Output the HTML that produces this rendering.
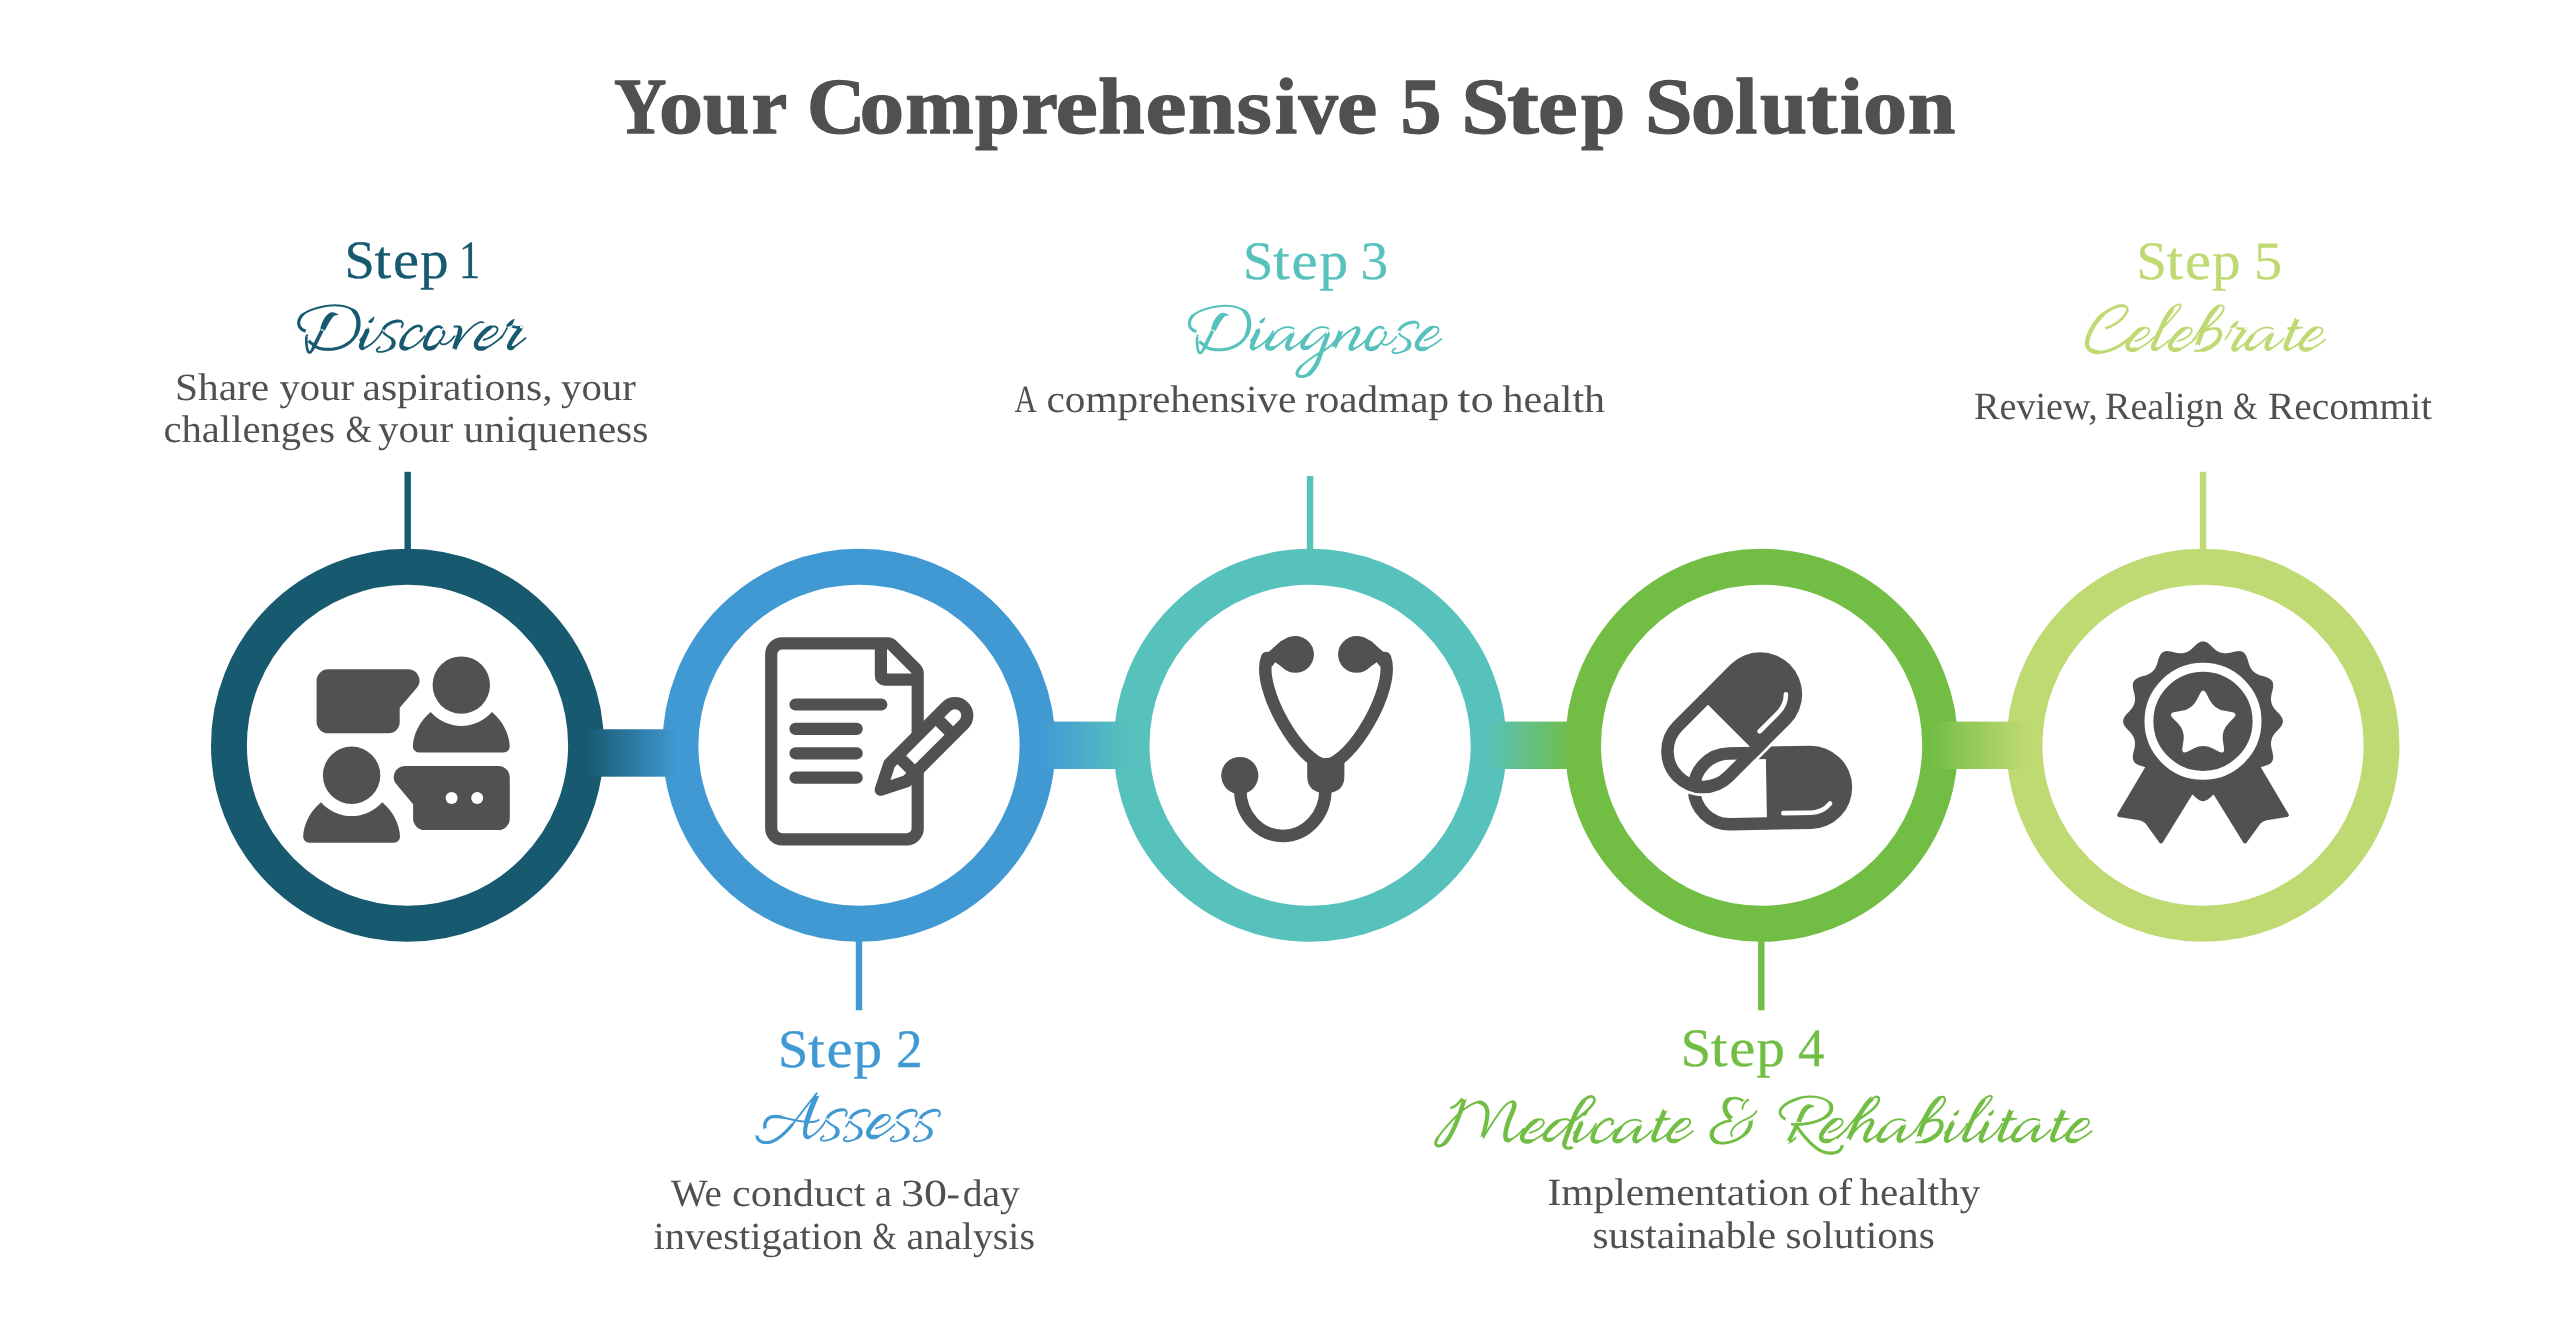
<!DOCTYPE html>
<html><head><meta charset="utf-8"><title>Your Comprehensive 5 Step Solution</title>
<style>
html,body{margin:0;padding:0;background:#fff;}
body{width:2560px;height:1340px;overflow:hidden;font-family:"Liberation Serif",serif;}
svg{display:block;will-change:transform;}
svg text{font-family:"Liberation Serif",serif;text-rendering:geometricPrecision;}
</style></head><body>
<svg width="2560" height="1340" viewBox="0 0 2560 1340">
<rect width="2560" height="1340" fill="#fff"/>
<defs><linearGradient id="g12" gradientUnits="userSpaceOnUse" x1="585.4" y1="0" x2="678.0" y2="0"><stop offset="0" stop-color="#17596F"/><stop offset="1" stop-color="#4199D4"/></linearGradient><linearGradient id="g23" gradientUnits="userSpaceOnUse" x1="1039" y1="0" x2="1131" y2="0"><stop offset="0" stop-color="#4199D4"/><stop offset="1" stop-color="#57C2BC"/></linearGradient><linearGradient id="g34" gradientUnits="userSpaceOnUse" x1="1485.4" y1="0" x2="1575" y2="0"><stop offset="0" stop-color="#57C2BC"/><stop offset="1" stop-color="#72BE44"/></linearGradient><linearGradient id="g45" gradientUnits="userSpaceOnUse" x1="1930.6" y1="0" x2="2027" y2="0"><stop offset="0" stop-color="#72BE44"/><stop offset="1" stop-color="#BFDA73"/></linearGradient></defs>
<circle cx="407.5" cy="745.25" r="178.55" fill="none" stroke="#17596F" stroke-width="35.90"/>
<circle cx="859.0" cy="745.25" r="178.55" fill="none" stroke="#4199D4" stroke-width="35.90"/>
<circle cx="1310.1" cy="745.25" r="178.55" fill="none" stroke="#57C2BC" stroke-width="35.90"/>
<circle cx="1761.6" cy="745.25" r="178.55" fill="none" stroke="#72BE44" stroke-width="35.90"/>
<circle cx="2203.0" cy="745.25" r="178.55" fill="none" stroke="#BFDA73" stroke-width="35.90"/>
<rect x="585.4" y="729.25" width="92.60" height="47.45" fill="url(#g12)"/>
<rect x="1039" y="721.6" width="92.00" height="47.40" fill="url(#g23)"/>
<rect x="1485.4" y="721.6" width="89.60" height="47.40" fill="url(#g34)"/>
<rect x="1930.6" y="721.6" width="96.40" height="47.40" fill="url(#g45)"/>
<rect x="404.50" y="471.8" width="6.4" height="80.20" fill="#17596F"/>
<rect x="855.80" y="938" width="6.4" height="72.30" fill="#4199D4"/>
<rect x="1306.85" y="475.9" width="6.4" height="76.10" fill="#57C2BC"/>
<rect x="1758.10" y="938" width="6.4" height="72.30" fill="#72BE44"/>
<rect x="2199.80" y="471.8" width="6.4" height="80.20" fill="#BFDA73"/>
<g fill="#505252">
<circle cx="461.3" cy="685.1" r="28.7"/><path d="M430.7,712.1 A40.8,40.8 0 0 0 491.9,712.1 C503.3,721.1 509.7,736.1 509.7,746.6 A6,6 0 0 1 503.7,752.6 H418.9 A6,6 0 0 1 412.9,746.6 C412.9,736.1 419.3,721.1 430.7,712.1Z"/>
<circle cx="351.6" cy="775.3" r="28.7"/><path d="M321.0,802.3 A40.8,40.8 0 0 0 382.2,802.3 C393.6,811.3 400.0,826.3 400.0,836.8 A6,6 0 0 1 394.0,842.8 H309.2 A6,6 0 0 1 303.2,836.8 C303.2,826.3 309.6,811.3 321.0,802.3Z"/>
<path d="M328.1,669.3 H408.3 A11.2,11.2 0 0 1 416.7,687.9 L399.7,707.7 V722.3 A11,11 0 0 1 388.7,733.3 H328.1 A11.5,11.5 0 0 1 316.6,721.8 V680.8 A11.5,11.5 0 0 1 328.1,669.3Z"/>
<path d="M498.3,765.9 H405 A11.2,11.2 0 0 0 396.6,784.5 L413.1,804.3 V818.5 A11.5,11.5 0 0 0 424.6,830 H498.3 A11.5,11.5 0 0 0 509.8,818.5 V777.4 A11.5,11.5 0 0 0 498.3,765.9Z"/>
</g>
<circle cx="451.6" cy="797.9" r="6" fill="#fff"/><circle cx="477.2" cy="797.9" r="6" fill="#fff"/>
<g fill="none" stroke="#505252" stroke-width="12.2" stroke-linecap="round" stroke-linejoin="round">
<path d="M782.2,643.4 H887.5 A7,7 0 0 1 892.5,645.5 L915.6,668.6 A7,7 0 0 1 917.7,673.6 V828.3 A11,11 0 0 1 906.7,839.3 H782.2 A11,11 0 0 1 771.2,828.3 V654.4 A11,11 0 0 1 782.2,643.4Z"/>
<path d="M880.9,643.4 V675.7 A4,4 0 0 0 884.9,679.7 H917.7" stroke-linecap="butt"/>
<path d="M795.5,704.5 H881.3 M795.5,728.9 H856.7 M795.5,753.3 H856.7 M795.5,777.7 H856.7"/>
</g>
<g transform="translate(955,715.5) rotate(135)" fill="#fff" stroke="#505252" stroke-width="12.2" stroke-linejoin="round" stroke-linecap="butt">
<path d="M80.5,-12.3 H0 A12.3,12.3 0 0 0 0,12.3 H80.5 L105,0Z"/>
<path d="M15,-12.3 V12.3 M69,-12.3 V12.3" fill="none"/>
</g>
<g fill="#505252" stroke="none">
<circle cx="1295.5" cy="654.4" r="18.4"/><circle cx="1356.5" cy="654.4" r="18.4"/>
<circle cx="1239.8" cy="775.5" r="18.6"/>
<path d="M1307.2,758 H1344.4 V776 Q1344.4,793 1325.8,793 Q1307.2,793 1307.2,776Z"/>
<path d="M1260.8,661 L1266,654 L1271.7,649.2 L1280.6,641.2 L1289.6,636.5 L1292,672.5 L1284.2,668.6 L1275.2,662.3 L1272.5,666Z"/>
<path d="M1391.2,661 L1386.0,654 L1380.3,649.2 L1371.4,641.2 L1362.4,636.5 L1360.0,672.5 L1367.8,668.6 L1376.8,662.3 L1379.5,666Z"/>
</g>
<g fill="none" stroke="#505252" stroke-width="12.5" stroke-linecap="round">
<path d="M1267,658 C1256,688 1301,764.5 1325.8,764.5 C1350.6,764.5 1396,688 1385,658"/>
<path d="M1240.3,790 A42.55,46 0 0 0 1325.4,790"/>
</g>
<g transform="translate(1729.4,788.8) rotate(-1)">
<path d="M38,-35.35 H0 A35.35,35.35 0 0 0 0,35.35 H38" fill="none" stroke="#505252" stroke-width="12.5"/>
<path d="M37,-41.6 H81.2 A41.6,41.6 0 0 1 81.2,41.6 H37Z" fill="#505252"/>
<path d="M100.4,16.4 A25.3,25.3 0 0 1 81.2,25.3 H53.5" fill="none" stroke="#fff" stroke-width="4.6" stroke-linecap="round"/>
</g>
<g transform="translate(1703.2,751.25) rotate(-45)">
<path d="M0,-43.4 H80.6 A43.4,43.4 0 0 1 80.6,43.4 H0 A43.4,43.4 0 0 1 0,-43.4Z" fill="none" stroke="#fff" stroke-width="2.8"/>
<path d="M37.3,-35.75 H0 A35.75,35.75 0 0 0 0,35.75 H37.3" fill="none" stroke="#505252" stroke-width="12.5"/>
<path d="M36.3,-42 H80.6 A42,42 0 0 1 80.6,42 H36.3Z" fill="#505252"/>
<path d="M98.8,18.2 A25.8,25.8 0 0 1 80.6,25.8 H54" fill="none" stroke="#fff" stroke-width="4.6" stroke-linecap="round"/>
</g>
<g fill="#505252" stroke="#505252" stroke-width="4" stroke-linejoin="round">
<path d="M2151.5,760.5 L2119.2,815.1 L2139.8,818.4 Q2145.0,818.9 2148.4,824.0 L2161.1,841.5 L2196.2,784.5Z"/>
<path d="M2254.5,760.5 L2286.8,815.1 L2266.2,818.4 Q2261.0,818.9 2257.6,824.0 L2244.9,841.5 L2209.8,784.5Z"/>
</g>
<path d="M2282.9,721.3 L2282.8,722.7 L2282.3,724.1 L2281.7,725.4 L2280.8,726.7 L2279.8,728.0 L2278.6,729.3 L2277.5,730.4 L2276.4,731.6 L2275.4,732.8 L2274.4,733.9 L2273.6,735.0 L2272.9,736.2 L2272.3,737.3 L2271.9,738.5 L2271.5,739.7 L2271.2,740.9 L2271.1,742.1 L2271.0,743.4 L2271.0,744.7 L2271.2,746.1 L2271.4,747.6 L2271.7,749.1 L2272.1,750.6 L2272.5,752.2 L2272.8,753.9 L2273.1,755.5 L2273.2,757.1 L2273.1,758.6 L2272.8,760.0 L2272.2,761.3 L2271.4,762.4 L2270.3,763.4 L2269.1,764.2 L2267.6,764.9 L2266.1,765.5 L2264.5,766.0 L2263.0,766.5 L2261.4,766.9 L2260.0,767.4 L2258.6,767.9 L2257.3,768.5 L2256.1,769.1 L2255.0,769.8 L2254.1,770.6 L2253.1,771.4 L2252.3,772.4 L2251.5,773.3 L2250.8,774.4 L2250.2,775.6 L2249.6,776.9 L2249.1,778.3 L2248.6,779.7 L2248.2,781.3 L2247.7,782.8 L2247.2,784.4 L2246.6,785.9 L2245.9,787.4 L2245.1,788.6 L2244.1,789.7 L2243.0,790.5 L2241.7,791.1 L2240.3,791.4 L2238.8,791.5 L2237.2,791.4 L2235.6,791.1 L2233.9,790.8 L2232.3,790.4 L2230.8,790.0 L2229.3,789.7 L2227.8,789.5 L2226.4,789.3 L2225.1,789.3 L2223.8,789.4 L2222.6,789.5 L2221.4,789.8 L2220.2,790.2 L2219.0,790.6 L2217.9,791.2 L2216.7,791.9 L2215.6,792.7 L2214.5,793.7 L2213.3,794.7 L2212.1,795.8 L2211.0,796.9 L2209.7,798.1 L2208.4,799.1 L2207.1,800.0 L2205.8,800.6 L2204.4,801.1 L2203.0,801.2 L2201.6,801.1 L2200.2,800.6 L2198.9,800.0 L2197.6,799.1 L2196.3,798.1 L2195.0,796.9 L2193.9,795.8 L2192.7,794.7 L2191.5,793.7 L2190.4,792.7 L2189.3,791.9 L2188.1,791.2 L2187.0,790.6 L2185.8,790.2 L2184.6,789.8 L2183.4,789.5 L2182.2,789.4 L2180.9,789.3 L2179.6,789.3 L2178.2,789.5 L2176.7,789.7 L2175.2,790.0 L2173.7,790.4 L2172.1,790.8 L2170.4,791.1 L2168.8,791.4 L2167.2,791.5 L2165.7,791.4 L2164.3,791.1 L2163.0,790.5 L2161.9,789.7 L2160.9,788.6 L2160.1,787.4 L2159.4,785.9 L2158.8,784.4 L2158.3,782.8 L2157.8,781.3 L2157.4,779.7 L2156.9,778.3 L2156.4,776.9 L2155.8,775.6 L2155.2,774.4 L2154.5,773.3 L2153.7,772.4 L2152.9,771.4 L2151.9,770.6 L2151.0,769.8 L2149.9,769.1 L2148.7,768.5 L2147.4,767.9 L2146.0,767.4 L2144.6,766.9 L2143.0,766.5 L2141.5,766.0 L2139.9,765.5 L2138.4,764.9 L2136.9,764.2 L2135.7,763.4 L2134.6,762.4 L2133.8,761.3 L2133.2,760.0 L2132.9,758.6 L2132.8,757.1 L2132.9,755.5 L2133.2,753.9 L2133.5,752.2 L2133.9,750.6 L2134.3,749.1 L2134.6,747.6 L2134.8,746.1 L2135.0,744.7 L2135.0,743.4 L2134.9,742.1 L2134.8,740.9 L2134.5,739.7 L2134.1,738.5 L2133.7,737.3 L2133.1,736.2 L2132.4,735.0 L2131.6,733.9 L2130.6,732.8 L2129.6,731.6 L2128.5,730.4 L2127.4,729.3 L2126.2,728.0 L2125.2,726.7 L2124.3,725.4 L2123.7,724.1 L2123.2,722.7 L2123.1,721.3 L2123.2,719.9 L2123.7,718.5 L2124.3,717.2 L2125.2,715.9 L2126.2,714.6 L2127.4,713.3 L2128.5,712.2 L2129.6,711.0 L2130.6,709.8 L2131.6,708.7 L2132.4,707.6 L2133.1,706.4 L2133.7,705.3 L2134.1,704.1 L2134.5,702.9 L2134.8,701.7 L2134.9,700.5 L2135.0,699.2 L2135.0,697.9 L2134.8,696.5 L2134.6,695.0 L2134.3,693.5 L2133.9,692.0 L2133.5,690.4 L2133.2,688.7 L2132.9,687.1 L2132.8,685.5 L2132.9,684.0 L2133.2,682.6 L2133.8,681.3 L2134.6,680.2 L2135.7,679.2 L2136.9,678.4 L2138.4,677.7 L2139.9,677.1 L2141.5,676.6 L2143.0,676.1 L2144.6,675.7 L2146.0,675.2 L2147.4,674.7 L2148.7,674.1 L2149.9,673.5 L2151.0,672.8 L2151.9,672.0 L2152.9,671.2 L2153.7,670.2 L2154.5,669.3 L2155.2,668.2 L2155.8,667.0 L2156.4,665.7 L2156.9,664.3 L2157.4,662.9 L2157.8,661.3 L2158.3,659.8 L2158.8,658.2 L2159.4,656.7 L2160.1,655.2 L2160.9,654.0 L2161.9,652.9 L2163.0,652.1 L2164.3,651.5 L2165.7,651.2 L2167.2,651.1 L2168.8,651.2 L2170.4,651.5 L2172.1,651.8 L2173.7,652.2 L2175.2,652.6 L2176.7,652.9 L2178.2,653.1 L2179.6,653.3 L2180.9,653.3 L2182.2,653.2 L2183.4,653.1 L2184.6,652.8 L2185.8,652.4 L2187.0,652.0 L2188.1,651.4 L2189.3,650.7 L2190.4,649.9 L2191.5,648.9 L2192.7,647.9 L2193.9,646.8 L2195.0,645.7 L2196.3,644.5 L2197.6,643.5 L2198.9,642.6 L2200.2,642.0 L2201.6,641.5 L2203.0,641.4 L2204.4,641.5 L2205.8,642.0 L2207.1,642.6 L2208.4,643.5 L2209.7,644.5 L2211.0,645.7 L2212.1,646.8 L2213.3,647.9 L2214.5,648.9 L2215.6,649.9 L2216.7,650.7 L2217.9,651.4 L2219.0,652.0 L2220.2,652.4 L2221.4,652.8 L2222.6,653.1 L2223.8,653.2 L2225.1,653.3 L2226.4,653.3 L2227.8,653.1 L2229.3,652.9 L2230.8,652.6 L2232.3,652.2 L2233.9,651.8 L2235.6,651.5 L2237.2,651.2 L2238.8,651.1 L2240.3,651.2 L2241.7,651.5 L2243.0,652.1 L2244.1,652.9 L2245.1,654.0 L2245.9,655.2 L2246.6,656.7 L2247.2,658.2 L2247.7,659.8 L2248.2,661.3 L2248.6,662.9 L2249.1,664.3 L2249.6,665.7 L2250.2,667.0 L2250.8,668.2 L2251.5,669.3 L2252.3,670.2 L2253.1,671.2 L2254.1,672.0 L2255.0,672.8 L2256.1,673.5 L2257.3,674.1 L2258.6,674.7 L2260.0,675.2 L2261.4,675.7 L2263.0,676.1 L2264.5,676.6 L2266.1,677.1 L2267.6,677.7 L2269.1,678.4 L2270.3,679.2 L2271.4,680.2 L2272.2,681.3 L2272.8,682.6 L2273.1,684.0 L2273.2,685.5 L2273.1,687.1 L2272.8,688.7 L2272.5,690.4 L2272.1,692.0 L2271.7,693.5 L2271.4,695.0 L2271.2,696.5 L2271.0,697.9 L2271.0,699.2 L2271.1,700.5 L2271.2,701.7 L2271.5,702.9 L2271.9,704.1 L2272.3,705.3 L2272.9,706.4 L2273.6,707.6 L2274.4,708.7 L2275.4,709.8 L2276.4,711.0 L2277.5,712.2 L2278.6,713.3 L2279.8,714.6 L2280.8,715.9 L2281.7,717.2 L2282.3,718.5 L2282.8,719.9Z" fill="#505252"/>
<circle cx="2203.0" cy="721.3" r="54.05" fill="none" stroke="#fff" stroke-width="8.9"/>
<path d="M2199.85,693.88 Q2203.20,687.30 2206.55,693.88 L2209.68,700.02 Q2214.37,709.23 2224.58,710.84 L2231.38,711.92 Q2238.67,713.07 2233.45,718.29 L2228.58,723.16 Q2221.27,730.47 2222.89,740.68 L2223.97,747.48 Q2225.12,754.78 2218.55,751.42 L2212.41,748.29 Q2203.20,743.60 2193.99,748.29 L2187.85,751.42 Q2181.28,754.78 2182.43,747.48 L2183.51,740.68 Q2185.13,730.47 2177.82,723.16 L2172.95,718.29 Q2167.73,713.07 2175.02,711.92 L2181.82,710.84 Q2192.03,709.23 2196.72,700.02 Z" fill="#fff"/>
<g opacity="0.999"><text x="614.00" y="133.45" font-size="79.5" font-weight="bold" fill="#4F5151" stroke="#4F5151" stroke-width="1.3" stroke-linejoin="round" textLength="52.43" lengthAdjust="spacingAndGlyphs">Y</text>
<text x="659.00" y="133.45" font-size="79.5" font-weight="bold" fill="#4F5151" stroke="#4F5151" stroke-width="1.3" stroke-linejoin="round" textLength="44.07" lengthAdjust="spacingAndGlyphs">o</text>
<text x="703.00" y="133.45" font-size="79.5" font-weight="bold" fill="#4F5151" stroke="#4F5151" stroke-width="1.3" stroke-linejoin="round" textLength="46.26" lengthAdjust="spacingAndGlyphs">u</text>
<text x="751.50" y="133.45" font-size="79.5" font-weight="bold" fill="#4F5151" stroke="#4F5151" stroke-width="1.3" stroke-linejoin="round" textLength="35.70" lengthAdjust="spacingAndGlyphs">r</text>
<text x="807.00" y="133.45" font-size="79.5" font-weight="bold" fill="#4F5151" stroke="#4F5151" stroke-width="1.3" stroke-linejoin="round" textLength="58.36" lengthAdjust="spacingAndGlyphs">C</text>
<text x="859.50" y="133.45" font-size="79.5" font-weight="bold" fill="#4F5151" stroke="#4F5151" stroke-width="1.3" stroke-linejoin="round" textLength="44.68" lengthAdjust="spacingAndGlyphs">o</text>
<text x="905.25" y="133.45" font-size="79.5" font-weight="bold" fill="#4F5151" stroke="#4F5151" stroke-width="1.3" stroke-linejoin="round" textLength="68.45" lengthAdjust="spacingAndGlyphs">m</text>
<text x="975.00" y="133.45" font-size="79.5" font-weight="bold" fill="#4F5151" stroke="#4F5151" stroke-width="1.3" stroke-linejoin="round" textLength="44.83" lengthAdjust="spacingAndGlyphs">p</text>
<text x="1021.50" y="133.45" font-size="79.5" font-weight="bold" fill="#4F5151" stroke="#4F5151" stroke-width="1.3" stroke-linejoin="round" textLength="36.35" lengthAdjust="spacingAndGlyphs">r</text>
<text x="1055.50" y="133.45" font-size="79.5" font-weight="bold" fill="#4F5151" stroke="#4F5151" stroke-width="1.3" stroke-linejoin="round" textLength="42.35" lengthAdjust="spacingAndGlyphs">e</text>
<text x="1098.00" y="133.45" font-size="79.5" font-weight="bold" fill="#4F5151" stroke="#4F5151" stroke-width="1.3" stroke-linejoin="round" textLength="46.64" lengthAdjust="spacingAndGlyphs">h</text>
<text x="1145.50" y="133.45" font-size="79.5" font-weight="bold" fill="#4F5151" stroke="#4F5151" stroke-width="1.3" stroke-linejoin="round" textLength="40.94" lengthAdjust="spacingAndGlyphs">e</text>
<text x="1188.00" y="133.45" font-size="79.5" font-weight="bold" fill="#4F5151" stroke="#4F5151" stroke-width="1.3" stroke-linejoin="round" textLength="47.09" lengthAdjust="spacingAndGlyphs">n</text>
<text x="1236.50" y="133.45" font-size="79.5" font-weight="bold" fill="#4F5151" stroke="#4F5151" stroke-width="1.3" stroke-linejoin="round" textLength="35.33" lengthAdjust="spacingAndGlyphs">s</text>
<text x="1275.00" y="133.45" font-size="79.5" font-weight="bold" fill="#4F5151" stroke="#4F5151" stroke-width="1.3" stroke-linejoin="round" textLength="22.16" lengthAdjust="spacingAndGlyphs">i</text>
<text x="1298.50" y="133.45" font-size="79.5" font-weight="bold" fill="#4F5151" stroke="#4F5151" stroke-width="1.3" stroke-linejoin="round" textLength="39.45" lengthAdjust="spacingAndGlyphs">v</text>
<text x="1337.00" y="133.45" font-size="79.5" font-weight="bold" fill="#4F5151" stroke="#4F5151" stroke-width="1.3" stroke-linejoin="round" textLength="40.28" lengthAdjust="spacingAndGlyphs">e</text>
<text x="1400.50" y="133.45" font-size="79.5" font-weight="bold" fill="#4F5151" stroke="#4F5151" stroke-width="1.3" stroke-linejoin="round" textLength="40.92" lengthAdjust="spacingAndGlyphs">5</text>
<text x="1461.50" y="133.45" font-size="79.5" font-weight="bold" fill="#4F5151" stroke="#4F5151" stroke-width="1.3" stroke-linejoin="round" textLength="47.32" lengthAdjust="spacingAndGlyphs">S</text>
<text x="1507.00" y="133.45" font-size="79.5" font-weight="bold" fill="#4F5151" stroke="#4F5151" stroke-width="1.3" stroke-linejoin="round" textLength="31.81" lengthAdjust="spacingAndGlyphs">t</text>
<text x="1538.00" y="133.45" font-size="79.5" font-weight="bold" fill="#4F5151" stroke="#4F5151" stroke-width="1.3" stroke-linejoin="round" textLength="39.62" lengthAdjust="spacingAndGlyphs">e</text>
<text x="1581.00" y="133.45" font-size="79.5" font-weight="bold" fill="#4F5151" stroke="#4F5151" stroke-width="1.3" stroke-linejoin="round" textLength="44.18" lengthAdjust="spacingAndGlyphs">p</text>
<text x="1645.00" y="133.45" font-size="79.5" font-weight="bold" fill="#4F5151" stroke="#4F5151" stroke-width="1.3" stroke-linejoin="round" textLength="47.57" lengthAdjust="spacingAndGlyphs">S</text>
<text x="1690.75" y="133.45" font-size="79.5" font-weight="bold" fill="#4F5151" stroke="#4F5151" stroke-width="1.3" stroke-linejoin="round" textLength="45.04" lengthAdjust="spacingAndGlyphs">o</text>
<text x="1735.25" y="133.45" font-size="79.5" font-weight="bold" fill="#4F5151" stroke="#4F5151" stroke-width="1.3" stroke-linejoin="round" textLength="22.07" lengthAdjust="spacingAndGlyphs">l</text>
<text x="1760.00" y="133.45" font-size="79.5" font-weight="bold" fill="#4F5151" stroke="#4F5151" stroke-width="1.3" stroke-linejoin="round" textLength="47.05" lengthAdjust="spacingAndGlyphs">u</text>
<text x="1806.50" y="133.45" font-size="79.5" font-weight="bold" fill="#4F5151" stroke="#4F5151" stroke-width="1.3" stroke-linejoin="round" textLength="31.01" lengthAdjust="spacingAndGlyphs">t</text>
<text x="1840.00" y="133.45" font-size="79.5" font-weight="bold" fill="#4F5151" stroke="#4F5151" stroke-width="1.3" stroke-linejoin="round" textLength="22.73" lengthAdjust="spacingAndGlyphs">i</text>
<text x="1863.00" y="133.45" font-size="79.5" font-weight="bold" fill="#4F5151" stroke="#4F5151" stroke-width="1.3" stroke-linejoin="round" textLength="44.14" lengthAdjust="spacingAndGlyphs">o</text>
<text x="1907.75" y="133.45" font-size="79.5" font-weight="bold" fill="#4F5151" stroke="#4F5151" stroke-width="1.3" stroke-linejoin="round" textLength="47.68" lengthAdjust="spacingAndGlyphs">n</text>
<text x="344.50" y="278.20" font-size="54.0" font-weight="normal" fill="#17596F" stroke="#17596F" stroke-width="0.3" stroke-linejoin="round" textLength="30.32" lengthAdjust="spacingAndGlyphs">S</text>
<text x="374.50" y="278.20" font-size="54.0" font-weight="normal" fill="#17596F" stroke="#17596F" stroke-width="0.3" stroke-linejoin="round" textLength="16.82" lengthAdjust="spacingAndGlyphs">t</text>
<text x="393.00" y="278.20" font-size="54.0" font-weight="normal" fill="#17596F" stroke="#17596F" stroke-width="0.3" stroke-linejoin="round" textLength="26.06" lengthAdjust="spacingAndGlyphs">e</text>
<text x="420.00" y="278.20" font-size="54.0" font-weight="normal" fill="#17596F" stroke="#17596F" stroke-width="0.3" stroke-linejoin="round" textLength="28.60" lengthAdjust="spacingAndGlyphs">p</text>
<text x="459.00" y="278.20" font-size="54.0" font-weight="normal" fill="#17596F" stroke="#17596F" stroke-width="0.3" stroke-linejoin="round" textLength="21.18" lengthAdjust="spacingAndGlyphs">1</text>
<text x="778.00" y="1066.50" font-size="54.0" font-weight="normal" fill="#4199D4" stroke="#4199D4" stroke-width="0.3" stroke-linejoin="round" textLength="30.32" lengthAdjust="spacingAndGlyphs">S</text>
<text x="808.00" y="1066.50" font-size="54.0" font-weight="normal" fill="#4199D4" stroke="#4199D4" stroke-width="0.3" stroke-linejoin="round" textLength="16.82" lengthAdjust="spacingAndGlyphs">t</text>
<text x="826.50" y="1066.50" font-size="54.0" font-weight="normal" fill="#4199D4" stroke="#4199D4" stroke-width="0.3" stroke-linejoin="round" textLength="26.19" lengthAdjust="spacingAndGlyphs">e</text>
<text x="853.50" y="1066.50" font-size="54.0" font-weight="normal" fill="#4199D4" stroke="#4199D4" stroke-width="0.3" stroke-linejoin="round" textLength="28.60" lengthAdjust="spacingAndGlyphs">p</text>
<text x="896.00" y="1066.50" font-size="54.0" font-weight="normal" fill="#4199D4" stroke="#4199D4" stroke-width="0.3" stroke-linejoin="round" textLength="26.66" lengthAdjust="spacingAndGlyphs">2</text>
<text x="1243.00" y="278.60" font-size="54.0" font-weight="normal" fill="#57C2BC" stroke="#57C2BC" stroke-width="0.3" stroke-linejoin="round" textLength="30.32" lengthAdjust="spacingAndGlyphs">S</text>
<text x="1273.00" y="278.60" font-size="54.0" font-weight="normal" fill="#57C2BC" stroke="#57C2BC" stroke-width="0.3" stroke-linejoin="round" textLength="16.82" lengthAdjust="spacingAndGlyphs">t</text>
<text x="1291.50" y="278.60" font-size="54.0" font-weight="normal" fill="#57C2BC" stroke="#57C2BC" stroke-width="0.3" stroke-linejoin="round" textLength="26.01" lengthAdjust="spacingAndGlyphs">e</text>
<text x="1319.50" y="278.60" font-size="54.0" font-weight="normal" fill="#57C2BC" stroke="#57C2BC" stroke-width="0.3" stroke-linejoin="round" textLength="28.60" lengthAdjust="spacingAndGlyphs">p</text>
<text x="1360.50" y="278.60" font-size="54.0" font-weight="normal" fill="#57C2BC" stroke="#57C2BC" stroke-width="0.3" stroke-linejoin="round" textLength="27.68" lengthAdjust="spacingAndGlyphs">3</text>
<text x="1680.75" y="1066.40" font-size="54.0" font-weight="normal" fill="#72BE44" stroke="#72BE44" stroke-width="0.3" stroke-linejoin="round" textLength="30.32" lengthAdjust="spacingAndGlyphs">S</text>
<text x="1710.75" y="1066.40" font-size="54.0" font-weight="normal" fill="#72BE44" stroke="#72BE44" stroke-width="0.3" stroke-linejoin="round" textLength="16.82" lengthAdjust="spacingAndGlyphs">t</text>
<text x="1729.25" y="1066.40" font-size="54.0" font-weight="normal" fill="#72BE44" stroke="#72BE44" stroke-width="0.3" stroke-linejoin="round" textLength="26.01" lengthAdjust="spacingAndGlyphs">e</text>
<text x="1756.25" y="1066.40" font-size="54.0" font-weight="normal" fill="#72BE44" stroke="#72BE44" stroke-width="0.3" stroke-linejoin="round" textLength="28.60" lengthAdjust="spacingAndGlyphs">p</text>
<text x="1798.00" y="1066.40" font-size="54.0" font-weight="normal" fill="#72BE44" stroke="#72BE44" stroke-width="0.3" stroke-linejoin="round" textLength="26.47" lengthAdjust="spacingAndGlyphs">4</text>
<text x="2136.50" y="279.00" font-size="54.0" font-weight="normal" fill="#BFDA73" stroke="#BFDA73" stroke-width="0.3" stroke-linejoin="round" textLength="30.32" lengthAdjust="spacingAndGlyphs">S</text>
<text x="2166.50" y="279.00" font-size="54.0" font-weight="normal" fill="#BFDA73" stroke="#BFDA73" stroke-width="0.3" stroke-linejoin="round" textLength="16.82" lengthAdjust="spacingAndGlyphs">t</text>
<text x="2185.00" y="279.00" font-size="54.0" font-weight="normal" fill="#BFDA73" stroke="#BFDA73" stroke-width="0.3" stroke-linejoin="round" textLength="26.01" lengthAdjust="spacingAndGlyphs">e</text>
<text x="2212.00" y="279.00" font-size="54.0" font-weight="normal" fill="#BFDA73" stroke="#BFDA73" stroke-width="0.3" stroke-linejoin="round" textLength="28.60" lengthAdjust="spacingAndGlyphs">p</text>
<text x="2254.00" y="279.00" font-size="54.0" font-weight="normal" fill="#BFDA73" stroke="#BFDA73" stroke-width="0.3" stroke-linejoin="round" textLength="28.11" lengthAdjust="spacingAndGlyphs">5</text>
<text x="175.00" y="400.30" font-size="38.5" font-weight="normal" fill="#4F5151" textLength="94.15" lengthAdjust="spacingAndGlyphs">Share</text>
<text x="279.50" y="400.30" font-size="38.5" font-weight="normal" fill="#4F5151" textLength="74.62" lengthAdjust="spacingAndGlyphs">your</text>
<text x="362.50" y="400.30" font-size="38.5" font-weight="normal" fill="#4F5151" textLength="190.07" lengthAdjust="spacingAndGlyphs">aspirations,</text>
<text x="561.00" y="400.30" font-size="38.5" font-weight="normal" fill="#4F5151" textLength="74.82" lengthAdjust="spacingAndGlyphs">your</text>
<text x="163.50" y="442.40" font-size="38.5" font-weight="normal" fill="#4F5151" textLength="171.45" lengthAdjust="spacingAndGlyphs">challenges</text>
<text x="345.50" y="442.40" font-size="38.5" font-weight="normal" fill="#4F5151" textLength="26.23" lengthAdjust="spacingAndGlyphs">&amp;</text>
<text x="378.00" y="442.40" font-size="38.5" font-weight="normal" fill="#4F5151" textLength="75.03" lengthAdjust="spacingAndGlyphs">your</text>
<text x="463.50" y="442.40" font-size="38.5" font-weight="normal" fill="#4F5151" textLength="185.02" lengthAdjust="spacingAndGlyphs">uniqueness</text>
<text x="1014.50" y="412.20" font-size="38.5" font-weight="normal" fill="#4F5151" textLength="22.22" lengthAdjust="spacingAndGlyphs">A</text>
<text x="1046.50" y="412.20" font-size="38.5" font-weight="normal" fill="#4F5151" textLength="249.82" lengthAdjust="spacingAndGlyphs">comprehensive</text>
<text x="1305.00" y="412.20" font-size="38.5" font-weight="normal" fill="#4F5151" textLength="144.03" lengthAdjust="spacingAndGlyphs">roadmap</text>
<text x="1457.50" y="412.20" font-size="38.5" font-weight="normal" fill="#4F5151" textLength="36.21" lengthAdjust="spacingAndGlyphs">to</text>
<text x="1502.50" y="412.20" font-size="38.5" font-weight="normal" fill="#4F5151" textLength="102.61" lengthAdjust="spacingAndGlyphs">health</text>
<text x="1974.00" y="418.70" font-size="38.5" font-weight="normal" fill="#4F5151" textLength="123.68" lengthAdjust="spacingAndGlyphs">Review,</text>
<text x="2105.00" y="418.70" font-size="38.5" font-weight="normal" fill="#4F5151" textLength="118.62" lengthAdjust="spacingAndGlyphs">Realign</text>
<text x="2233.00" y="418.70" font-size="38.5" font-weight="normal" fill="#4F5151" textLength="24.47" lengthAdjust="spacingAndGlyphs">&amp;</text>
<text x="2268.00" y="418.70" font-size="38.5" font-weight="normal" fill="#4F5151" textLength="164.02" lengthAdjust="spacingAndGlyphs">Recommit</text>
<text x="671.00" y="1206.25" font-size="38.5" font-weight="normal" fill="#4F5151" textLength="50.85" lengthAdjust="spacingAndGlyphs">We</text>
<text x="732.00" y="1206.25" font-size="38.5" font-weight="normal" fill="#4F5151" textLength="133.41" lengthAdjust="spacingAndGlyphs">conduct</text>
<text x="875.00" y="1206.25" font-size="38.5" font-weight="normal" fill="#4F5151" textLength="16.95" lengthAdjust="spacingAndGlyphs">a</text>
<text x="901.00" y="1206.25" font-size="38.5" font-weight="normal" fill="#4F5151" textLength="46.10" lengthAdjust="spacingAndGlyphs">30</text>
<text x="946.50" y="1206.25" font-size="38.5" font-weight="normal" fill="#4F5151" textLength="13.44" lengthAdjust="spacingAndGlyphs">-</text>
<text x="962.75" y="1206.25" font-size="38.5" font-weight="normal" fill="#4F5151" textLength="57.06" lengthAdjust="spacingAndGlyphs">day</text>
<text x="653.50" y="1248.70" font-size="38.5" font-weight="normal" fill="#4F5151" textLength="209.22" lengthAdjust="spacingAndGlyphs">investigation</text>
<text x="872.50" y="1248.70" font-size="38.5" font-weight="normal" fill="#4F5151" textLength="24.05" lengthAdjust="spacingAndGlyphs">&amp;</text>
<text x="906.50" y="1248.70" font-size="38.5" font-weight="normal" fill="#4F5151" textLength="128.46" lengthAdjust="spacingAndGlyphs">analysis</text>
<text x="1547.50" y="1205.30" font-size="38.5" font-weight="normal" fill="#4F5151" textLength="262.02" lengthAdjust="spacingAndGlyphs">Implementation</text>
<text x="1817.50" y="1205.30" font-size="38.5" font-weight="normal" fill="#4F5151" textLength="34.67" lengthAdjust="spacingAndGlyphs">of</text>
<text x="1859.50" y="1205.30" font-size="38.5" font-weight="normal" fill="#4F5151" textLength="120.81" lengthAdjust="spacingAndGlyphs">healthy</text>
<text x="1592.50" y="1247.60" font-size="38.5" font-weight="normal" fill="#4F5151" textLength="183.65" lengthAdjust="spacingAndGlyphs">sustainable</text>
<text x="1785.50" y="1247.60" font-size="38.5" font-weight="normal" fill="#4F5151" textLength="149.25" lengthAdjust="spacingAndGlyphs">solutions</text></g>
<defs>
<g id="k0"><path d="M341,665l-10,-2l-9,-2l-9,-3l-9,-2l-8,-3l-8,-3l-8,-4l-7,-3l-7,-4l-7,-4l-6,-4l-6,-5l-5,-4l-5,-5l-5,-5l-5,-6l-4,-5l-3,-6l-4,-6l-3,-6l-2,-7l-3,-6l-1,-8l-2,-7l-1,-8l-1,-8l0,-9l0,-8l1,-8l1,-8l2,-8l1,-8l3,-8l2,-7l3,-8l4,-8l3,-7l5,-8l4,-7l5,-7l5,-8l6,-7l5,-7l6,-7l6,-8l7,-8l6,-7l6,-6l6,-6l7,-5l7,-6l7,-5l8,-5l7,-5l8,-5l8,-4l8,-4l8,-5l9,-4l8,-4l9,-4l9,-3l8,-4l9,-4l9,-3l9,-4l9,-3l9,-4l10,-3l9,-3l9,-4l10,-3l10,-3l9,-3l10,-3l10,-3l10,-3l10,-2l10,-3l10,-3l10,-2l10,-3l10,-3l10,-2l11,-3l10,-2l10,-3l10,-2l11,-2l10,-2l10,-2l10,-2l11,-1l10,-2l10,-1l10,-2l11,-1l10,-2l10,-1l11,-1l10,-1l10,-1l10,-1l11,-1l10,0l10,-1l10,0l11,-1l10,0l10,0l10,0l10,0l10,0l10,0l10,1l10,0l10,1l9,0l10,1l10,1l9,1l10,1l9,1l10,1l9,2l9,1l9,2l9,2l9,1l9,2l9,2l9,3l8,2l9,2l8,3l9,3l8,2l8,3l8,3l8,3l8,4l7,3l8,4l7,4l7,4l7,4l6,5l6,6l6,5l6,6l4,6l3,6l4,6l4,7l4,6l4,6l4,6l4,6l3,6l4,5l4,6l4,6l4,6l4,6l3,7l4,6l3,7l3,6l3,7l2,7l3,7l2,7l2,7l2,8l2,7l2,8l1,8l2,8l1,8l1,8l1,8l1,8l0,9l0,8l1,9l-1,9l0,8l0,9l-1,9l-1,9l-1,9l-1,10l-1,9l-2,9l-2,10l-2,9l-2,10l-2,9l-3,10l-3,10l-3,9l-3,10l-2,10l-3,11l-3,10l-3,11l-2,10l-2,7l-3,8l-3,8l-4,7l-4,8l-4,7l-5,7l-5,8l-5,6l-5,7l-6,7l-5,6l-6,7l-6,6l-6,6l-6,7l-6,6l-7,6l-6,6l-7,5l-7,6l-7,6l-7,5l-7,5l-7,6l-7,5l-8,5l-7,5l-8,5l-8,4l-8,5l-8,4l-8,5l-8,4l-8,4l-8,4l-9,4l-8,4l-9,4l-8,3l-9,3l-9,4l-9,3l-8,3l-9,3l-9,3l-9,2l-9,3l-9,2l-10,3l-9,2l-9,2l-9,2l-9,2l-10,1l-9,2l-9,1l-10,1l-9,2l-10,0l-9,1l-9,1l-10,1l-9,0l-12,0l-13,1l-11,0l-12,0l-12,0l-11,-1l-11,0l-11,-1l-11,-1l-11,-1l-10,-1l-10,-1l-10,-1l-9,-2l-10,-2l-9,-1l-9,-2l-8,-3l-9,-2l-8,-2l-8,-3l-7,-3l-8,-3l-7,-3l-6,-3l-7,-3l-6,-4l-6,-4l-6,-3l-5,-4l-5,-5l-5,-4l-7,-6l-9,-7l-7,-6l-8,-6l-8,-6l-8,-7l-8,-6l-8,-6l-8,-6l-8,-6l-8,-6l-8,-7l-8,-6l-8,-6l-8,-6l-8,-6l-8,-7l-8,-6l10,13l2,15l-6,14l-13,10l-15,2l-14,-6l8,6l7,6l8,6l8,6l8,7l8,6l8,6l8,6l8,6l8,6l8,7l8,6l8,6l8,6l8,6l8,7l7,5l4,4l7,6l7,6l8,6l7,5l8,5l8,4l9,5l8,4l9,4l9,3l9,4l10,3l9,3l10,2l10,3l11,2l10,2l11,2l10,2l11,2l11,1l12,1l11,1l12,1l12,1l12,0l12,0l12,1l13,0l12,0l13,-1l13,0l10,0l11,-1l10,-1l10,-1l10,-1l11,-1l10,-1l10,-2l10,-2l10,-1l11,-2l10,-2l10,-3l10,-2l10,-3l10,-2l9,-3l10,-3l10,-3l10,-3l9,-3l10,-4l10,-4l9,-3l9,-4l10,-4l9,-4l9,-5l9,-4l9,-5l9,-4l9,-5l9,-5l9,-5l8,-5l9,-6l8,-5l9,-6l8,-5l8,-6l8,-6l8,-6l7,-7l8,-6l7,-6l8,-7l7,-7l7,-7l7,-7l7,-7l7,-7l6,-7l6,-8l7,-7l6,-8l6,-8l6,-8l5,-7l6,-8l6,-8l6,-8l6,-8l6,-8l6,-10l7,-11l6,-11l5,-11l5,-11l5,-11l3,-11l4,-11l3,-11l3,-12l3,-11l2,-11l3,-11l2,-11l2,-11l1,-11l2,-11l1,-10l1,-11l1,-11l0,-10l0,-11l1,-11l-1,-10l0,-10l-1,-11l0,-10l-2,-10l-1,-10l-1,-10l-2,-10l-2,-9l-2,-10l-2,-10l-3,-9l-3,-9l-3,-10l-3,-9l-4,-9l-3,-9l-4,-8l-4,-9l-5,-8l-4,-9l-5,-8l-5,-8l-5,-8l-6,-7l-6,-8l-6,-7l-7,-7l-7,-6l-7,-6l-8,-5l-8,-5l-8,-4l-10,-5l-9,-4l-9,-3l-8,-3l-9,-4l-8,-3l-9,-4l-8,-3l-8,-4l-8,-4l-9,-4l-8,-3l-9,-4l-8,-3l-9,-3l-9,-3l-9,-3l-9,-3l-9,-2l-9,-3l-10,-2l-9,-2l-9,-2l-10,-2l-10,-2l-9,-2l-10,-1l-10,-2l-10,-1l-10,-1l-10,-2l-10,-1l-10,0l-10,-1l-10,-1l-10,0l-11,-1l-10,0l-10,-1l-11,0l-10,0l-11,0l-10,1l-11,0l-10,0l-11,1l-10,0l-11,1l-11,1l-10,1l-11,1l-10,1l-11,1l-11,1l-10,1l-11,2l-11,1l-10,2l-11,2l-10,2l-11,1l-11,2l-10,2l-11,2l-10,3l-11,2l-11,3l-10,2l-11,3l-10,3l-10,2l-11,3l-10,3l-10,3l-10,2l-10,3l-10,3l-10,3l-10,3l-10,4l-10,3l-10,3l-9,4l-10,3l-10,3l-9,4l-10,4l-9,4l-9,3l-9,4l-9,4l-9,4l-9,5l-9,4l-9,4l-9,5l-8,5l-9,4l-8,5l-9,4l-8,5l-9,5l-8,4l-9,5l-9,5l-10,7l-10,7l-9,7l-9,8l-8,9l-7,9l-7,9l-6,9l-6,10l-5,10l-5,10l-5,10l-4,10l-3,11l-4,11l-2,10l-2,11l-2,11l-1,11l0,12l0,12l1,12l2,11l2,11l3,11l4,11l4,10l4,10l6,9l5,9l7,9l7,8l7,8l7,7l9,7l8,6l9,6l9,6l10,5l9,5l10,4l11,4l10,4l11,3l11,3l11,2l11,2l-14,-7l-9,-13l-1,-16l7,-14l13,-9z"/><path d="M960,370 C910,335 850,305 790,328 C720,360 660,450 622,550 L596,640 L688,680 C730,590 790,480 850,410 C880,380 920,372 960,370Z"/><path d="M609,635l-3,8l-4,8l-4,8l-4,8l-4,9l-4,8l-4,9l-5,9l-4,9l-4,8l-5,9l-4,9l-4,9l-5,9l-4,9l-5,10l-4,9l-5,9l-4,9l-5,10l-5,9l-4,9l-5,10l-4,9l-5,9l-5,10l-4,9l-5,9l-5,10l-4,9l-5,9l-5,10l-4,9l-5,9l-4,9l-5,9l-4,9l-4,10l-4,9l-4,9l-3,9l-5,14l-5,13l-5,11l-5,11l-5,8l-5,8l-5,6l-5,4l-4,3l-3,2l-2,1l-3,-6l-2,-4l-3,-6l-3,-7l-2,-8l-2,-9l-3,-10l-2,-11l-2,-11l-2,-12l-2,-13l-2,-13l-1,-14l-2,-14l-1,-12l-1,-12l0,-11l-1,-12l0,-11l-1,-11l0,-10l0,-10l0,-10l1,-10l1,-9l0,-9l1,-8l2,-8l1,-8l2,-7l2,-8l-7,12l-12,6l-13,0l-12,-7l-6,-12l0,-13l-2,9l-3,9l-2,10l-1,10l-1,10l-1,10l-1,10l0,11l-1,11l0,11l0,11l1,12l0,11l1,12l0,12l1,12l1,13l2,16l2,14l2,14l2,14l2,13l2,12l2,12l3,12l3,10l3,11l4,9l4,9l4,9l6,8l6,7l7,6l9,6l12,4l13,0l11,-2l10,-5l10,-6l8,-6l8,-8l7,-9l8,-10l7,-10l8,-11l8,-11l8,-12l9,-13l5,-9l6,-8l5,-9l5,-9l4,-9l5,-9l5,-9l4,-9l5,-9l4,-10l5,-9l5,-9l4,-10l5,-9l5,-9l4,-10l5,-9l5,-9l4,-10l5,-9l5,-9l4,-10l5,-9l4,-9l5,-10l4,-9l5,-9l4,-9l5,-9l4,-9l5,-9l4,-9l4,-9l4,-9l5,-8l4,-9l4,-8l4,-9l4,-8l4,-8l4,-9l-13,15l-17,6l-18,-3l-15,-13l-6,-17z"/><path d="M313,805l10,-5l10,-5l10,-5l10,-5l10,-5l10,-5l-9,2l-8,-3l-6,-6l-2,-9l3,-8l6,-6l-10,5l-10,5l-10,5l-10,5l-10,5l-10,5l9,-2l8,3l6,6l2,9l-3,8z"/></g>
<g id="k1"><path d="M1372,902l7,-7l7,-7l6,-7l7,-7l7,-7l6,-8l7,-8l6,-8l7,-8l6,-8l7,-8l6,-8l6,-9l7,-8l6,-9l6,-8l6,-9l6,-9l6,-9l6,-9l5,-9l6,-9l5,-9l6,-9l5,-9l5,-9l5,-9l5,-9l5,-9l5,-9l-6,6l-9,3l-9,-2l-6,-6l-3,-8l2,-9l-5,9l-4,9l-5,9l-5,8l-5,9l-5,9l-5,9l-5,8l-6,9l-5,9l-6,8l-6,9l-5,9l-6,8l-6,8l-6,9l-6,8l-6,8l-6,8l-7,8l-6,8l-6,7l-6,8l-7,7l-6,8l-7,7l-6,7l-6,7l-7,6l-6,7l7,-5l9,0l8,5l5,7l0,9z"/><path d="M1555,652l7,-8l-67,-1l-5,7l-5,8l-5,8l-5,8l-4,9l-4,10l-4,9l-4,10l-5,10l-4,10l-5,10l-4,11l-5,10l-4,10l-5,11l-5,10l-4,11l-5,10l-4,11l-5,10l-4,10l-4,11l-4,10l-4,9l-4,10l-4,10l-3,9l-4,9l-3,9l-3,9l-2,9l-3,8l-2,8l-3,12l-1,18l1,17l5,17l8,16l12,14l16,10l17,5l15,0l15,-4l10,-5l6,-4l7,-5l7,-4l6,-4l7,-5l7,-4l7,-4l8,-5l7,-4l8,-4l7,-4l8,-4l8,-5l8,-5l7,-5l8,-5l8,-5l8,-6l8,-6l8,-5l8,-6l8,-7l7,-6l8,-7l8,-6l8,-7l8,-7l8,-7l7,-8l8,-7l8,-8l7,-8l8,-8l7,-8l8,-8l7,-8l7,-9l8,-8l7,-9l7,-9l7,-9l6,-9l7,-9l7,-9l6,-10l7,-9l6,-10l6,-10l6,-10l6,-10l5,-10l6,-10l5,-10l6,-10l4,-11l-5,7l-9,3l-8,-2l-7,-5l-3,-9l2,-8l-5,10l-5,9l-5,10l-6,10l-5,9l-6,10l-5,9l-6,10l-6,9l-6,9l-6,9l-7,9l-6,9l-7,8l-6,9l-7,8l-7,9l-7,8l-7,8l-7,8l-7,8l-7,8l-7,7l-8,8l-7,7l-7,7l-8,7l-7,7l-8,7l-7,7l-8,6l-7,6l-8,6l-7,6l-8,6l-7,6l-8,5l-7,5l-8,5l-7,5l-8,5l-7,5l-7,4l-7,4l-8,4l-7,4l-7,3l-7,3l-7,2l-7,1l-8,2l-7,1l-6,0l-5,-2l1,-9l1,-8l2,-7l2,-7l2,-7l2,-7l3,-8l3,-8l3,-9l4,-8l3,-9l4,-10l4,-9l4,-10l4,-10l4,-10l5,-10l4,-10l5,-11l4,-10l5,-10l4,-11l5,-10l5,-10l4,-11l5,-10l4,-10l4,-10l5,-9l4,-10l4,-10l3,-9l3,-10l2,-9l1,-9l-50,-50l-2,10l7,-8l11,-3l11,2l8,7l4,11z"/><path d="M1540,495 L1660,400 C1665,450 1640,505 1600,530 C1570,535 1545,520 1540,495Z"/></g>
<g id="k2"><path d="M1863,695l1,-7l1,-7l2,-6l2,-6l3,-7l3,-6l4,-6l3,-6l5,-6l4,-6l5,-6l5,-5l6,-6l6,-6l6,-5l6,-5l7,-6l7,-5l7,-4l7,-5l8,-5l8,-4l8,-4l8,-4l8,-4l9,-4l8,-3l9,-4l8,-3l9,-3l9,-2l9,-3l8,-2l9,-2l9,-2l8,-1l9,-2l8,-1l8,-1l9,-1l8,0l7,-1l8,-1l7,-1l8,0l5,-1l7,0l6,1l5,2l4,2l4,3l3,3l2,4l2,4l2,4l1,6l0,5l-1,6l-1,6l-1,5l-2,6l-3,6l-3,6l-4,6l-5,5l-5,5l-5,4l-7,5l10,-3l9,2l8,6l3,10l-2,9l-6,8l8,-6l8,-6l8,-8l6,-8l6,-8l5,-9l4,-9l4,-9l2,-9l2,-10l0,-9l0,-10l-1,-10l-3,-9l-3,-9l-5,-9l-6,-8l-7,-8l-8,-7l-9,-6l-11,-5l-11,-4l-11,-3l-9,-1l-9,-1l-9,-1l-10,-1l-9,0l-10,1l-10,1l-10,1l-10,2l-10,1l-10,3l-10,2l-10,2l-11,3l-10,3l-10,4l-10,3l-10,4l-9,4l-10,4l-10,5l-9,5l-10,4l-9,6l-9,5l-9,6l-9,6l-8,6l-8,6l-9,7l-7,7l-8,7l-7,7l-7,8l-6,7l-7,9l-5,8l-6,9l-5,8l-4,10l-4,9l-4,10l-3,9l-2,10l-2,10l7,-15l13,-9l16,-2l15,7l9,13z"/><path d="M1812,694l1,9l3,10l4,9l5,9l6,9l7,8l6,7l8,7l8,7l8,7l8,6l9,7l9,6l9,6l9,5l9,6l9,6l8,5l9,5l8,6l7,6l7,6l7,6l5,7l5,6l3,6l3,6l2,6l2,6l2,6l1,5l1,6l1,5l0,5l1,5l0,5l0,5l-1,5l-1,5l-2,6l-2,5l-2,6l-4,6l-3,6l-4,6l-5,7l-5,8l-5,8l-6,9l-6,8l-7,7l-7,7l-8,7l-9,6l-9,5l-9,5l-10,4l-10,4l-11,4l-10,3l-10,3l-10,3l-10,2l-10,3l-10,1l-10,2l-9,1l-9,1l-9,0l-8,0l-8,0l-7,-1l-7,-1l-6,-1l-5,-2l-5,-1l-4,-2l-2,-5l0,-5l1,-3l3,-5l4,-4l5,-5l6,-5l7,-6l8,-4l8,-5l9,-4l9,-4l9,-4l-9,1l-8,-4l-6,-8l-1,-9l4,-8l8,-6l-11,4l-10,5l-11,5l-10,5l-9,7l-9,6l-9,7l-7,7l-7,9l-5,8l-4,10l-2,11l1,11l4,11l7,11l9,7l7,4l8,3l8,2l9,2l9,1l9,1l9,0l10,0l10,0l11,-1l10,-1l11,-2l11,-2l11,-2l11,-3l11,-3l11,-3l11,-4l11,-4l11,-4l11,-5l11,-4l11,-5l11,-4l11,-4l11,-4l11,-4l11,-5l13,-6l12,-7l10,-9l10,-9l8,-9l7,-11l7,-10l5,-11l4,-12l3,-11l3,-12l1,-11l1,-12l0,-11l-2,-12l-3,-11l-3,-11l-5,-10l-6,-10l-7,-9l-7,-8l-9,-8l-9,-7l-9,-5l-8,-5l-9,-5l-9,-5l-9,-5l-9,-5l-9,-5l-9,-6l-9,-5l-8,-6l-9,-6l-9,-5l-8,-6l-8,-5l-8,-6l-8,-5l-7,-6l-6,-6l-6,-6l-5,-5l-5,-6l-3,-6l-4,-5l-2,-5l-2,-6l-1,-7l-1,11l-6,9l-9,4l-11,-1l-9,-6z"/></g>
<g id="k3"><path d="M1748,846l8,-10l8,-10l7,-9l7,-10l7,-9l6,-9l7,-9l6,-9l5,-9l6,-9l5,-8l5,-8l5,-8l4,-8l5,-8l4,-7l4,-8l-6,7l-9,2l-8,-2l-7,-6l-2,-9l2,-8l-4,7l-4,7l-4,7l-5,8l-4,8l-5,8l-5,8l-6,8l-5,9l-6,8l-6,9l-6,9l-7,9l-6,9l-7,9l-8,10l-7,9l7,-5l9,-1l8,4l5,7l1,9z"/></g>
<g id="k4"><path d="M426,715l7,-9l5,-10l5,-10l4,-10l3,-11l1,-10l1,-10l-1,-10l-2,-10l-3,-10l-4,-9l-5,-8l-7,-8l-8,-7l-8,-6l-10,-5l-9,-4l-11,-2l-11,-2l-12,-1l-12,0l-13,1l-11,3l-9,3l-9,3l-10,3l-9,4l-9,4l-9,4l-9,5l-9,5l-9,5l-9,6l-8,6l-9,6l-9,6l-8,7l-9,6l-8,7l-8,7l-8,8l-8,7l-8,8l-8,7l-8,8l-7,8l-7,8l-8,8l-7,9l-7,8l-7,8l-7,8l-8,7l-7,8l-9,11l-7,9l-6,7l-8,10l-6,9l-7,10l-5,11l-5,10l-5,11l-4,10l-4,10l-4,11l-3,10l-3,10l-2,11l-2,10l-2,10l-1,10l-1,10l-1,10l1,10l0,9l2,10l2,10l3,10l5,9l5,9l6,9l8,8l8,7l10,6l10,5l10,4l11,3l10,2l12,1l14,0l13,-2l13,-3l13,-4l13,-5l9,-4l9,-5l9,-4l9,-4l9,-4l8,-4l9,-4l9,-4l9,-4l9,-4l9,-4l9,-5l8,-4l9,-5l9,-6l9,-5l8,-6l9,-5l8,-6l9,-6l8,-7l8,-6l9,-7l8,-6l8,-7l8,-7l8,-7l7,-7l8,-8l8,-7l7,-7l8,-8l7,-7l7,-8l7,-7l7,-8l7,-7l6,-8l7,-7l6,-8l6,-8l6,-7l6,-8l6,-7l5,-8l6,-7l-7,6l-9,1l-8,-3l-6,-7l-1,-9l3,-8l-5,7l-5,7l-6,7l-6,7l-5,8l-6,7l-7,7l-6,8l-6,7l-7,7l-6,8l-7,7l-7,7l-7,7l-7,7l-7,8l-8,7l-7,6l-7,7l-8,7l-8,7l-7,6l-8,7l-8,6l-8,6l-8,6l-8,6l-8,5l-8,6l-8,5l-8,5l-8,5l-8,5l-8,4l-9,4l-8,4l-8,4l-8,3l-8,3l-9,2l-8,2l-9,1l-8,0l-8,0l-8,-1l-8,-2l-11,-2l-10,-3l-10,-2l-10,-3l-9,-1l-8,-2l-5,0l-4,-2l-3,-1l-2,-4l-2,-5l0,-4l-1,-4l0,-5l0,-5l1,-6l1,-6l1,-7l2,-7l1,-7l3,-8l2,-8l3,-8l3,-9l4,-8l3,-9l4,-9l4,-10l3,-9l4,-10l3,-10l5,-13l1,-10l2,-5l4,-9l5,-9l5,-8l6,-8l5,-8l7,-8l6,-7l7,-8l7,-7l7,-7l7,-7l7,-7l8,-7l7,-7l8,-6l7,-6l8,-6l7,-6l8,-6l8,-5l8,-5l7,-5l8,-5l8,-4l8,-4l7,-4l8,-3l7,-4l8,-2l7,-3l7,-2l6,-1l8,-1l8,0l7,0l6,1l5,2l5,2l4,2l3,2l3,2l2,3l2,2l1,3l1,4l1,3l0,4l0,5l-1,4l-1,6l-3,5l-3,6l-3,7l-5,7l10,-9l13,-2l13,5l9,10l2,13z"/><circle cx="408" cy="688" r="24"/></g>
<g id="k5"><path d="M863,649l-4,-9l-5,-9l-6,-9l-6,-8l-6,-7l-8,-6l-7,-6l-8,-5l-8,-4l-9,-4l-9,-3l-9,-2l-9,-1l-9,0l-9,0l-9,1l-9,1l-10,2l-9,3l-9,3l-9,4l-9,4l-9,5l-9,5l-9,6l-9,6l-9,7l-9,6l-9,7l-9,7l-10,7l-11,9l-9,9l-9,8l-8,9l-8,9l-7,9l-7,10l-7,9l-6,11l-6,10l-5,10l-6,10l-5,11l-6,10l-5,10l-5,11l-4,10l-5,10l-4,11l-4,10l-4,10l-3,10l-3,10l-3,10l-3,10l-2,10l-2,10l-2,10l-1,10l-1,9l-1,10l0,9l1,10l0,9l2,11l3,12l5,11l6,11l8,9l8,9l9,7l9,6l10,5l11,4l10,3l11,3l11,1l11,1l12,0l11,-1l11,-1l12,-2l11,-2l12,-4l12,-3l11,-5l12,-5l11,-7l10,-7l10,-9l9,-9l9,-10l7,-11l7,-11l7,-10l7,-9l7,-10l8,-9l7,-9l8,-8l8,-9l7,-9l8,-9l7,-9l6,-9l7,-9l6,-9l6,-9l6,-9l6,-10l5,-9l5,-9l5,-8l5,-9l4,-9l4,-9l4,-8l3,-8l3,-9l3,-8l3,-8l2,-7l2,-10l0,-14l-1,-13l-5,-12l-7,-10l-10,-7l-11,-4l-12,-1l-12,3l-10,5l-8,6l9,-4l10,1l8,6l4,9l-1,10l-6,8l5,-4l4,-2l4,2l1,3l1,6l-1,8l-1,4l-2,7l-2,6l-2,7l-3,8l-3,7l-3,8l-4,8l-4,8l-4,8l-5,8l-4,8l-5,9l-6,8l-5,9l-6,8l-6,9l-6,8l-7,9l-6,9l-7,8l-7,8l-7,9l-7,8l-8,8l-9,7l-8,7l-10,6l-9,6l-11,5l-10,3l-9,4l-9,3l-9,3l-9,4l-8,3l-7,3l-8,3l-8,2l-7,2l-7,2l-7,1l-7,1l-6,0l-6,0l-6,0l-5,-1l-4,-1l-4,-1l-3,-1l-5,-3l-3,-2l-2,-4l0,-4l-1,-4l0,-5l0,-6l1,-6l0,-6l1,-7l1,-7l2,-7l2,-8l2,-8l2,-8l3,-8l3,-8l3,-9l3,-9l4,-9l4,-8l4,-9l4,-10l4,-9l5,-9l5,-9l5,-9l5,-9l5,-10l6,-9l5,-9l5,-9l5,-10l5,-9l5,-10l4,-10l4,-9l4,-8l6,-8l6,-8l6,-7l7,-6l7,-6l7,-5l7,-5l7,-4l7,-3l7,-4l6,-2l7,-3l6,-1l6,-2l6,-1l6,0l5,0l5,0l5,1l5,1l5,1l4,2l4,2l4,3l4,3l4,3l4,4l3,5l4,5l3,6l4,7l-3,-13l4,-13l11,-8l13,-3l13,4z"/><path d="M763,883l2,11l3,11l3,10l5,10l5,8l6,8l6,7l8,6l8,6l8,4l9,3l10,2l9,2l10,0l10,0l10,-2l11,-2l10,-3l11,-4l10,-4l11,-6l9,-5l9,-5l9,-6l9,-6l9,-6l8,-6l8,-7l8,-7l8,-7l8,-7l8,-7l7,-8l8,-7l7,-8l7,-8l7,-8l6,-7l7,-8l6,-8l6,-8l6,-8l6,-8l5,-8l5,-7l-6,5l-9,2l-9,-3l-5,-6l-2,-9l3,-9l-5,8l-5,7l-6,8l-5,7l-6,8l-6,7l-6,8l-6,7l-7,7l-6,8l-7,7l-7,7l-7,7l-7,7l-7,7l-8,6l-7,6l-8,6l-8,6l-8,6l-8,5l-8,5l-8,5l-8,5l-9,4l-9,4l-9,3l-8,3l-8,1l-7,1l-7,1l-7,-1l-6,0l-6,-2l-5,-2l-5,-2l-5,-3l-4,-4l-4,-4l-4,-5l-3,-5l-3,-7l-2,-7l-2,-8l-2,-10l-1,9l-5,7l-8,4l-9,-1l-7,-5z"/><circle cx="852" cy="722" r="26"/><circle cx="786" cy="884" r="22"/></g>
<g id="k6"><path d="M1044,629l10,-2l9,-2l9,-2l10,-1l9,-1l10,-1l9,0l10,0l9,2l9,3l8,4l7,5l-15,7l3,9l-2,5l0,3l-1,5l0,5l-1,6l-1,6l-1,8l-1,8l-2,8l-1,9l-3,9l-2,10l-3,10l-3,11l-4,10l-3,11l-4,11l-4,12l-4,11l-5,12l-4,11l-5,13l-4,12l-4,11l-4,10l-4,11l-3,10l-4,11l-3,10l-3,10l-4,10l-3,10l-3,10l-2,9l-3,10l-2,10l-2,9l-2,9l-1,10l-2,9l-1,9l1,23l8,-18l16,-11l20,-2l18,9l11,16l1,19l9,-20l2,-7l2,-8l3,-8l2,-8l3,-8l3,-8l2,-9l3,-9l2,-9l3,-9l3,-10l3,-9l4,-10l3,-10l3,-10l4,-10l4,-11l3,-11l4,-10l5,-11l4,-13l5,-12l4,-12l5,-12l4,-12l4,-12l4,-12l3,-12l4,-12l3,-11l2,-12l3,-11l2,-11l1,-11l2,-10l0,-11l0,-10l-1,-11l-1,-10l-3,-10l-4,-10l-5,-9l-18,-26l-28,-13l-12,0l-12,0l-11,1l-12,0l-11,0l-11,0l-11,1l-11,1l-11,2l-11,2l-10,2l-9,2l10,0l8,6l5,9l0,10l-6,8z"/><path d="M1087,1071l3,-6l3,-7l4,-7l3,-7l4,-7l4,-7l4,-7l4,-8l5,-7l4,-8l5,-8l4,-7l5,-8l5,-8l5,-8l5,-8l5,-8l6,-9l5,-8l6,-8l5,-9l6,-8l6,-8l6,-9l6,-8l6,-9l6,-8l6,-9l6,-8l7,-9l6,-8l7,-8l6,-9l7,-8l7,-9l7,-8l6,-8l7,-9l7,-8l7,-8l7,-8l8,-8l7,-8l7,-8l7,-8l7,-8l8,-7l7,-8l8,-7l7,-8l7,-7l8,-7l7,-7l8,-7l7,-7l8,-6l8,-7l7,-6l8,-6l7,-6l8,-6l8,-6l7,-5l8,-6l7,-5l8,-5l7,-5l8,-4l7,-5l8,-4l7,-4l8,-4l7,-3l7,-3l8,-4l7,-3l7,-2l6,-2l10,-2l9,-1l8,0l7,2l6,2l5,2l3,3l3,3l2,4l2,5l-1,-9l4,-8l8,-4l9,-1l8,4l4,8l-2,-9l-6,-10l-7,-8l-9,-7l-10,-5l-11,-4l-11,-2l-13,0l-13,1l-13,2l-9,3l-8,3l-8,4l-9,3l-8,4l-8,4l-8,4l-8,4l-8,5l-8,4l-8,5l-8,5l-8,6l-8,5l-8,6l-8,6l-8,6l-8,6l-8,6l-8,7l-8,6l-7,7l-8,7l-8,7l-8,7l-8,7l-7,7l-8,8l-8,7l-7,8l-8,8l-7,8l-8,8l-7,8l-8,8l-7,8l-7,8l-8,8l-7,9l-7,8l-7,9l-7,8l-7,9l-7,8l-7,9l-6,8l-7,9l-7,9l-6,8l-7,9l-6,9l-6,8l-6,9l-6,8l-6,9l-6,9l-6,8l-6,9l-5,8l-6,9l-5,8l-6,8l-5,8l-5,9l-5,8l-5,8l-5,8l-4,8l-5,7l-4,8l-5,8l-4,7l-4,8l-4,7l-4,7l-3,7l-4,7l-3,7l6,-7l8,-3l9,2l7,6l2,8z"/></g>
<g id="k7"><path d="M1624,888l10,-3l11,-3l10,-2l11,-3l10,-4l11,-3l10,-4l11,-3l10,-4l10,-5l10,-4l11,-4l10,-5l10,-5l10,-4l9,-5l10,-6l9,-5l9,-5l9,-6l9,-6l9,-6l8,-6l8,-6l8,-6l7,-6l7,-7l7,-6l7,-7l6,-7l6,-7l5,-7l5,-7l5,-8l4,-7l4,-8l3,-8l3,-8l2,-9l1,-12l-1,-11l-1,-11l-4,-10l-4,-9l-6,-8l-7,-7l-7,-7l-8,-5l-9,-4l-9,-3l-10,-3l-9,-1l-10,-1l-11,-1l-10,0l-10,-1l-11,0l-11,1l-11,1l-14,2l-10,4l-5,0l-9,2l-8,3l-9,3l-9,4l-8,4l-9,5l-8,6l-8,6l-8,6l-8,6l-8,7l-8,7l-8,7l-8,7l-8,8l-9,7l-7,8l-8,8l-8,8l-8,8l-8,8l-8,9l-7,8l-8,9l-7,9l-7,8l-8,9l-7,9l-7,9l-6,9l-7,9l-6,9l-7,9l-6,9l-6,9l-5,9l-6,10l-5,9l-5,9l-7,12l-5,16l-3,13l-2,13l-2,13l0,13l1,13l2,12l3,12l4,12l5,11l7,10l7,10l9,8l9,8l10,7l10,6l11,4l11,4l12,3l12,2l12,2l13,0l12,0l13,-1l11,-1l11,-3l11,-3l10,-3l10,-4l10,-5l12,-6l9,-7l8,-6l8,-6l7,-6l8,-6l8,-5l9,-5l8,-5l9,-5l9,-5l8,-5l9,-5l9,-5l9,-5l8,-6l9,-5l9,-6l8,-6l9,-5l9,-6l8,-7l9,-6l9,-6l8,-6l8,-7l9,-6l8,-7l9,-7l8,-6l8,-7l8,-7l8,-7l8,-7l8,-7l7,-8l8,-7l8,-7l7,-8l7,-7l7,-7l8,-8l7,-8l6,-7l7,-8l-7,5l-9,1l-8,-4l-5,-7l-1,-9l4,-8l-6,7l-7,7l-7,8l-6,7l-7,7l-7,7l-8,7l-7,7l-7,7l-8,7l-7,7l-8,7l-8,7l-7,7l-8,6l-8,7l-8,6l-8,7l-8,6l-9,6l-8,6l-8,6l-9,6l-8,6l-8,6l-9,6l-8,5l-9,6l-8,5l-8,5l-9,6l-8,5l-9,4l-8,5l-9,5l-8,4l-9,4l-8,4l-9,2l-9,3l-9,2l-9,1l-9,1l-7,0l-7,-2l-9,-1l-9,0l-9,0l-10,-1l-9,1l-10,0l-9,1l-8,0l-6,0l-7,-1l-5,-1l-5,-1l-5,-2l-4,-1l-3,-2l-3,-2l-2,-2l-4,-4l-3,-6l-1,-3l-1,-3l-1,-5l0,-5l0,-5l1,-6l1,-7l2,-8l2,-6l2,-4l4,-8l5,-7l5,-8l4,-8l6,-8l5,-8l6,-8l5,-8l6,-8l6,-9l7,-8l6,-8l7,-8l6,-8l7,-8l7,-7l7,-8l7,-8l7,-7l7,-8l7,-7l7,-7l7,-7l8,-7l7,-7l7,-6l7,-6l7,-6l7,-6l7,-6l7,-5l7,-5l7,-5l6,-6l6,-5l5,-5l6,-5l5,-5l5,-4l8,-7l3,-6l4,-4l6,-5l7,-4l8,-3l7,-2l8,-2l8,0l7,1l7,1l6,1l6,2l5,3l5,3l4,3l3,4l3,3l2,5l2,5l1,5l0,7l-1,7l-1,5l-2,5l-2,6l-3,6l-3,6l-4,6l-4,6l-5,6l-4,5l-6,6l-5,6l-6,6l-7,6l-6,5l-7,6l-8,5l-7,6l-8,5l-8,6l-8,5l-9,5l-9,5l-9,5l-9,4l-9,5l-10,4l-9,5l-10,4l-9,4l-10,4l-10,4l-10,3l-10,4l-10,3l-10,3l-10,3l-10,3l-9,2l-10,2l9,1l8,5l5,8l-1,9l-5,8z"/></g>
<g id="k8"><path d="M1624,888l10,-3l11,-3l10,-2l11,-3l10,-4l11,-3l10,-4l11,-3l10,-4l10,-5l10,-4l11,-4l10,-5l10,-5l10,-4l9,-5l10,-6l9,-5l9,-5l9,-6l9,-6l9,-6l8,-6l8,-6l8,-6l7,-6l7,-7l7,-6l7,-7l6,-7l6,-7l5,-7l5,-7l5,-8l4,-7l4,-8l3,-8l3,-8l2,-9l1,-12l-1,-11l-1,-11l-4,-10l-4,-9l-6,-8l-7,-7l-7,-7l-8,-5l-9,-4l-9,-3l-10,-3l-9,-1l-10,-1l-11,-1l-10,0l-10,-1l-11,0l-11,1l-11,1l-14,2l-10,4l-5,0l-9,2l-8,3l-9,3l-9,4l-8,4l-9,5l-8,6l-8,6l-8,6l-8,6l-8,7l-8,7l-8,7l-8,7l-8,8l-9,7l-7,8l-8,8l-8,8l-8,8l-8,8l-8,9l-7,8l-8,9l-7,9l-7,8l-8,9l-7,9l-7,9l-6,9l-7,9l-6,9l-7,9l-6,9l-6,9l-5,9l-6,10l-5,9l-5,9l-7,12l-5,16l-3,13l-2,13l-2,13l0,13l1,13l2,12l3,12l4,12l5,11l7,10l7,10l9,8l9,8l10,7l10,6l11,4l11,4l12,3l12,2l12,2l13,0l12,0l13,-1l11,-1l11,-3l11,-2l10,-4l10,-4l10,-4l12,-6l10,-8l8,-7l8,-6l9,-6l8,-6l9,-6l9,-5l9,-5l9,-5l10,-5l9,-5l9,-5l9,-5l10,-6l9,-5l9,-6l9,-5l9,-6l9,-6l9,-6l8,-6l9,-6l9,-6l9,-6l8,-7l8,-6l9,-6l8,-7l8,-6l8,-7l8,-6l8,-7l8,-6l7,-7l7,-6l8,-7l7,-6l-8,4l-9,-1l-8,-4l-4,-8l1,-9l4,-8l-7,7l-7,6l-7,7l-7,6l-7,6l-8,7l-8,6l-7,6l-8,6l-8,7l-8,6l-8,6l-9,6l-8,6l-8,6l-9,6l-9,6l-8,5l-9,6l-9,6l-8,5l-9,5l-9,6l-9,5l-9,5l-9,5l-9,5l-9,5l-9,4l-9,5l-9,4l-9,3l-10,2l-10,2l-9,2l-10,1l-8,-1l-7,-1l-9,-1l-9,0l-9,-1l-10,0l-9,1l-10,0l-9,1l-8,0l-6,0l-7,-1l-5,-1l-5,-1l-5,-2l-4,-1l-3,-2l-3,-2l-2,-2l-4,-4l-3,-6l-1,-3l-1,-3l-1,-5l0,-5l0,-5l1,-6l1,-7l2,-8l2,-6l2,-4l4,-8l5,-7l5,-8l4,-8l6,-8l5,-8l6,-8l5,-8l6,-8l6,-9l7,-8l6,-8l7,-8l6,-8l7,-8l7,-7l7,-8l7,-8l7,-7l7,-8l7,-7l7,-7l7,-7l8,-7l7,-7l7,-6l7,-6l7,-6l7,-6l7,-6l7,-5l7,-5l7,-5l6,-6l6,-5l5,-5l6,-5l5,-5l5,-4l8,-7l3,-6l4,-4l6,-5l7,-4l8,-3l7,-2l8,-2l8,0l7,1l7,1l6,1l6,2l5,3l5,3l4,3l3,4l3,3l2,5l2,5l1,5l0,7l-1,7l-1,5l-2,5l-2,6l-3,6l-3,6l-4,6l-4,6l-5,6l-4,5l-6,6l-5,6l-6,6l-7,6l-6,5l-7,6l-8,5l-7,6l-8,5l-8,6l-8,5l-9,5l-9,5l-9,5l-9,4l-9,5l-10,4l-9,5l-10,4l-9,4l-10,4l-10,4l-10,3l-10,4l-10,3l-10,3l-10,3l-10,3l-9,2l-10,2l9,1l8,5l5,8l-1,9l-5,8z"/></g>
<g id="k9"><path d="M1988,859l6,-8l6,-9l6,-9l6,-9l6,-9l6,-9l6,-9l5,-9l6,-9l6,-9l6,-9l5,-9l6,-9l5,-9l5,-9l6,-9l5,-9l5,-9l5,-9l5,-9l5,-9l4,-8l5,-9l4,-9l5,-8l4,-9l4,-8l4,-8l-6,6l-8,3l-8,-1l-6,-6l-3,-8l1,-8l-4,8l-3,8l-5,8l-4,9l-4,8l-4,8l-5,9l-5,9l-5,8l-4,9l-5,9l-6,9l-5,8l-5,9l-5,9l-6,9l-5,9l-6,9l-5,9l-6,9l-6,9l-6,9l-5,8l-6,9l-6,9l-6,9l-6,8l-5,9l6,-6l8,-1l8,3l6,6l1,8z"/><path d="M2085,592 C2125,520 2190,470 2252,448 C2262,470 2232,530 2200,578 L2120,612Z"/><path d="M2180,614l10,4l11,4l11,4l11,3l10,3l11,3l11,2l10,2l11,2l11,1l10,1l11,1l10,0l11,0l10,0l11,-1l10,-1l10,-1l11,-2l9,-1l-13,-1l-11,-8l-6,-12l1,-14l8,-11l12,-6l-9,2l-9,1l-8,2l-9,0l-9,1l-9,0l-9,0l-9,0l-9,-1l-9,0l-9,-2l-9,-1l-9,-2l-9,-2l-9,-2l-10,-2l-9,-3l-9,-4l-9,-3l-10,-4l11,8l5,13l-2,13l-8,11l-13,5z"/><path d="M2393,646l-48,-37l-6,5l-5,6l-6,6l-6,6l-6,7l-5,7l-6,8l-7,8l-6,8l-6,8l-7,8l-6,9l-7,9l-7,9l-7,9l-6,9l-7,10l-7,9l-7,10l-7,10l-6,10l-7,9l-7,10l-6,10l-7,10l-6,10l-6,10l-6,10l-6,10l-6,10l-6,10l-5,9l-5,10l-5,10l-5,9l-4,10l-4,9l-4,10l-4,11l-4,16l-2,16l0,16l3,17l7,16l11,13l13,10l15,6l13,3l13,0l12,-1l11,-3l11,-5l9,-5l11,-7l10,-11l8,-10l8,-9l8,-8l8,-8l9,-8l9,-7l10,-6l9,-7l9,-6l9,-7l9,-6l8,-7l9,-7l9,-6l8,-7l8,-6l9,-7l8,-6l7,-6l8,-7l8,-6l7,-6l7,-6l8,-6l7,-6l6,-6l7,-5l6,-6l6,-5l7,-5l5,-5l6,-5l5,-5l-8,4l-8,-1l-8,-5l-4,-8l1,-8l5,-8l-6,5l-5,5l-6,5l-6,5l-6,5l-7,6l-6,5l-7,6l-7,6l-7,6l-7,6l-7,6l-8,6l-7,6l-8,6l-8,7l-8,6l-8,6l-8,7l-9,6l-8,7l-9,6l-9,6l-8,7l-9,6l-9,7l-9,6l-10,6l-10,6l-10,4l-11,4l-11,3l-12,3l-9,1l-5,-1l-6,0l1,12l1,-7l2,-8l2,-5l3,-7l3,-8l4,-8l4,-8l4,-8l5,-9l4,-9l5,-9l6,-9l5,-9l6,-9l5,-9l6,-9l6,-10l6,-9l7,-9l6,-10l7,-9l6,-9l7,-10l6,-9l7,-9l6,-9l7,-8l6,-9l7,-9l6,-8l6,-8l7,-8l6,-8l6,-7l5,-8l6,-7l5,-7l5,-7l5,-6l4,-6l4,-6l6,-8l16,-34l-52,-42l18,1l15,10l9,16l-1,18l-10,15z"/></g>
<g id="k10"><path d="M303,255l-7,-6l-7,-6l-7,-6l-8,-6l-9,-4l-8,-5l-9,-4l-9,-3l-9,-3l-10,-3l-9,-3l-10,-1l-10,-2l-10,-1l-10,-1l-11,0l-10,0l-11,0l-10,1l-11,1l-10,2l-11,2l-11,2l-11,2l-10,3l-11,4l-11,3l-10,4l-10,4l-11,5l-10,5l-9,5l-9,5l-9,5l-9,6l-8,6l-9,6l-8,7l-8,7l-8,6l-7,7l-8,8l-8,7l-8,7l-8,6l-8,7l-9,6l-10,6l-11,6l-11,7l-10,8l-10,8l-9,9l-9,9l-8,10l-7,10l-7,10l-7,10l-7,10l-6,10l-6,10l-6,10l-6,9l-5,10l-5,10l-4,10l-5,9l-3,10l-4,10l-2,9l-3,10l-1,10l-2,10l0,9l0,10l1,11l3,10l4,12l7,13l9,11l11,9l11,7l12,5l12,3l12,3l12,1l12,0l13,-1l12,-2l12,-3l13,-4l11,-5l12,-7l10,-8l11,-9l7,-7l7,-7l7,-7l7,-6l7,-7l7,-6l8,-6l8,-6l8,-5l8,-6l8,-6l9,-6l8,-6l8,-6l8,-7l8,-6l8,-7l9,-6l8,-7l8,-6l8,-7l8,-7l8,-7l8,-7l8,-7l8,-7l8,-7l8,-7l8,-7l8,-7l8,-7l7,-7l8,-7l7,-7l8,-7l7,-7l8,-7l7,-7l7,-7l7,-7l7,-6l7,-7l7,-7l7,-7l7,-6l-8,4l-10,0l-8,-4l-4,-9l0,-9l4,-8l-6,7l-7,6l-7,7l-7,7l-7,6l-7,7l-7,7l-7,7l-7,7l-8,7l-7,7l-8,7l-7,7l-8,7l-7,7l-8,6l-8,7l-8,7l-8,7l-7,7l-8,7l-8,7l-8,6l-8,7l-8,7l-8,6l-8,7l-8,6l-8,6l-8,7l-8,6l-8,6l-8,6l-8,6l-8,5l-8,6l-8,5l-8,5l-8,5l-8,4l-9,4l-8,3l-9,3l-9,2l-8,2l-10,1l-9,1l-9,1l-9,1l-8,1l-8,1l-7,0l-6,1l-6,0l-5,-1l-3,0l-3,0l-1,-4l0,-6l1,-4l0,-5l2,-5l1,-6l3,-7l2,-6l3,-7l4,-8l3,-8l5,-7l4,-9l5,-8l5,-8l6,-9l6,-9l6,-8l6,-9l7,-9l7,-9l6,-9l6,-10l6,-10l5,-11l5,-11l6,-11l5,-10l5,-9l5,-9l6,-8l7,-8l6,-7l7,-7l8,-7l7,-6l7,-6l7,-6l8,-6l7,-5l8,-5l8,-5l8,-5l8,-4l9,-4l10,-4l9,-4l10,-4l9,-3l10,-3l9,-3l10,-2l10,-2l9,-1l10,-2l9,-1l9,-1l10,0l9,0l9,0l9,1l8,1l9,1l8,2l8,2l8,2l8,3l7,2l7,4l7,3l6,4l6,4l6,5l6,4l5,6l-4,-8l0,-10l4,-8l8,-4l10,0z"/><path d="M254,350l8,-5l-48,-6l-4,-1l-8,9l-7,10l-7,10l-5,11l-6,10l-6,11l-5,10l-5,11l-6,10l-5,11l-5,10l-5,10l-4,11l-5,10l-4,10l-4,10l-4,10l-4,10l-3,9l-3,10l-3,10l-2,9l-2,10l-1,10l-1,9l0,10l0,10l2,12l4,16l10,18l14,14l16,10l17,4l15,1l15,-3l13,-4l12,-6l9,-7l6,-5l7,-6l7,-5l7,-6l7,-5l7,-5l7,-6l8,-5l8,-5l8,-5l8,-5l9,-6l8,-5l8,-6l9,-6l8,-6l8,-6l9,-7l8,-6l9,-7l8,-7l8,-7l8,-7l9,-7l8,-7l8,-8l8,-7l8,-8l7,-8l8,-7l8,-8l7,-8l8,-8l7,-9l7,-8l7,-8l6,-8l-7,5l-9,1l-8,-4l-5,-7l-1,-9l4,-8l-7,8l-6,8l-7,8l-7,8l-7,7l-7,8l-8,8l-7,7l-7,8l-8,7l-8,7l-7,7l-8,7l-8,7l-8,7l-8,7l-8,6l-8,7l-8,6l-8,6l-8,6l-8,6l-8,6l-8,5l-8,6l-8,5l-8,5l-8,4l-8,5l-7,3l-8,3l-8,3l-8,2l-8,2l-8,1l-7,1l-8,0l-8,0l-5,-1l-2,-3l0,-3l0,-4l1,-5l0,-6l1,-6l2,-6l2,-7l2,-7l2,-8l3,-8l3,-8l4,-8l4,-9l4,-9l4,-10l4,-9l5,-10l5,-9l5,-10l5,-10l5,-11l6,-10l5,-10l6,-11l5,-11l4,-11l3,-12l7,-22l-8,-40l-52,-4l-5,8l11,-6l12,0l11,6l6,11l0,12z"/></g>
<g id="k11"><path d="M988,256l-6,-7l-7,-6l-7,-6l-7,-5l-8,-5l-8,-5l-9,-4l-9,-3l-9,-3l-9,-3l-9,-2l-10,-2l-10,-2l-10,-1l-10,-1l-10,0l-10,0l-11,0l-10,1l-11,1l-11,2l-10,2l-11,2l-11,2l-10,3l-11,4l-11,3l-10,4l-10,4l-11,5l-10,5l-9,5l-9,5l-9,5l-9,6l-8,6l-9,6l-8,7l-8,7l-8,6l-7,7l-8,8l-8,7l-8,7l-8,6l-8,7l-9,6l-10,6l-11,6l-11,7l-10,8l-10,8l-9,9l-9,9l-8,10l-7,10l-7,10l-7,10l-7,10l-6,10l-6,10l-6,9l-5,10l-5,10l-5,10l-4,10l-4,9l-4,10l-3,10l-2,9l-2,10l-2,10l-1,10l1,10l1,10l2,11l3,10l6,13l10,12l11,10l12,7l12,5l13,3l13,2l13,1l12,-1l13,-1l13,-3l13,-4l13,-5l12,-7l12,-8l11,-9l8,-8l7,-7l7,-7l7,-7l8,-6l8,-6l8,-6l8,-6l8,-6l9,-6l8,-6l8,-6l8,-6l9,-6l8,-6l8,-7l8,-6l9,-7l8,-7l8,-6l8,-7l8,-7l8,-7l8,-7l8,-7l8,-7l8,-7l8,-7l8,-7l8,-7l7,-7l8,-7l8,-8l7,-7l8,-7l7,-7l8,-7l7,-7l7,-7l7,-7l7,-7l7,-7l7,-7l7,-6l-8,4l-9,0l-9,-5l-4,-8l0,-9l5,-8l-7,7l-7,6l-7,7l-7,7l-7,7l-7,7l-7,7l-8,7l-7,7l-8,7l-7,7l-8,7l-7,7l-8,7l-7,7l-8,7l-8,7l-8,7l-8,7l-7,7l-8,7l-8,6l-8,7l-8,7l-8,6l-8,7l-8,6l-8,7l-8,6l-8,6l-8,6l-8,6l-8,6l-8,6l-8,5l-8,6l-9,5l-8,5l-8,4l-9,4l-9,3l-9,3l-9,2l-8,1l-11,2l-11,1l-10,1l-9,1l-9,1l-8,1l-7,1l-6,0l-5,0l-4,-1l-2,-4l1,-4l0,-4l1,-5l2,-5l2,-6l2,-7l3,-7l3,-7l3,-7l5,-8l4,-8l5,-8l5,-9l5,-8l6,-9l6,-8l6,-9l7,-9l7,-9l6,-9l6,-10l6,-10l5,-11l5,-11l6,-11l5,-10l5,-9l5,-9l6,-8l7,-8l6,-7l7,-7l8,-7l7,-6l7,-6l7,-6l8,-6l7,-5l8,-5l8,-5l8,-5l8,-4l9,-4l10,-4l9,-4l10,-4l9,-3l10,-3l9,-3l10,-2l9,-2l10,-2l9,-1l10,-1l9,-1l9,0l9,0l9,0l9,1l8,1l9,1l8,2l8,2l7,2l8,2l7,3l6,4l7,3l6,4l5,4l6,4l5,5l5,5l-5,-8l1,-9l5,-8l8,-5l9,1z"/><path d="M943,346l-32,16l-15,3l-3,7l-3,9l-3,8l-3,8l-3,8l-4,9l-3,8l-3,9l-3,8l-3,9l-4,9l-3,9l-3,9l-3,9l-4,9l-3,9l-4,9l-3,9l-4,9l-3,10l-4,9l-3,10l-4,9l-3,10l-4,10l-3,9l-4,10l-4,10l-3,10l-4,10l-4,10l-3,10l-4,10l-4,10l-4,10l-3,11l-4,10l-4,10l-4,11l-3,10l-4,11l-4,11l-4,10l-4,11l-3,11l-4,10l-4,11l-4,11l-4,11l-3,10l-3,7l-4,8l-3,9l-4,8l-4,8l-4,9l-4,8l-4,9l-5,8l-4,9l-5,8l-5,9l-5,8l-5,8l-5,9l-5,8l-5,8l-6,9l-5,8l-6,8l-6,8l-6,8l-6,7l-6,8l-6,8l-6,7l-7,7l-6,8l-7,7l-6,7l-6,7l-7,7l-6,7l-6,7l-4,5l-6,5l-8,7l-9,5l-8,5l-9,5l-10,3l-9,3l-9,3l-9,2l-9,1l-8,2l-8,0l-9,1l-7,0l-8,-1l-7,-1l-6,-1l-6,-1l-6,-2l-5,-2l-5,-2l-4,-3l-3,-2l-2,-4l-1,-3l0,-3l0,-4l0,-4l0,-5l2,-5l2,-6l2,-6l3,-7l3,-7l5,-7l4,-7l6,-8l5,-8l7,-9l6,-8l7,-9l7,-9l7,-9l8,-10l7,-10l6,-7l7,-8l7,-8l7,-8l8,-7l7,-7l8,-7l9,-7l8,-7l9,-7l8,-7l9,-7l8,-6l9,-7l8,-7l9,-6l9,-7l9,-6l8,-7l9,-6l9,-7l9,-6l8,-6l9,-6l9,-6l9,-6l9,-6l8,-6l9,-6l8,-5l9,-6l8,-5l9,-6l8,-5l9,-5l8,-5l8,-5l8,-5l8,-4l8,-5l8,-4l7,-4l8,-5l7,-4l7,-3l8,-4l7,-4l6,-3l7,-3l7,-3l7,-4l10,-6l11,-6l10,-6l9,-6l10,-6l10,-6l9,-7l10,-7l9,-6l9,-7l9,-7l8,-7l9,-7l8,-7l8,-7l9,-7l7,-8l8,-7l8,-7l7,-7l7,-8l7,-7l7,-7l7,-7l6,-7l7,-8l6,-7l6,-7l5,-7l6,-7l5,-6l5,-7l5,-7l-8,7l-10,1l-9,-3l-7,-8l-1,-10l3,-9l-4,6l-5,6l-5,7l-5,6l-5,7l-6,6l-6,7l-6,7l-6,7l-6,7l-7,6l-6,7l-7,7l-7,7l-7,7l-8,7l-7,7l-8,7l-8,7l-8,6l-8,7l-8,7l-9,6l-8,7l-9,6l-9,6l-9,7l-9,6l-9,6l-10,5l-9,6l-10,6l-9,5l-6,2l-7,4l-7,3l-7,4l-7,3l-8,4l-7,4l-8,4l-7,5l-8,4l-8,5l-8,4l-9,5l-8,5l-8,5l-9,5l-8,5l-9,6l-8,5l-9,6l-9,5l-8,6l-9,6l-9,6l-9,6l-9,6l-9,6l-9,6l-9,7l-9,6l-9,6l-9,7l-8,6l-9,7l-9,7l-9,7l-9,6l-9,7l-8,7l-9,7l-9,7l-8,7l-9,7l-8,7l-9,7l-9,7l-8,6l-9,7l-9,6l-8,6l-10,7l-11,8l-10,9l-9,8l-9,9l-8,10l-8,9l-7,10l-7,9l-7,10l-6,9l-5,10l-5,10l-4,9l-4,10l-3,10l-2,10l-2,10l0,10l0,11l2,10l3,10l4,10l7,12l10,9l8,6l9,5l9,5l9,3l10,3l10,3l10,2l11,1l11,1l10,0l11,-1l12,-1l11,-1l11,-2l12,-3l11,-3l12,-3l12,-4l12,-4l12,-4l12,-5l12,-4l14,-7l12,-8l9,-6l8,-7l9,-7l8,-7l8,-8l7,-8l8,-8l7,-9l7,-8l7,-9l7,-9l7,-8l6,-9l7,-9l6,-9l6,-9l7,-9l6,-10l5,-9l6,-9l6,-9l5,-10l5,-9l5,-9l5,-10l5,-9l5,-9l5,-10l4,-9l4,-9l4,-10l4,-9l4,-9l4,-10l4,-12l4,-10l4,-11l4,-11l4,-11l3,-10l4,-11l4,-10l4,-11l4,-10l3,-11l4,-10l4,-11l4,-10l3,-10l4,-10l4,-10l3,-10l4,-10l4,-10l3,-10l4,-10l4,-10l3,-10l4,-10l3,-9l4,-10l4,-9l3,-10l4,-9l3,-10l4,-9l3,-9l3,-9l4,-9l3,-9l3,-9l4,-9l3,-9l3,-9l4,-9l3,-8l3,-9l3,-8l3,-9l3,-8l3,-9l3,-8l3,-8l3,-8l2,-9l2,-8l2,-8l1,-36l-33,-36l-46,10l12,-7l14,0l13,7l7,13l0,14z"/></g>
<g id="k12"><path d="M1160,252l-1,6l-2,6l-2,6l-2,7l-2,8l-2,8l-3,8l-3,9l-3,8l-3,9l-4,10l-3,9l-4,10l-4,10l-4,10l-4,10l-4,10l-4,10l-4,10l-4,10l-5,11l-4,10l-4,10l-5,10l-4,10l-4,10l-4,9l-4,10l-4,9l-4,9l-4,9l-4,9l-7,16l-6,13l-5,12l-5,10l-4,8l-4,7l-3,6l-3,6l-2,4l16,-18l23,-7l23,5l18,16l7,23l-5,23l2,-3l2,-5l4,-7l4,-8l5,-10l6,-12l6,-13l6,-14l6,-16l4,-8l4,-9l4,-9l4,-9l4,-10l4,-10l5,-10l4,-10l4,-10l5,-10l4,-11l4,-10l5,-11l4,-10l4,-11l5,-10l4,-11l4,-10l4,-10l4,-10l3,-10l4,-10l3,-10l4,-9l3,-10l3,-9l3,-9l2,-8l3,-9l2,-8l2,-7l2,-8l-11,21l-21,13l-23,1l-21,-11l-13,-21z"/><path d="M1106,582l6,-9l6,-8l6,-8l6,-8l7,-8l6,-8l7,-8l7,-8l7,-8l7,-8l7,-8l7,-8l7,-8l8,-8l7,-8l7,-8l8,-7l8,-8l7,-8l8,-7l8,-7l8,-8l7,-7l8,-7l8,-7l8,-7l8,-7l8,-7l8,-6l8,-7l7,-6l8,-7l8,-6l8,-6l8,-5l8,-6l8,-5l7,-6l8,-5l7,-5l8,-5l8,-4l7,-4l7,-5l8,-4l7,-3l7,-4l7,-3l7,-2l7,-2l7,-1l7,-1l7,-1l7,0l1,12l0,3l-4,1l-1,5l0,4l-1,6l-1,6l-2,7l-3,8l-3,8l-4,10l-5,10l-5,10l-5,11l-7,11l-5,10l-6,11l-6,10l-6,11l-6,10l-5,11l-6,10l-6,11l-5,10l-6,10l-5,10l-5,10l-5,10l-5,10l-5,10l-4,9l-4,10l-4,9l-4,9l-4,9l-3,9l-2,8l-3,9l-2,9l-2,8l-1,14l3,19l9,20l16,15l18,9l17,2l15,-1l14,-4l12,-6l10,-7l8,-6l9,-7l8,-6l9,-6l8,-6l9,-6l9,-5l9,-6l10,-5l9,-5l9,-6l9,-5l9,-6l9,-6l9,-7l9,-6l9,-6l8,-7l9,-7l8,-7l8,-6l8,-7l8,-7l8,-8l8,-7l7,-7l8,-7l7,-7l7,-8l7,-7l6,-7l7,-8l6,-7l6,-7l5,-8l6,-7l5,-7l-7,6l-9,1l-8,-3l-6,-7l-1,-9l3,-8l-5,7l-5,6l-5,7l-6,7l-6,7l-6,7l-6,7l-6,7l-7,7l-7,7l-7,6l-7,7l-7,7l-8,7l-7,7l-8,6l-8,7l-8,6l-8,7l-8,6l-9,6l-8,6l-8,6l-9,6l-9,6l-8,5l-9,5l-9,5l-8,5l-9,5l-9,4l-9,3l-10,2l-9,2l-10,1l-9,1l-10,0l-9,0l3,13l1,-4l1,-5l2,-6l2,-6l2,-6l3,-7l3,-8l3,-8l4,-8l4,-8l4,-9l5,-9l4,-10l5,-9l5,-10l5,-10l6,-9l5,-11l6,-10l6,-10l5,-10l6,-11l6,-10l6,-11l6,-10l7,-13l6,-12l6,-13l5,-12l5,-11l5,-12l4,-11l3,-11l2,-12l2,-11l1,-11l0,-11l-2,-11l-3,-12l-5,-11l-7,-10l-8,-9l-10,-7l-11,-6l-11,-3l-4,2l-16,-6l-22,5l-7,4l-7,4l-7,4l-7,5l-7,4l-7,4l-7,4l-8,4l-8,4l-8,5l-7,4l-8,5l-8,5l-8,5l-8,5l-8,5l-9,6l-8,6l-8,5l-8,6l-8,7l-8,6l-9,6l-8,7l-8,7l-8,7l-8,7l-9,7l-8,7l-8,7l-8,7l-8,8l-8,7l-8,8l-8,8l-8,8l-8,8l-7,7l-8,8l-8,9l-7,8l-8,8l-7,8l-7,8l-8,9l-7,8l-7,8l-7,8l-6,9l-7,8l-7,9l-6,8l-6,8l-7,8l8,-6l10,-1l10,3l6,8l1,10z"/></g>
<g id="k13"><path d="M340,866l-3,-7l-3,-6l-2,-7l-2,-6l-2,-7l-2,-7l-1,-6l0,-7l-1,-7l0,-7l0,-7l1,-7l1,-7l1,-7l1,-6l2,-7l3,-7l2,-6l3,-7l3,-6l4,-7l4,-6l5,-6l5,-6l5,-6l6,-6l6,-5l7,-6l7,-5l8,-5l8,-5l7,-4l5,-1l8,-2l7,-2l8,-2l8,-1l9,-2l8,0l9,-1l9,-1l9,0l9,0l9,0l10,1l9,0l10,1l10,1l10,1l10,2l10,1l11,2l10,1l11,0l11,1l10,1l11,0l8,1l8,0l8,1l8,1l8,2l9,1l8,1l8,2l9,2l8,2l9,2l8,2l9,2l9,2l8,2l9,2l9,2l9,2l10,2l9,2l9,2l10,2l9,2l10,2l9,2l10,2l10,2l10,2l10,2l10,2l10,2l10,1l10,2l10,2l11,1l10,2l10,2l11,1l11,2l10,1l11,1l11,2l11,1l11,1l11,1l11,1l11,1l11,1l11,1l12,1l11,0l12,1l11,0l12,1l11,0l12,0l12,0l11,0l13,0l15,-1l13,-2l12,-3l12,-2l12,-3l11,-4l10,-4l10,-4l10,-4l9,-5l9,-6l8,-5l7,-7l7,-7l6,-7l4,-8l-7,7l-10,2l-9,-3l-7,-7l-2,-10l3,-9l-4,5l-3,5l-5,4l-5,4l-5,5l-6,4l-7,3l-8,4l-8,3l-9,3l-10,3l-10,3l-11,2l-11,2l-12,2l-11,2l-11,0l-11,0l-12,0l-11,-1l-11,0l-11,0l-12,-1l-11,0l-11,-1l-11,-1l-11,-1l-11,0l-11,-1l-11,-1l-10,-2l-11,-1l-11,-1l-10,-1l-11,-1l-10,-2l-11,-1l-10,-2l-10,-1l-10,-2l-11,-1l-10,-2l-10,-2l-10,-1l-10,-2l-9,-2l-10,-2l-10,-2l-10,-2l-9,-2l-10,-1l-9,-2l-9,-2l-10,-2l-9,-2l-9,-2l-9,-2l-9,-2l-9,-3l-9,-2l-9,-2l-8,-2l-9,-2l-9,-2l-8,-2l-8,-2l-9,-2l-8,-2l-8,-3l-8,-2l-8,-3l-8,-2l-7,-3l-8,-3l-7,-3l-11,-5l-11,-3l-11,-4l-10,-3l-11,-3l-11,-2l-12,-2l-11,-1l-11,-1l-11,-1l-11,-1l-11,-1l-10,-1l-11,0l-11,0l-11,0l-10,1l-11,1l-10,1l-11,1l-10,2l-10,2l-10,3l-10,3l-12,4l-13,7l-11,6l-10,7l-10,7l-9,7l-9,8l-8,8l-8,9l-7,8l-7,9l-6,9l-5,10l-5,9l-5,10l-3,9l-4,10l-3,10l-2,10l-2,10l-1,10l-1,11l0,10l0,10l1,10l1,10l2,9l2,10l2,10l3,9l3,10l4,9l4,8l-3,-17l6,-16l13,-11l17,-3l16,6z"/><path d="M1321,133l-5,6l-5,6l-6,7l-5,6l-5,6l-6,7l-6,6l-5,7l-6,7l-6,7l-6,7l-5,7l-6,7l-6,7l-6,7l-6,8l-6,7l-6,8l-7,7l-6,8l-6,7l-6,8l-6,8l-7,8l-6,8l-7,8l-6,8l-6,8l-7,8l-6,8l-7,8l-6,8l-7,8l-6,9l-7,8l-6,8l-7,9l-7,8l-6,8l-7,9l-6,8l-7,9l-7,8l-6,9l-7,8l-6,9l-7,8l-7,9l-6,8l-7,9l-6,9l-7,8l-6,9l-7,8l-7,9l-6,8l-7,9l-6,8l-7,9l-6,8l-6,8l-7,9l-6,8l-6,9l-7,8l-6,8l-6,8l-6,9l-7,8l-6,8l-6,8l-6,8l-6,8l-7,7l-6,8l-7,7l-7,7l-6,7l-9,7l-8,7l-9,8l-8,8l-8,8l-8,8l-7,8l-7,8l-8,9l-7,8l-7,8l-7,8l-8,8l-7,7l-7,8l-8,8l-7,7l-7,8l-8,7l-7,7l-7,8l-7,7l-8,7l-7,6l-7,7l-8,7l-7,6l-7,7l-8,6l-7,6l-7,7l-8,6l-7,6l-7,5l-8,6l-7,5l-8,6l-7,5l-7,5l-8,5l-7,5l-7,5l-8,5l-7,4l-8,5l-7,4l-7,4l-8,4l-7,4l-8,3l-7,4l-8,3l-7,3l-7,4l-8,2l-7,3l-8,3l-7,2l-8,3l-7,2l-6,2l-10,1l-11,2l-11,1l-10,0l-11,1l-10,0l-9,-1l-10,-1l-9,-1l-9,-1l-9,-2l-8,-1l-8,-3l-8,-2l-7,-3l-7,-3l-7,-3l-6,-3l-6,-4l-5,-3l-6,-4l-4,-4l-5,-4l-4,-5l-3,-4l-3,-4l-3,-5l-3,-5l-2,-4l-1,-5l-1,-3l-2,-11l0,-10l0,-8l1,-6l1,-5l2,-6l-9,13l-14,8l-16,0l-13,-9l-8,-14l0,-16l-2,9l-3,11l-1,11l0,13l1,14l1,16l3,12l4,9l4,8l4,9l5,8l6,8l6,7l6,7l7,7l8,6l8,6l8,6l8,5l9,5l10,4l9,4l10,4l10,3l11,3l11,2l11,2l11,2l11,1l12,1l12,1l12,0l12,-1l13,-1l13,-1l12,-1l14,-3l11,-2l8,-3l9,-3l8,-2l9,-3l8,-4l9,-3l8,-4l9,-3l8,-4l8,-4l9,-4l8,-4l8,-5l8,-4l9,-5l8,-5l8,-5l8,-5l8,-5l8,-5l8,-6l8,-5l8,-6l8,-6l8,-6l8,-6l7,-6l8,-6l8,-7l8,-6l8,-7l7,-6l8,-7l8,-7l8,-7l7,-7l8,-7l7,-8l8,-7l8,-8l7,-7l8,-8l7,-7l8,-8l8,-8l7,-8l8,-8l7,-8l8,-9l7,-8l8,-8l7,-9l8,-8l7,-9l7,-9l7,-9l6,-9l7,-10l6,-10l6,-11l5,-9l5,-8l5,-9l6,-8l5,-8l6,-8l6,-8l6,-8l6,-8l6,-9l7,-8l6,-8l6,-8l6,-9l7,-8l6,-8l6,-9l7,-8l6,-8l7,-9l6,-8l7,-9l6,-8l7,-9l6,-8l7,-9l6,-8l7,-9l6,-8l7,-9l7,-8l6,-9l7,-8l6,-9l7,-8l7,-9l6,-8l7,-9l6,-8l7,-9l6,-8l7,-8l7,-9l6,-8l7,-8l6,-8l7,-9l6,-8l7,-8l6,-8l6,-8l7,-8l6,-8l6,-8l7,-7l6,-8l6,-8l6,-7l6,-8l7,-8l6,-7l6,-7l6,-8l6,-7l6,-7l5,-7l6,-7l6,-7l6,-7l5,-7l6,-6l6,-7l5,-6l5,-7l6,-6l5,-6l5,-6l6,-6l-8,5l-9,1l-9,-4l-5,-8l-1,-9z"/><path d="M1287,150l-3,7l-3,6l-4,7l-3,7l-3,7l-4,8l-3,7l-4,8l-3,8l-4,8l-4,8l-3,8l-4,9l-4,8l-4,9l-4,9l-3,9l-4,9l-4,9l-4,10l-4,9l-4,10l-4,9l-4,10l-5,10l-4,10l-4,10l-4,10l-4,10l-4,10l-4,10l-4,11l-4,10l-4,10l-4,11l-4,10l-4,11l-4,10l-4,11l-4,10l-4,11l-4,10l-3,11l-4,10l-4,11l-3,10l-4,10l-4,11l-3,10l-3,11l-4,10l-3,10l-3,10l-4,11l-3,10l-3,10l-3,10l-2,10l-2,10l-2,10l-2,9l-2,11l-2,14l-1,13l-2,14l-1,13l-2,13l-2,12l-2,13l-2,12l-1,12l-2,12l-1,12l-1,11l-1,12l0,11l0,11l0,10l0,10l1,11l1,9l1,10l2,10l2,9l3,9l3,9l4,8l5,9l5,8l7,7l11,10l16,8l17,4l16,0l15,-2l13,-5l12,-6l10,-7l7,-6l7,-6l8,-5l7,-6l8,-6l8,-5l8,-6l8,-5l8,-6l8,-6l8,-6l8,-6l8,-6l8,-7l8,-6l8,-7l8,-7l8,-7l7,-7l8,-8l8,-7l7,-8l8,-8l7,-7l8,-8l7,-8l7,-9l7,-8l7,-8l7,-8l7,-9l6,-8l7,-9l6,-8l6,-9l7,-8l6,-9l5,-8l6,-9l6,-8l5,-9l5,-9l5,-8l5,-9l5,-8l4,-9l5,-8l4,-8l4,-9l4,-8l-6,7l-8,3l-9,-1l-7,-6l-3,-8l1,-9l-3,8l-4,8l-4,7l-4,8l-4,8l-5,8l-4,9l-5,8l-5,8l-5,8l-6,8l-5,9l-6,8l-6,8l-5,8l-6,8l-7,9l-6,8l-6,8l-7,8l-6,8l-7,8l-7,8l-7,8l-7,7l-7,8l-7,8l-7,7l-8,7l-7,7l-7,8l-8,7l-7,6l-8,7l-7,6l-8,7l-7,6l-8,6l-8,6l-7,5l-8,6l-8,5l-7,5l-8,4l-8,4l-8,4l-8,3l-8,2l-8,2l-8,1l-6,0l-8,-1l-7,-1l-5,-2l-3,-2l-2,-2l-2,-4l-2,-4l-1,-4l-1,-4l-2,-5l-1,-6l-1,-6l0,-7l-1,-8l0,-8l0,-8l0,-9l0,-9l1,-10l1,-10l1,-10l1,-11l1,-11l2,-11l2,-11l2,-12l3,-11l3,-12l4,-12l5,-12l4,-12l3,-8l4,-9l3,-9l3,-9l3,-9l3,-10l3,-9l3,-10l3,-9l3,-10l3,-10l3,-10l4,-10l3,-10l4,-10l3,-10l4,-10l3,-11l4,-10l4,-10l3,-10l4,-10l4,-11l4,-10l3,-10l4,-10l4,-10l4,-11l4,-10l4,-10l4,-10l4,-10l4,-10l4,-10l4,-10l4,-9l4,-10l4,-10l4,-9l4,-10l4,-9l4,-9l4,-9l3,-9l4,-9l4,-9l4,-9l4,-8l3,-9l4,-8l4,-8l3,-8l4,-8l3,-7l4,-8l3,-7l3,-7l4,-7l3,-7l3,-7l3,-6l3,-6l-17,19l-24,9l-26,-5l-19,-17l-9,-24z"/></g>
<g id="k14"><path d="M485,664l9,-2l9,-2l9,-2l9,-2l9,-3l9,-3l9,-3l9,-3l9,-4l9,-3l9,-4l10,-4l9,-4l9,-4l9,-4l10,-5l9,-4l9,-5l9,-5l9,-5l10,-5l9,-5l9,-5l9,-6l9,-6l9,-5l9,-6l8,-6l9,-6l9,-7l8,-6l9,-6l8,-7l9,-6l8,-7l8,-7l8,-7l8,-7l7,-7l8,-7l7,-8l8,-7l7,-7l7,-8l6,-8l7,-7l7,-8l6,-8l6,-8l6,-8l6,-8l7,-11l7,-11l6,-11l6,-11l4,-11l5,-10l4,-10l3,-11l2,-10l2,-9l1,-10l0,-10l-1,-10l-2,-9l-3,-9l-3,-9l-5,-8l-6,-8l-7,-7l-7,-7l-8,-6l-9,-5l-9,-5l-11,-4l-10,-4l-9,-2l-8,-2l-8,-1l-9,-2l-8,0l-9,-1l-8,0l-9,1l-8,0l-9,1l-9,1l-9,1l-9,2l-9,2l-9,2l-9,2l-9,3l-10,2l-9,3l-9,3l-10,4l-9,3l-9,4l-10,4l-9,4l-10,4l-10,5l-9,4l-10,5l-10,5l-9,5l-10,5l-10,6l-9,5l-10,6l-10,6l-10,6l-9,7l-10,6l-10,6l-10,7l-9,7l-10,7l-10,7l-10,6l-11,7l-10,6l-12,7l-9,6l-8,6l-8,6l-8,7l-8,7l-7,7l-7,7l-8,8l-7,7l-7,8l-7,8l-7,8l-7,9l-7,8l-6,9l-7,8l-7,9l-7,8l-6,9l-7,9l-6,9l-7,9l-6,9l-6,9l-6,10l-7,9l-6,9l-6,10l-5,9l-6,10l-6,9l-6,10l-5,9l-5,10l-6,9l-5,10l-5,10l-5,9l-5,10l-5,9l-4,10l-5,10l-4,9l-4,10l-4,10l-4,9l-4,10l-4,9l-4,10l-3,9l-3,10l-3,9l-3,9l-3,10l-3,9l-2,9l-3,9l-2,9l-2,9l-2,9l-1,9l-2,9l-1,9l-1,9l-1,9l-1,11l0,11l1,11l0,11l2,10l1,11l3,10l3,10l3,9l4,10l4,9l5,9l5,9l6,8l6,8l7,7l7,7l7,7l8,7l8,6l8,6l9,5l9,5l9,5l10,4l10,5l10,3l10,4l10,3l11,3l11,3l11,3l12,2l12,2l12,1l12,1l12,0l13,0l15,-1l12,-3l11,-2l10,-2l10,-2l11,-2l10,-2l10,-2l11,-2l10,-2l11,-2l10,-2l11,-3l10,-2l10,-3l11,-3l10,-3l10,-3l11,-3l10,-3l10,-3l10,-4l10,-3l11,-4l10,-4l10,-4l10,-4l9,-4l10,-4l10,-5l10,-4l9,-4l10,-5l9,-5l10,-4l9,-5l9,-5l9,-5l9,-5l9,-5l9,-5l9,-5l8,-5l9,-6l8,-5l9,-5l8,-6l8,-5l8,-6l7,-5l8,-6l7,-6l7,-6l7,-6l6,-7l7,-7l8,-10l8,-10l7,-9l8,-8l7,-9l7,-7l8,-8l7,-7l6,-7l7,-7l6,-7l6,-6l6,-7l-7,5l-10,1l-8,-5l-5,-7l-1,-10l5,-8l-6,6l-6,7l-6,6l-7,7l-6,7l-7,7l-7,7l-8,7l-8,7l-9,7l-9,6l-10,7l-10,7l-7,4l-7,4l-7,5l-7,5l-7,4l-7,5l-8,5l-7,5l-8,5l-7,5l-8,5l-8,5l-8,5l-8,5l-8,5l-8,5l-9,5l-8,4l-9,5l-9,5l-8,4l-9,5l-9,4l-9,4l-9,4l-9,5l-10,4l-9,4l-9,4l-10,3l-9,4l-10,4l-9,3l-10,4l-9,3l-10,3l-9,3l-10,3l-10,3l-9,3l-10,2l-10,3l-9,2l-10,2l-10,2l-9,2l-10,2l-9,2l-10,1l-10,1l-9,0l-10,0l-9,0l-10,-1l-7,-1l-9,-2l-11,-3l-10,-2l-11,-3l-10,-2l-9,-1l-10,-2l-9,-2l-9,-3l-8,-2l-8,-3l-8,-2l-7,-3l-7,-3l-7,-3l-6,-3l-6,-4l-5,-3l-6,-4l-4,-3l-5,-4l-4,-4l-4,-4l-4,-4l-3,-4l-3,-5l-3,-4l-2,-5l-2,-5l-3,-5l-1,-5l-2,-6l-1,-5l-1,-6l-1,-7l-1,-6l0,-7l0,-8l1,-8l0,-6l1,-7l1,-7l1,-7l2,-7l1,-8l2,-7l2,-8l2,-8l2,-8l2,-8l3,-8l2,-8l3,-9l3,-8l3,-8l3,-9l4,-9l3,-8l4,-9l3,-9l4,-8l4,-9l5,-9l4,-9l4,-9l5,-9l4,-9l5,-9l5,-9l5,-8l5,-9l5,-9l5,-9l5,-9l6,-9l5,-9l6,-8l5,-9l6,-9l6,-8l6,-9l6,-8l6,-9l6,-8l6,-8l6,-9l6,-8l6,-8l7,-8l6,-8l6,-7l7,-8l6,-7l7,-8l6,-7l7,-7l6,-7l6,-7l6,-7l7,-7l5,-8l6,-7l6,-7l5,-6l7,-8l8,-8l9,-8l8,-8l9,-7l10,-6l9,-7l9,-6l9,-6l9,-6l10,-6l9,-6l9,-6l9,-5l9,-5l9,-5l9,-5l9,-5l9,-5l9,-4l9,-4l9,-4l8,-4l9,-4l9,-4l8,-3l9,-3l8,-3l8,-3l8,-2l8,-3l8,-2l8,-2l8,-2l8,-1l7,-1l8,-2l7,-1l7,0l7,-1l7,0l7,-1l6,0l7,0l6,0l6,0l6,1l5,0l8,1l7,2l6,2l5,3l4,2l4,3l3,3l2,3l2,3l1,4l2,4l0,4l1,5l0,5l-1,6l-1,6l-2,7l-2,8l-3,8l-3,8l-4,9l-5,9l-5,9l-6,10l-7,10l-5,7l-5,7l-5,7l-6,7l-6,7l-6,7l-6,7l-7,7l-6,7l-7,7l-7,7l-7,6l-7,7l-7,7l-8,6l-7,6l-8,7l-8,6l-8,6l-8,6l-8,6l-8,6l-8,6l-8,5l-9,6l-8,5l-8,5l-9,6l-9,5l-8,5l-9,5l-8,4l-9,5l-9,4l-8,5l-9,4l-9,4l-8,4l-9,3l-9,4l-8,3l-9,4l-8,3l-9,3l-8,2l-8,3l-8,2l-8,3l-8,2l-8,2l-8,2l12,0l11,7l6,12l0,12l-7,11z"/></g>
<g id="k15"><path d="M1492,784l7,-7l8,-7l7,-7l8,-6l8,-7l7,-7l8,-7l7,-8l8,-7l8,-7l8,-7l7,-8l8,-7l8,-8l7,-7l8,-8l8,-8l8,-7l7,-8l8,-8l8,-7l7,-8l8,-8l8,-8l7,-8l8,-8l8,-8l7,-8l8,-8l7,-8l8,-8l7,-8l8,-8l7,-8l7,-8l7,-7l8,-8l7,-8l7,-8l7,-8l7,-8l7,-8l7,-8l7,-8l6,-7l7,-8l7,-8l6,-7l7,-8l6,-8l6,-7l7,-8l6,-7l6,-7l6,-8l6,-7l6,-7l5,-7l6,-7l5,-7l6,-7l5,-7l5,-7l5,-6l5,-7l5,-7l5,-6l4,-6l5,-7l9,-13l7,-12l7,-11l5,-11l4,-10l3,-10l1,-10l-1,-9l-3,-10l-5,-8l-7,-7l-8,-4l-9,-3l-9,-2l-10,0l-11,0l-11,2l-10,2l-11,3l-10,5l-10,5l-10,5l-10,7l-9,6l-10,7l-10,7l-10,8l-10,7l-10,8l-10,6l-8,6l-9,7l-8,7l-7,8l-7,8l-7,8l-6,8l-6,8l-6,9l-6,8l-6,9l-5,8l-6,9l-6,8l-6,9l-5,9l-6,8l-5,9l-6,9l-5,9l-5,8l-6,9l-5,9l-5,9l-5,9l-5,9l-5,9l-5,9l-5,9l-5,10l-5,9l-5,10l-5,11l-4,10l-5,10l-5,11l-5,10l-5,11l-5,10l-5,11l-5,10l-5,11l-5,11l-4,10l-5,11l-5,11l-5,10l-5,11l-5,10l-4,11l-5,10l-5,11l-5,10l-4,10l-5,10l-4,11l-5,10l-4,10l-5,9l-4,10l-4,10l-5,9l-4,10l-4,9l-4,9l-4,9l-4,9l-4,9l-3,8l-4,9l-3,8l-4,8l-3,8l-4,8l-3,7l-3,7l-3,8l-3,6l-2,7l-3,6l-2,7l-4,10l-4,16l-1,16l2,17l5,16l9,14l11,12l12,9l14,7l14,3l13,1l14,0l13,-3l13,-4l13,-7l10,-6l7,-6l8,-6l7,-5l8,-6l8,-5l8,-6l8,-5l8,-6l9,-5l8,-5l9,-6l8,-6l8,-6l9,-6l8,-7l9,-7l8,-6l8,-7l8,-7l9,-7l8,-7l8,-8l7,-7l8,-7l8,-8l7,-7l8,-8l7,-8l7,-7l7,-8l7,-8l-8,5l-8,1l-8,-4l-5,-8l-1,-8l4,-8l-6,7l-7,7l-7,8l-7,7l-7,7l-7,8l-8,7l-7,7l-8,7l-7,7l-8,7l-8,7l-8,7l-8,6l-8,7l-8,6l-8,6l-8,6l-8,6l-8,6l-8,5l-8,5l-8,5l-8,5l-8,4l-8,3l-8,3l-9,3l-8,1l-8,1l-8,1l-5,-1l-8,-2l-8,-2l-6,-2l-5,-2l-1,-5l4,-7l2,-6l3,-7l3,-7l2,-6l3,-8l3,-7l4,-7l3,-8l3,-8l4,-8l3,-9l4,-8l4,-9l4,-8l4,-9l4,-9l4,-10l4,-9l4,-9l4,-10l5,-10l4,-9l4,-10l5,-10l4,-10l5,-11l5,-10l4,-10l5,-10l5,-11l4,-10l5,-11l5,-10l5,-11l5,-10l5,-11l4,-10l5,-11l5,-11l5,-10l5,-11l5,-10l5,-11l5,-10l4,-10l5,-11l5,-10l5,-10l4,-8l4,-9l5,-9l4,-8l5,-9l5,-8l4,-9l5,-8l5,-9l5,-8l5,-8l5,-9l5,-8l5,-8l6,-9l5,-8l5,-8l5,-8l6,-8l5,-8l6,-8l5,-9l6,-8l6,-8l6,-8l5,-8l6,-8l5,-9l5,-9l4,-9l4,-10l4,-9l3,-11l4,-10l5,-10l5,-9l6,-8l7,-7l7,-6l8,-5l8,-5l8,-3l8,-4l7,-2l8,-2l8,-1l7,0l6,0l5,1l3,1l2,4l-1,4l-1,5l-3,7l-4,9l-6,10l-6,10l-9,13l-4,6l-5,6l-4,6l-5,6l-5,7l-5,6l-5,7l-5,7l-5,6l-6,7l-5,7l-6,7l-5,7l-6,7l-6,8l-6,7l-6,7l-6,8l-6,7l-7,8l-6,7l-7,8l-6,7l-7,8l-7,8l-6,7l-7,8l-7,8l-7,8l-7,8l-7,7l-7,8l-7,8l-7,8l-8,8l-7,8l-7,8l-8,8l-7,8l-8,8l-7,7l-8,8l-7,8l-8,8l-7,8l-8,8l-7,7l-8,8l-8,8l-7,8l-8,7l-8,8l-7,7l-8,8l-8,7l-7,8l-8,7l-7,7l-8,8l-8,7l-7,7l-8,7l-7,7l-8,7l-7,7l-8,7l-7,6l-8,7l-7,6l8,-4l10,1l8,5l4,8l-1,10z"/></g>
<g id="k16"><path d="M-136,901l7,-9l7,-9l6,-9l7,-9l7,-9l6,-9l7,-9l6,-9l6,-9l7,-9l6,-9l6,-9l6,-10l6,-9l6,-9l6,-9l6,-9l6,-9l6,-9l5,-10l6,-9l6,-9l5,-9l6,-9l6,-9l5,-9l6,-9l5,-9l5,-9l6,-9l5,-9l5,-9l5,-9l5,-8l5,-9l5,-9l5,-9l5,-8l5,-9l5,-8l5,-9l5,-8l4,-9l5,-8l5,-8l4,-8l5,-9l5,-8l4,-8l4,-8l5,-7l4,-8l5,-8l4,-7l4,-8l4,-7l5,-8l3,-6l8,-12l8,-12l8,-11l7,-10l8,-11l8,-10l7,-9l8,-9l8,-9l7,-8l8,-8l7,-8l8,-7l7,-7l7,-6l7,-6l8,-6l7,-6l7,-5l7,-4l7,-5l6,-4l7,-4l7,-3l6,-3l7,-3l6,-3l6,-2l6,-2l6,-1l6,-2l6,-1l5,0l9,0l5,2l5,2l4,2l3,3l3,2l2,3l2,3l2,4l1,4l1,5l0,5l0,6l0,7l-2,7l-1,7l-3,8l-3,9l-3,8l-5,9l-4,10l-6,9l-6,10l-7,10l-4,6l-5,7l-5,6l-6,7l-5,7l-6,6l-6,7l-6,7l-6,7l-6,7l-6,7l-7,7l-7,7l-6,7l-7,8l-7,7l-8,7l-7,7l-7,7l-8,7l-7,8l-8,7l-8,7l-7,7l-8,7l-8,7l-8,7l-8,7l-8,7l-8,7l-8,7l-8,7l-9,7l-8,7l-8,7l-8,6l-8,7l-9,6l-8,7l-8,6l-8,7l-8,6l-8,6l-8,6l-8,6l-8,6l-8,6l-8,5l-8,6l-8,5l10,-4l11,2l8,7l4,10l-2,11l-7,8l8,-6l8,-5l8,-6l8,-6l8,-6l8,-6l8,-6l9,-6l8,-7l8,-6l9,-7l8,-6l8,-7l9,-7l8,-6l9,-7l8,-7l8,-7l9,-7l8,-7l8,-7l8,-8l8,-7l9,-7l8,-7l8,-7l8,-8l7,-7l8,-7l8,-8l8,-7l7,-8l8,-7l7,-7l7,-8l7,-7l7,-7l7,-8l7,-7l7,-7l6,-7l6,-8l7,-7l6,-7l6,-7l5,-7l6,-7l5,-7l6,-7l5,-7l7,-11l7,-11l7,-11l5,-11l5,-11l5,-11l4,-10l3,-10l2,-10l2,-10l0,-10l0,-10l0,-9l-2,-9l-3,-9l-4,-8l-5,-8l-6,-7l-7,-6l-7,-5l-9,-5l-9,-3l-10,-2l-11,-1l-10,1l-7,1l-7,2l-7,2l-8,2l-7,3l-7,2l-8,3l-7,4l-8,4l-7,3l-8,5l-8,4l-7,5l-8,6l-8,5l-8,6l-8,7l-7,6l-8,8l-8,7l-8,8l-8,8l-8,8l-8,9l-8,9l-9,10l-8,10l-8,10l-8,11l-8,11l-8,12l-8,12l-8,12l-5,8l-4,8l-4,7l-5,8l-4,7l-4,8l-5,8l-4,8l-4,8l-5,8l-4,8l-5,8l-5,8l-4,8l-5,9l-5,8l-4,8l-5,9l-5,8l-5,9l-5,8l-5,9l-5,9l-5,8l-5,9l-5,9l-5,9l-6,9l-5,9l-5,8l-5,9l-6,9l-5,9l-6,9l-5,9l-6,9l-5,9l-6,9l-6,9l-6,9l-5,9l-6,9l-6,9l-6,9l-6,9l-6,9l-6,9l-6,9l-6,9l-7,9l-6,9l-6,9l-7,9l-6,9l-7,9l-6,9l-7,8l-6,9l7,-6l9,-1l9,4l6,7l1,9z"/><path d="M390,158l-12,4l-12,5l-12,6l-11,6l-11,7l-10,8l-11,9l-8,7l-5,2l-7,5l-7,5l-6,6l-7,6l-6,6l-7,6l-6,6l-6,7l-6,7l-6,7l-6,7l-7,7l-6,8l-6,7l-6,8l-6,8l-6,8l-6,8l-6,9l-6,8l-6,9l-6,9l-6,8l-6,10l-6,9l-5,9l-6,9l-6,10l-6,10l-6,10l-5,10l-6,10l-5,10l-6,10l-5,11l-6,11l-5,10l-6,11l-5,11l-5,12l-5,11l-5,12l-6,12l-4,12l-5,12l-5,12l-5,12l-5,11l-4,12l-5,12l-5,12l-4,11l-5,12l-4,11l-5,12l-4,11l-4,11l-4,11l-5,11l-4,11l-3,11l-4,10l-4,11l-4,10l-3,10l-4,10l-3,10l-3,10l-3,9l-3,9l-3,9l-3,9l-2,9l-3,8l-2,9l-2,8l-2,8l-2,7l-2,8l-1,7l-1,7l-2,7l-1,7l0,6l-1,6l8,-21l17,-15l23,-4l21,8l15,17l4,23l0,-4l1,-5l0,-4l1,-5l1,-6l1,-6l2,-6l1,-6l2,-7l2,-7l2,-8l2,-8l3,-8l2,-8l3,-8l3,-9l2,-9l4,-9l3,-10l3,-9l3,-10l4,-10l4,-10l3,-10l4,-11l4,-10l4,-11l4,-11l4,-11l4,-11l5,-11l4,-11l5,-12l4,-11l5,-12l4,-11l5,-12l5,-11l4,-12l5,-12l5,-12l5,-11l4,-12l5,-10l5,-11l5,-10l5,-11l5,-10l5,-10l5,-10l5,-10l5,-9l5,-10l5,-9l6,-10l5,-9l5,-9l6,-9l5,-8l6,-9l5,-9l6,-8l5,-8l6,-8l5,-8l6,-8l5,-8l6,-7l5,-8l6,-7l5,-7l6,-7l6,-7l5,-7l6,-6l5,-7l6,-6l5,-6l5,-6l5,-7l5,-6l5,-6l5,-6l5,-6l4,-6l6,-8l7,-10l5,-8l5,-6l5,-6l6,-5l7,-4l8,-3l10,-4l-16,1l-14,-6l-8,-13l-1,-16l6,-14z"/><path d="M55,740l7,-5l7,-5l7,-5l8,-4l8,-5l8,-4l8,-5l9,-4l8,-4l9,-4l9,-3l8,-4l9,-3l10,-3l9,-3l9,-2l9,-3l9,-2l9,-2l10,-1l9,-2l9,-1l9,0l8,-1l9,0l9,0l8,1l8,1l8,2l7,2l8,3l6,4l4,3l2,3l4,5l3,4l3,4l2,4l3,4l1,3l2,4l2,4l1,4l1,4l1,5l1,5l1,6l0,5l0,6l-1,6l-1,7l-1,7l-2,7l-2,7l-2,8l-3,7l-3,8l-4,8l-4,8l-4,8l-5,8l-5,8l-5,9l-6,7l-4,5l-6,6l-5,7l-6,6l-6,6l-7,6l-6,6l-7,5l-7,6l-7,6l-7,5l-7,6l-8,5l-8,5l-7,5l-8,5l-8,5l-8,5l-8,5l-9,4l-8,5l-8,4l-9,4l-8,4l-9,4l-9,3l-8,4l-9,3l-8,3l-9,3l-8,4l-9,3l-8,4l-8,3l-8,4l-8,4l-12,7l-10,5l-11,5l-11,4l-11,2l-10,2l-11,2l-10,0l-10,1l-9,0l-10,0l-9,0l-8,-1l-9,0l-8,-1l-7,-2l-8,-1l10,5l6,8l0,11l-5,10l-8,6l-11,0l8,2l10,1l9,2l10,0l10,1l10,0l10,0l11,0l11,0l11,-1l11,-1l12,-1l12,0l12,0l13,0l13,1l13,1l11,0l10,-1l10,-1l11,-2l10,-3l10,-2l10,-4l10,-3l10,-4l10,-4l10,-4l10,-5l9,-4l10,-5l10,-5l9,-5l10,-5l9,-5l10,-6l9,-5l9,-6l9,-6l9,-6l9,-7l8,-6l9,-6l8,-7l8,-7l8,-7l8,-7l8,-7l7,-7l7,-8l7,-7l7,-8l8,-9l8,-11l6,-10l7,-11l6,-10l6,-11l5,-10l5,-11l4,-11l4,-11l4,-10l3,-11l2,-11l2,-11l2,-10l1,-11l0,-11l0,-10l-1,-11l-2,-11l-2,-10l-3,-10l-4,-10l-5,-10l-6,-9l-6,-9l-8,-8l-8,-7l-9,-6l-9,-6l-11,-4l-12,-5l-13,-2l-10,-1l-10,0l-11,-1l-10,0l-10,0l-10,0l-10,0l-11,0l-10,1l-11,1l-10,1l-10,1l-11,2l-10,2l-11,3l-10,2l-10,3l-11,3l-10,4l-10,3l-10,4l-10,4l-9,5l-10,4l-10,5l-9,5l-9,5l-9,5l-8,5l-9,6l-8,5l-8,6l12,-5l13,2l10,8l5,12l-2,13z"/></g>
<g id="k17"><path d="M1881,403l-3,7l-3,7l-3,8l-3,8l-4,8l-3,8l-3,9l-4,8l-4,9l-3,9l-4,8l-4,9l-4,10l-4,9l-4,9l-4,10l-4,9l-4,10l-4,10l-4,9l-4,10l-5,10l-4,10l-4,10l-5,10l-4,10l-4,10l-5,10l-4,10l-5,11l-4,10l-4,10l-5,10l-4,10l-4,10l-5,10l-4,10l-4,10l-5,10l-4,10l-4,10l-4,10l-4,10l-4,9l-4,10l-4,9l-4,10l-4,9l-4,9l-3,9l-4,9l-4,9l-3,8l-4,9l-3,8l-3,9l-4,10l-5,16l-3,15l-3,14l-2,14l0,14l1,14l3,15l6,14l9,13l11,11l13,8l14,4l14,2l14,0l15,-4l13,-6l9,-6l8,-6l9,-6l9,-6l8,-5l9,-5l9,-5l10,-5l9,-5l9,-5l9,-5l10,-5l9,-6l9,-6l9,-6l9,-6l8,-7l9,-6l9,-7l8,-7l8,-7l9,-7l8,-7l8,-7l8,-7l7,-8l8,-7l7,-7l8,-8l6,-7l-7,4l-9,1l-8,-5l-4,-7l-1,-9l5,-8l-7,7l-7,7l-7,7l-7,8l-8,6l-7,7l-8,7l-8,7l-8,7l-8,6l-8,7l-8,6l-8,6l-9,7l-8,6l-8,5l-9,6l-8,5l-9,5l-9,5l-8,5l-9,5l-8,4l-9,4l-9,2l-9,2l-9,1l-10,1l-9,-1l-8,-1l-2,-6l0,-4l0,-6l1,-6l1,-9l3,-10l3,-11l2,-6l3,-8l4,-8l3,-8l3,-9l4,-8l3,-9l4,-9l4,-9l4,-9l3,-9l4,-10l4,-9l4,-10l4,-9l4,-10l5,-10l4,-9l4,-10l4,-10l5,-10l4,-10l4,-10l5,-10l4,-10l4,-11l5,-10l4,-10l4,-10l5,-10l4,-10l5,-10l4,-10l4,-10l5,-10l4,-10l4,-10l4,-10l4,-10l5,-9l4,-10l4,-10l4,-9l4,-9l4,-10l4,-9l3,-9l4,-9l4,-8l3,-9l4,-9l3,-8l4,-8l3,-8l3,-8l3,-8l3,-8l-14,20l-23,10l-24,-3l-20,-14l-10,-23z"/><path d="M1708,672l11,-1l12,-1l11,-1l11,-1l12,-1l11,-1l11,-1l12,-1l11,-1l11,-1l11,-1l10,-1l11,-1l10,0l11,-1l10,-1l9,0l10,-1l9,-1l9,-1l9,-1l8,-2l8,-1l8,-1l8,-2l10,-3l10,-2l10,-2l9,-2l10,-2l10,-2l10,-1l10,-1l-7,-2l-5,-4l-3,-7l2,-7l4,-5l7,-3l-10,1l-10,0l-10,0l-10,0l-11,0l-10,0l-10,-1l-10,-1l-7,-1l-7,0l-9,-1l-8,0l-9,0l-9,0l-10,0l-9,1l-10,0l-10,1l-11,1l-10,1l-11,0l-11,1l-11,1l-11,1l-11,1l-11,1l-12,1l-11,1l-12,1l-11,1l-12,1l-11,1l-12,2l14,2l11,9l5,13l-2,14l-9,11z"/></g>
<g id="k18"><path d="M383,345l9,-1l8,-2l9,-2l9,-2l9,-3l8,-3l9,-3l9,-4l8,-4l9,-4l9,-4l8,-5l9,-5l8,-6l9,-6l8,-6l8,-6l8,-7l8,-6l8,-8l8,-7l8,-8l8,-8l8,-8l7,-8l8,-9l7,-9l7,-9l8,-9l7,-9l6,-10l7,-10l7,-10l6,-11l6,-10l-9,9l-12,3l-13,-4l-9,-9l-3,-12l4,-13l-6,10l-6,10l-6,9l-7,9l-6,9l-6,9l-7,9l-7,8l-6,8l-7,8l-7,7l-7,8l-7,7l-7,7l-7,6l-7,7l-8,6l-7,6l-7,5l-7,6l-8,5l-7,4l-7,5l-8,4l-7,4l-7,3l-7,4l-7,3l-7,2l-8,3l-7,2l-6,2l-7,1l-7,1l-7,1l13,2l10,8l5,12l-2,13l-8,10z"/><path d="M644,100l-2,7l-2,7l-2,7l-2,7l-2,8l-2,8l-2,7l-2,8l-2,8l-3,8l-2,8l-2,9l-3,8l-2,8l-3,9l-3,9l-2,8l-3,9l-3,9l-3,9l-2,9l-3,9l-3,9l-3,10l-4,9l-3,9l-3,10l-3,9l-3,10l-4,10l-3,10l-4,9l-3,10l-4,10l-3,10l-4,10l-3,10l-4,10l-4,10l-4,11l-3,10l-4,10l-4,10l-4,11l-4,10l-4,11l-4,10l-4,10l-5,11l-4,10l-4,11l-4,10l-5,11l-4,10l-4,11l-5,11l-4,10l-5,11l-4,10l-4,10l-5,10l-4,10l-5,10l-4,10l-5,11l-5,9l-5,10l-4,10l-5,10l-5,10l-5,10l-5,9l-5,10l-5,9l-5,10l-5,9l-5,9l-6,9l-5,9l-5,9l-5,8l-5,9l-6,8l-5,8l-5,8l-5,8l-6,7l-5,8l-5,7l-5,7l-5,6l-6,7l-5,6l-4,6l-5,6l-5,5l-4,6l-5,5l-4,5l-2,4l-7,7l-7,7l-7,6l-7,5l-8,5l-8,4l-7,3l-7,2l-7,2l-7,1l-6,0l-5,0l-5,-1l-4,-1l-4,-1l-3,-2l-3,-2l-3,-2l-3,-4l-2,-6l0,-5l1,-5l0,-6l2,-7l2,-7l2,-8l4,-8l3,-9l5,-10l4,-10l5,-11l5,-11l6,-12l4,-8l4,-9l5,-8l5,-8l6,-8l5,-9l6,-8l6,-8l6,-8l7,-8l6,-8l7,-9l6,-8l7,-8l6,-9l7,-8l7,-8l7,-9l7,-8l7,-8l7,-9l7,-8l7,-8l7,-9l7,-8l7,-8l7,-8l7,-9l7,-8l8,-8l7,-8l7,-8l7,-8l8,-8l7,-8l7,-8l7,-8l7,-8l8,-7l7,-8l7,-8l7,-7l7,-8l7,-7l7,-7l7,-7l7,-7l7,-7l7,-7l7,-7l6,-6l7,-7l6,-6l7,-7l6,-6l7,-6l6,-6l6,-5l6,-6l6,-6l6,-5l6,-5l6,-5l5,-5l6,-5l5,-4l9,-7l9,-8l9,-7l8,-7l9,-7l9,-7l9,-7l9,-6l9,-7l9,-7l8,-6l9,-7l9,-6l9,-6l9,-6l8,-6l9,-6l9,-6l9,-5l8,-6l9,-5l8,-5l9,-5l8,-4l9,-5l8,-4l8,-4l8,-4l8,-4l8,-3l8,-3l8,-3l8,-3l7,-2l8,-2l8,-1l7,-1l7,-1l7,1l7,0l5,1l6,3l7,3l7,3l6,3l6,2l6,3l6,3l5,3l6,3l6,3l5,3l5,3l5,4l5,4l5,4l5,5l4,5l4,5l4,5l4,6l4,6l4,6l3,7l3,6l3,7l3,8l2,7l2,8l2,8l2,8l1,9l1,9l1,9l1,9l0,10l0,9l-1,10l-1,10l0,10l-1,9l-1,10l-1,10l-2,10l-1,11l-1,10l-2,10l-2,11l-1,10l-2,10l-2,11l-2,11l-2,10l-2,11l-2,10l-2,11l-3,10l-2,11l-2,10l-3,11l-2,10l-3,11l-2,10l-3,10l-2,11l-3,10l-2,10l-3,10l-3,10l-2,10l-3,9l-2,10l-3,10l-3,9l-2,9l-3,9l-2,9l-3,9l-2,9l-2,8l-3,8l-2,8l-2,8l-2,8l-2,8l-2,7l10,-18l19,-11l21,1l18,10l11,19l-1,21l3,-7l2,-8l2,-7l2,-8l2,-8l3,-9l2,-8l2,-9l3,-9l2,-9l3,-9l3,-9l2,-10l3,-9l2,-10l3,-10l3,-10l2,-10l3,-11l3,-10l2,-10l3,-11l3,-10l2,-11l3,-11l2,-11l3,-10l2,-11l3,-11l2,-11l2,-11l2,-11l3,-11l2,-11l2,-11l2,-11l2,-11l1,-11l2,-11l2,-11l1,-11l2,-11l1,-11l1,-11l1,-11l1,-10l1,-11l1,-10l1,-13l0,-12l0,-13l-1,-12l-1,-12l-1,-11l-2,-12l-2,-11l-3,-11l-3,-11l-4,-11l-3,-10l-5,-11l-4,-10l-5,-9l-6,-9l-5,-9l-6,-9l-7,-9l-6,-8l-8,-7l-7,-8l-8,-7l-8,-6l-8,-6l-9,-6l-9,-5l-9,-5l-9,-4l-10,-3l-10,-3l-11,-2l-10,-1l-11,0l-10,1l-11,1l-11,3l-10,3l-8,2l-8,3l-8,4l-8,3l-8,3l-9,3l-8,3l-9,3l-8,4l-9,3l-8,4l-9,4l-9,4l-9,4l-8,5l-9,5l-9,5l-9,5l-9,5l-9,5l-9,6l-9,6l-9,6l-9,6l-9,6l-9,6l-9,6l-9,7l-9,6l-10,7l-9,7l-9,7l-9,7l-9,7l-9,7l-9,7l-9,7l-9,7l-9,8l-8,7l-6,5l-6,5l-6,5l-5,5l-6,5l-7,6l-6,5l-6,6l-6,6l-7,6l-6,6l-7,6l-6,7l-7,6l-7,7l-7,7l-7,7l-7,7l-6,7l-8,7l-7,7l-7,7l-7,8l-7,7l-7,8l-7,7l-8,8l-7,8l-7,8l-7,8l-8,8l-7,8l-7,8l-8,8l-7,8l-7,8l-8,9l-7,8l-7,8l-7,9l-8,8l-7,8l-7,9l-7,8l-7,9l-7,8l-7,8l-7,9l-7,8l-7,9l-7,8l-6,9l-7,8l-7,8l-6,9l-7,8l-6,8l-7,9l-6,8l-6,8l-7,8l-6,7l-6,8l-7,7l-7,8l-7,7l-9,12l-8,11l-8,11l-6,12l-6,11l-5,11l-4,10l-4,11l-3,11l-2,10l-1,11l-1,10l1,11l1,10l4,14l8,13l8,9l8,8l10,7l10,5l11,4l11,3l11,1l11,0l11,-1l11,-2l11,-2l11,-3l11,-4l11,-4l11,-4l11,-5l11,-5l11,-6l12,-6l9,-6l7,-5l6,-6l7,-6l6,-6l7,-7l6,-7l6,-7l6,-7l6,-8l6,-8l6,-8l6,-8l6,-8l5,-9l6,-8l6,-9l6,-9l5,-9l6,-9l5,-10l6,-9l5,-10l6,-10l5,-9l6,-10l5,-10l5,-10l6,-11l5,-10l5,-10l5,-10l5,-11l5,-10l5,-10l5,-11l5,-10l4,-11l5,-10l5,-11l4,-10l5,-11l4,-11l5,-11l4,-10l5,-11l4,-11l5,-11l4,-10l4,-11l4,-11l5,-10l4,-11l4,-11l4,-10l4,-11l4,-10l4,-11l4,-10l4,-11l4,-10l4,-10l3,-11l4,-10l4,-10l4,-10l3,-10l4,-11l3,-10l4,-9l3,-10l3,-10l4,-10l3,-10l3,-9l3,-10l3,-9l3,-10l3,-9l3,-9l3,-10l3,-9l3,-9l3,-9l2,-8l3,-9l3,-9l2,-9l3,-8l2,-8l2,-9l3,-8l2,-8l2,-8l2,-8l2,-8l3,-7l1,-8l2,-7l2,-8l-11,20l-18,11l-22,0l-20,-11l-11,-18z"/><path d="M1014,934l24,7l18,-16l3,-7l4,-6l4,-7l4,-7l4,-7l4,-7l4,-7l4,-7l4,-8l5,-7l5,-8l4,-7l5,-8l5,-8l5,-8l5,-8l5,-8l5,-9l6,-8l5,-8l5,-9l6,-9l5,-8l5,-9l6,-9l6,-9l5,-8l6,-9l6,-9l5,-9l6,-10l6,-9l6,-9l6,-9l6,-9l6,-9l6,-10l6,-9l6,-9l6,-9l6,-10l6,-9l6,-9l7,-10l6,-9l6,-9l6,-9l6,-9l7,-9l6,-9l6,-10l6,-9l7,-9l6,-8l6,-9l7,-9l6,-9l6,-8l6,-9l7,-9l6,-8l6,-8l6,-9l6,-8l6,-8l7,-8l6,-8l6,-8l6,-7l6,-8l6,-7l6,-7l6,-7l9,-11l10,-10l9,-9l9,-9l9,-9l9,-7l9,-8l9,-6l8,-6l8,-6l8,-4l7,-5l7,-3l7,-3l7,-2l7,-2l5,0l6,0l5,1l4,1l3,2l3,2l-2,6l-1,4l-1,5l-1,6l0,4l-1,4l-1,5l0,6l-1,6l-1,6l-1,7l-2,8l-2,7l-2,8l-2,9l-3,8l-3,9l-3,9l-3,10l-4,9l-3,10l-4,10l-4,10l-5,10l-4,10l-4,11l-5,10l-4,11l-5,10l-4,11l-5,11l-5,11l-4,10l-5,11l-5,11l-5,11l-5,14l-5,13l-4,13l-4,12l-5,13l-4,12l-4,13l-4,12l-3,12l-4,12l-3,12l-3,11l-3,12l-3,12l-3,11l-2,11l-3,11l-2,11l-2,11l-2,10l-2,11l-1,10l-2,10l-1,10l-1,10l-1,9l-1,10l0,9l0,9l0,9l0,9l0,9l1,8l1,8l1,8l1,8l2,8l2,9l5,14l7,15l11,13l12,10l14,9l14,5l15,2l14,0l14,-2l12,-4l12,-6l12,-7l9,-8l8,-7l7,-7l8,-6l8,-6l8,-7l8,-6l8,-5l9,-6l8,-6l9,-6l8,-6l8,-7l9,-6l8,-7l8,-7l9,-7l8,-7l8,-7l8,-7l8,-7l7,-8l8,-8l8,-7l7,-8l8,-8l7,-8l7,-7l7,-8l7,-8l7,-8l7,-8l6,-8l7,-8l6,-8l6,-8l6,-8l-7,6l-9,1l-8,-3l-6,-7l-1,-9l3,-8l-5,7l-6,8l-6,8l-6,7l-7,8l-6,8l-7,7l-6,8l-7,8l-7,7l-7,8l-7,7l-8,8l-7,7l-7,7l-8,8l-8,7l-7,7l-8,7l-8,6l-8,7l-8,7l-8,6l-8,6l-8,6l-8,6l-8,6l-8,5l-8,6l-8,4l-8,5l-9,3l-9,3l-8,2l-9,2l-9,1l-7,-1l-8,-1l-8,-1l-6,-1l-5,-2l-3,-1l-2,-2l-2,-5l-1,-3l-1,-4l0,-5l-1,-5l-1,-6l0,-6l0,-6l0,-6l0,-7l0,-7l0,-8l1,-7l0,-8l1,-9l1,-8l2,-9l1,-9l2,-9l1,-10l2,-9l2,-10l2,-10l3,-10l2,-11l3,-11l3,-10l3,-11l3,-11l3,-11l4,-12l3,-11l4,-12l4,-12l4,-12l4,-12l4,-12l5,-12l4,-11l4,-10l4,-10l5,-11l5,-10l4,-11l5,-11l5,-11l4,-10l5,-11l5,-11l4,-11l5,-11l4,-10l4,-11l4,-11l4,-10l4,-11l4,-10l4,-10l3,-11l3,-10l3,-10l3,-10l2,-9l2,-10l2,-10l1,-9l1,-10l1,-9l-1,-10l-1,-9l-1,-9l-3,-10l-3,-8l-4,-9l-5,-8l-6,-8l-7,-7l-8,-6l-10,-6l-12,-3l-9,-1l-9,-1l-9,1l-8,1l-8,3l-9,2l-8,3l-8,4l-9,4l-8,4l-9,4l-9,5l-9,6l-9,6l-10,7l-9,7l-10,8l-9,8l-10,9l-10,10l-10,10l-10,11l-11,11l-6,8l-6,7l-6,8l-6,8l-7,8l-6,7l-6,8l-6,9l-7,8l-6,8l-6,9l-6,8l-7,9l-6,8l-6,9l-7,9l-6,8l-6,9l-7,9l-6,9l-6,9l-7,9l-6,10l-6,9l-7,9l-6,9l-6,9l-6,10l-7,9l-6,9l-6,10l-6,9l-6,9l-6,10l-7,9l-6,9l-6,9l-6,10l-6,9l-6,9l-6,9l-5,10l-6,9l-6,9l-6,9l-6,9l-5,9l-6,9l-5,8l-6,9l-5,9l-6,9l-5,8l-5,9l-6,8l-5,8l-5,8l-5,9l-5,8l-5,7l-4,8l-5,8l-5,7l-4,8l-5,7l-5,7l-4,7l-5,7l-4,7l-4,6l10,13l7,10l2,11l-4,12l-10,7l-11,2z"/></g>
<g id="k19"><path d="M816,580l-4,-8l-6,-8l-6,-7l-7,-6l-7,-6l-7,-6l-8,-5l-8,-4l-9,-4l-8,-3l-9,-2l-10,-2l-9,-2l-10,-1l-9,-1l-10,0l-10,1l-10,1l-11,1l-10,1l-11,3l-10,2l-11,3l-11,3l-11,3l-11,3l-12,2l-12,3l-13,3l-13,4l-11,4l-11,4l-10,5l-11,6l-10,6l-9,7l-10,7l-9,7l-9,8l-9,7l-9,8l-9,8l-9,8l-9,8l-8,8l-8,8l-9,8l-8,9l-8,8l-7,8l-8,9l-7,8l-7,9l-7,8l-7,9l-6,8l-6,9l-6,8l-6,9l-5,8l-5,8l-5,9l-4,8l-4,9l-4,8l-4,9l-3,8l-3,9l-2,8l-2,9l-1,9l-1,11l1,14l2,13l4,13l6,12l7,12l9,9l10,9l10,7l11,6l11,4l12,3l11,2l12,2l12,0l12,0l11,-2l12,-2l12,-4l11,-4l11,-6l10,-7l10,-8l7,-7l7,-7l7,-7l7,-6l7,-6l8,-7l7,-6l8,-6l8,-6l8,-6l8,-6l9,-6l8,-7l8,-7l8,-6l9,-7l8,-7l8,-7l9,-7l8,-8l8,-7l8,-8l8,-7l8,-8l8,-7l8,-8l8,-8l8,-8l8,-7l8,-8l7,-8l8,-8l7,-8l8,-8l7,-8l7,-7l7,-8l7,-8l7,-8l6,-8l7,-7l6,-8l6,-7l6,-8l6,-7l6,-7l5,-7l5,-7l6,-7l-8,6l-9,1l-9,-3l-6,-8l-1,-9l3,-9l-4,7l-6,7l-5,7l-5,7l-6,7l-6,7l-6,7l-6,8l-6,7l-7,8l-6,7l-7,8l-7,7l-7,8l-7,8l-7,7l-7,8l-8,8l-7,7l-8,8l-7,8l-8,7l-8,8l-8,8l-7,7l-8,7l-8,8l-8,7l-8,7l-8,7l-8,7l-8,7l-8,7l-8,7l-8,6l-8,7l-8,6l-8,6l-8,6l-8,6l-8,5l-8,5l-8,5l-8,4l-9,4l-8,3l-8,2l-9,2l-7,1l-9,1l-8,0l-9,1l-7,0l-8,0l-7,1l-7,0l-6,0l-6,0l-5,-1l-5,0l-3,-2l-4,-1l-4,-2l-2,-2l-2,-5l-1,-7l1,-4l1,-5l1,-4l1,-5l2,-5l3,-6l2,-5l3,-7l4,-6l3,-6l4,-7l5,-7l4,-7l5,-7l5,-7l6,-7l5,-7l6,-8l7,-7l6,-8l7,-7l6,-7l7,-8l8,-7l7,-8l8,-7l7,-8l8,-7l8,-7l8,-7l8,-7l9,-7l8,-7l8,-7l9,-6l8,-7l8,-7l8,-7l7,-8l8,-7l7,-9l5,-7l8,-7l8,-7l9,-5l9,-5l10,-5l9,-3l9,-2l10,-3l9,-1l9,-2l8,-1l9,-1l8,0l8,0l8,1l8,0l7,2l7,1l7,2l6,2l6,3l6,3l5,3l5,4l5,4l5,5l4,5l4,5l4,6l-3,-9l2,-10l7,-7l9,-3l10,2z"/><path d="M884,586l7,-5l8,-5l8,-6l8,-5l8,-6l8,-5l8,-6l9,-6l8,-6l8,-6l9,-7l8,-6l9,-6l8,-7l9,-7l8,-6l9,-7l8,-7l9,-7l8,-7l8,-7l9,-7l8,-7l9,-7l8,-7l8,-7l8,-8l8,-7l8,-7l8,-8l8,-7l8,-7l7,-8l8,-7l7,-7l8,-8l7,-7l7,-7l7,-8l6,-7l7,-7l6,-7l7,-8l6,-7l6,-7l5,-7l6,-7l5,-7l5,-7l5,-7l5,-7l5,-7l6,-12l5,-11l4,-11l4,-11l2,-11l2,-10l0,-11l0,-10l-1,-11l-3,-10l-3,-9l-5,-9l-6,-9l-6,-7l-8,-7l-9,-6l-9,-5l-10,-4l-11,-4l-11,-2l-14,-2l-14,1l-11,2l-11,3l-11,3l-10,4l-11,4l-10,5l-9,5l-10,6l-9,7l-10,6l-9,6l-10,7l-10,7l-11,8l-9,7l-8,7l-8,8l-8,7l-7,7l-7,8l-6,8l-7,8l-6,9l-6,8l-6,8l-5,8l-6,9l-6,8l-6,9l-5,8l-6,9l-5,9l-5,8l-6,9l-5,9l-5,9l-5,9l-5,9l-5,9l-5,10l-5,9l-5,10l-5,9l-5,10l-6,11l-5,12l-4,10l-4,10l-4,10l-5,10l-4,10l-4,11l-4,10l-4,10l-5,10l-4,11l-4,10l-4,10l-4,10l-4,11l-4,10l-5,10l-4,11l-4,10l-4,10l-4,10l-4,10l-4,10l-4,11l-4,10l-4,10l-3,10l-4,10l-4,9l-4,10l-4,10l-3,10l-4,10l-4,9l-3,10l-4,9l-4,10l-3,9l-4,9l-3,10l-4,9l-3,9l-3,9l-4,9l-3,8l-3,9l-3,9l-3,8l-4,9l-3,8l-3,8l-2,8l-3,8l-3,8l-3,8l-3,7l-3,9l-5,16l-4,15l-3,14l-2,13l-1,13l0,13l1,12l2,11l3,11l4,10l5,11l8,10l9,10l10,8l10,7l11,6l11,4l11,4l12,2l11,2l12,1l12,0l12,-2l12,-2l12,-3l11,-4l12,-5l12,-7l11,-7l10,-8l8,-9l8,-9l4,-9l-10,12l-15,4l-15,-4l-12,-10l-4,-15l4,-15l-2,4l-3,3l-4,4l-5,4l-6,4l-7,4l-7,3l-8,3l-7,2l-7,1l-8,1l-6,0l-7,-1l-6,-1l-6,-2l-5,-2l-4,-3l-3,-3l-3,-4l-2,-4l-1,-3l0,-5l0,-6l1,-3l0,-5l1,-5l1,-7l1,-7l2,-9l3,-10l3,-12l4,-13l2,-6l3,-8l2,-7l3,-8l3,-8l3,-8l3,-8l3,-8l3,-9l3,-8l3,-9l3,-8l4,-9l3,-9l3,-9l4,-9l3,-9l4,-9l3,-9l4,-9l3,-10l4,-9l3,-10l4,-9l4,-10l3,-10l4,-9l4,-10l4,-10l3,-10l4,-10l4,-10l4,-10l4,-10l4,-10l4,-10l4,-10l4,-10l4,-10l4,-10l4,-11l4,-10l4,-10l4,-10l4,-10l5,-10l4,-11l4,-10l4,-10l4,-10l4,-10l5,-10l4,-10l4,-11l4,-10l4,-10l4,-8l4,-8l5,-10l4,-9l5,-9l5,-9l5,-8l4,-9l5,-9l5,-8l5,-9l5,-8l5,-8l5,-8l5,-8l5,-8l5,-8l5,-8l5,-8l6,-7l5,-8l5,-8l6,-7l5,-8l6,-7l6,-8l5,-8l5,-8l6,-8l5,-8l5,-9l4,-8l5,-8l6,-8l7,-7l6,-6l7,-6l7,-6l7,-4l8,-4l7,-4l7,-4l8,-3l7,-3l8,-3l8,-2l6,-2l5,0l7,1l6,1l5,2l4,2l4,3l3,2l3,3l2,3l2,4l1,4l2,4l0,5l0,6l0,6l-1,7l-2,7l-2,8l-3,8l-4,8l-5,8l-3,6l-4,6l-4,6l-5,6l-5,7l-5,6l-5,7l-6,6l-5,7l-6,7l-6,7l-7,6l-6,7l-6,7l-7,7l-7,7l-7,7l-7,7l-7,8l-8,7l-7,7l-8,7l-8,7l-7,7l-8,7l-8,7l-8,7l-8,7l-8,7l-8,7l-9,7l-8,7l-8,7l-8,6l-9,7l-8,7l-8,6l-9,6l-8,7l-8,6l-8,6l-8,6l-9,6l-8,6l-8,6l-8,6l-8,5l-7,6l-8,5l-8,5l-7,5l-8,5l13,-4l12,3l10,8l4,13l-3,12z"/></g>
<g id="k20"><circle cx="1925" cy="160" r="28"/><path d="M1917,149l-9,4l-8,5l-9,6l-8,6l-8,6l-8,7l-7,8l-7,8l-6,8l-6,9l-6,9l-5,9l-5,10l-4,9l-4,11l-4,10l-3,11l-2,11l-2,11l-2,12l1,13l2,11l5,9l5,8l7,6l7,4l-7,-6l-2,-9l3,-9l6,-7l9,-2l9,3l-3,-2l-3,-4l-1,-3l-1,-4l-1,-6l1,-9l2,-9l2,-9l3,-9l3,-9l3,-9l4,-8l4,-8l4,-8l5,-7l5,-8l5,-6l6,-7l6,-6l6,-6l6,-5l7,-5l6,-4l7,-4l8,-4l-9,2l-9,-3l-6,-7l-2,-9l3,-9z"/><path d="M1868,178l-7,-7l-7,-7l-7,-7l-8,-6l-9,-6l-8,-6l-9,-5l-9,-5l-9,-5l-9,-4l-10,-4l-10,-4l-10,-3l-10,-3l-10,-3l-11,-2l-10,-2l-11,-2l-11,-1l-11,0l-11,-1l-11,0l-11,1l-11,1l-11,0l-11,1l-12,1l-12,1l-11,1l-14,1l-13,3l-11,3l-11,4l-10,5l-10,6l-9,7l-9,7l-8,8l-7,8l-7,8l-6,9l-6,10l-5,9l-5,10l-5,10l-3,10l-4,11l-3,10l-2,11l-2,11l-1,11l-1,11l0,11l0,11l1,12l1,11l1,11l2,12l3,11l3,11l3,12l4,11l5,11l5,11l5,11l5,12l7,11l6,10l7,11l7,10l7,9l8,9l7,9l8,9l8,8l8,8l8,8l8,7l8,8l8,7l8,6l8,7l7,6l8,6l-15,-20l-2,-24l10,-23l20,-14l24,-3l23,10l-8,-6l-7,-5l-7,-6l-7,-6l-7,-6l-7,-7l-7,-6l-6,-7l-7,-6l-6,-7l-6,-7l-6,-7l-6,-7l-6,-7l-5,-7l-5,-8l-4,-7l-5,-8l-4,-8l-4,-8l-3,-9l-3,-8l-3,-8l-3,-8l-2,-8l-2,-7l-1,-8l-1,-8l-1,-7l0,-7l0,-7l0,-7l0,-7l1,-7l1,-6l2,-6l1,-7l2,-5l2,-6l3,-6l3,-5l3,-6l3,-5l3,-5l4,-4l4,-5l4,-5l4,-5l5,-4l4,-5l5,-6l5,-5l6,-6l4,-5l7,-5l8,-5l8,-4l9,-3l9,-3l9,-1l9,-1l10,-1l9,0l9,1l9,0l9,1l9,1l9,2l8,2l9,2l8,3l8,2l9,3l7,4l8,3l8,4l7,4l7,4l7,5l6,5l7,5l6,5l5,5l6,6l-6,-11l0,-13l7,-11l11,-6l13,0z"/><path d="M1610,582l-12,-49l-11,2l-10,2l-10,2l-10,2l-11,2l-10,2l-10,2l-10,2l-10,2l-11,3l-10,3l-10,3l-10,3l-10,3l-10,4l-9,3l-10,4l-10,4l-10,4l-9,4l-9,5l-10,4l-9,5l-9,5l-9,5l-9,5l-9,6l-8,5l-9,6l-8,6l-9,6l-8,6l-8,6l-8,7l-8,6l-8,6l-8,6l-8,7l-9,7l-9,8l-7,8l-7,9l-7,9l-6,9l-5,9l-4,10l-4,10l-3,10l-3,10l-2,10l-1,10l-2,10l0,11l0,10l0,10l1,10l2,11l2,10l2,10l3,9l4,10l4,10l5,9l5,9l5,9l7,9l6,8l8,9l7,7l9,8l8,7l10,7l10,5l10,6l11,4l11,4l14,4l11,2l10,0l9,1l9,1l9,1l9,0l9,1l9,0l10,1l9,0l9,1l10,0l9,0l10,-1l10,0l9,-1l10,-1l10,-1l10,-1l9,-1l10,-2l10,-1l10,-2l10,-2l10,-2l10,-3l10,-2l10,-3l10,-3l10,-3l10,-3l9,-3l10,-3l10,-4l10,-4l10,-3l10,-4l9,-5l10,-4l10,-4l10,-5l9,-4l10,-5l9,-5l9,-5l10,-6l9,-5l9,-5l9,-6l9,-6l9,-6l9,-5l9,-6l9,-6l9,-6l9,-6l9,-5l9,-6l10,-7l10,-7l9,-7l9,-8l8,-8l9,-8l7,-9l7,-9l7,-10l7,-9l7,-10l6,-9l6,-10l5,-10l6,-10l5,-10l5,-10l4,-10l4,-10l4,-11l4,-10l3,-10l3,-11l2,-10l2,-10l2,-11l1,-10l1,-10l1,-11l0,-10l0,-10l-1,-10l-1,-10l-2,-10l-2,-10l-3,-10l-3,-8l1,20l-9,19l-17,12l-20,1l-19,-9l-12,-17l3,7l1,5l1,6l2,6l0,6l1,6l0,7l0,7l0,7l-1,7l-1,7l-1,8l-2,8l-2,7l-2,8l-2,8l-3,8l-3,8l-4,9l-3,8l-4,8l-4,8l-5,8l-4,8l-5,8l-5,9l-6,7l-5,8l-6,8l-6,8l-6,7l-6,8l-6,8l-6,8l-6,8l-6,7l-6,8l-6,7l-7,7l-7,7l-8,6l-7,6l-8,6l-8,6l-9,5l-8,5l-8,6l-9,5l-8,5l-9,5l-9,4l-9,5l-8,4l-9,5l-9,4l-9,4l-9,4l-9,4l-9,4l-10,3l-9,4l-9,3l-9,3l-9,3l-9,3l-10,3l-9,2l-9,3l-9,2l-9,2l-9,2l-9,2l-10,2l-9,1l-9,1l-8,2l-9,1l-9,1l-9,0l-9,1l-8,0l-9,1l-8,0l-9,0l-8,-1l-8,0l-8,-1l-8,-1l-8,-1l-7,-2l-8,-2l-7,-3l-7,-2l-7,-3l-4,-3l-6,-5l-7,-5l-6,-5l-7,-5l-5,-5l-6,-5l-5,-5l-5,-5l-5,-4l-5,-5l-3,-5l-4,-5l-3,-6l-3,-5l-3,-5l-2,-5l-2,-6l-2,-5l-2,-6l-1,-6l-1,-6l0,-5l0,-6l0,-6l0,-6l1,-7l1,-6l1,-6l2,-6l2,-6l2,-7l2,-6l2,-7l3,-7l2,-7l3,-7l3,-7l3,-7l4,-7l5,-7l5,-7l6,-6l6,-7l7,-6l6,-6l8,-5l7,-6l7,-5l8,-5l8,-5l7,-5l8,-4l8,-5l9,-4l8,-5l8,-4l9,-4l8,-4l9,-3l9,-4l9,-3l9,-4l9,-3l9,-3l9,-3l9,-2l10,-3l9,-2l9,-2l10,-3l9,-1l9,-2l10,-2l9,-1l10,-1l9,0l10,-1l9,0l10,1l9,0l40,-20l-17,-47l11,15l2,19l-7,17l-15,11l-19,2z"/><path d="M2082,349l0,6l-1,4l-1,5l-1,5l-2,4l-2,5l-2,5l-3,5l-4,6l-4,5l-4,5l-5,6l-5,5l-5,6l-6,5l-7,6l-6,5l-8,6l-7,6l-8,5l-8,6l-9,6l-9,5l-9,6l-10,6l-10,5l-10,6l-11,5l-11,6l-11,6l-11,5l-12,6l-12,5l-13,6l-12,6l-11,5l-11,5l-10,5l-11,5l-10,6l-10,5l-9,6l-10,6l-10,6l-9,6l-9,6l-9,6l-9,7l-8,6l-8,7l-8,6l-8,7l-8,7l-7,7l-7,7l-7,7l-7,7l-6,8l-7,7l-5,8l-6,8l-5,8l-5,7l-5,8l-4,9l-5,8l-3,8l-4,9l-3,8l-2,9l-3,9l-2,10l-1,16l1,15l2,13l4,13l5,11l6,10l8,8l9,7l9,5l9,3l-8,-5l-4,-9l1,-9l5,-8l9,-4l9,1l-6,-2l-4,-3l-4,-3l-4,-4l-3,-5l-3,-6l-3,-8l-1,-9l-1,-11l1,-12l1,-6l2,-7l3,-7l2,-7l3,-8l3,-7l4,-7l3,-7l5,-7l4,-7l5,-7l4,-6l6,-7l5,-7l6,-7l6,-6l6,-7l7,-6l7,-7l7,-6l7,-6l7,-6l8,-6l8,-6l8,-6l9,-6l8,-6l9,-6l9,-5l9,-6l9,-5l10,-6l9,-5l10,-5l10,-5l10,-5l10,-5l13,-5l13,-6l12,-5l12,-6l12,-6l12,-6l11,-6l11,-5l11,-6l10,-6l10,-6l10,-6l10,-6l9,-6l9,-6l8,-6l8,-6l8,-7l8,-6l7,-6l7,-6l6,-7l6,-6l6,-7l5,-6l5,-7l4,-7l4,-6l4,-7l3,-7l2,-8l2,-7l2,-7l1,-8l0,-6l-3,9l-7,6l-9,2l-9,-3l-6,-7z"/></g>
<g id="k21"><path d="M341,519l-11,-4l-10,-5l-9,-4l-9,-5l-8,-5l-8,-5l-7,-5l-7,-5l-7,-6l-5,-5l-6,-6l-5,-6l-4,-6l-4,-6l-3,-5l-3,-6l-3,-6l-2,-6l-1,-7l-1,-6l-1,-6l0,-7l0,-6l1,-7l0,-4l1,-4l2,-5l1,-4l2,-5l2,-4l3,-5l2,-5l3,-5l4,-4l3,-5l4,-5l4,-5l5,-5l4,-5l5,-5l6,-5l5,-5l6,-6l6,-5l7,-5l6,-5l7,-5l7,-5l8,-5l7,-5l8,-5l8,-5l9,-5l8,-5l9,-5l9,-5l9,-5l10,-4l9,-5l10,-5l10,-4l10,-5l11,-5l10,-4l11,-4l11,-5l11,-4l12,-4l11,-5l11,-4l12,-4l12,-4l12,-4l12,-5l12,-5l12,-4l9,-4l9,-3l10,-3l10,-3l10,-2l10,-2l10,-2l10,-2l10,-1l11,-1l10,-1l10,-1l11,-1l10,-1l10,0l11,-1l10,0l10,0l11,0l10,0l11,0l10,1l10,0l10,1l11,1l10,1l10,1l10,1l10,1l10,2l9,1l10,2l10,2l9,2l10,2l9,2l9,2l9,3l9,2l9,3l9,3l9,3l8,3l8,3l8,3l8,3l8,4l8,3l7,4l8,3l7,4l7,4l6,4l6,5l6,5l6,4l5,5l5,6l4,5l4,5l3,7l4,7l3,6l3,7l2,6l3,6l2,6l2,6l2,5l2,6l1,6l1,5l1,6l0,6l1,6l-1,5l0,6l-1,6l-1,6l-1,6l-2,7l-2,6l-2,6l-3,6l-3,7l-4,6l-3,6l-4,7l-5,6l-4,6l-6,6l-5,7l-6,6l-6,6l-6,6l-7,6l-7,6l-7,7l-7,6l-7,7l-8,7l-6,4l-6,5l-6,4l-6,4l-6,4l-6,4l-7,4l-7,4l-7,4l-7,3l-7,4l-8,3l-7,4l-8,3l-8,3l-8,3l-8,3l-8,4l-8,3l-8,3l-9,3l-8,2l-9,3l-9,3l-8,3l-9,3l-9,2l-9,3l-10,2l-9,3l-9,2l-10,2l-9,3l-10,2l-10,2l-9,2l-10,2l-10,2l-10,2l-10,2l-10,1l-11,2l-10,1l-10,2l-11,1l-10,2l-11,1l-10,1l-11,1l-11,1l-11,1l-10,1l-11,1l-11,1l-11,0l-11,1l-11,0l-11,1l-12,0l-11,0l-11,1l-11,0l-11,0l-12,-1l-11,0l-12,0l-11,0l14,4l9,10l3,14l-4,14l-10,9l-14,3l12,1l12,0l11,0l12,1l12,0l12,0l11,-1l12,0l11,0l12,-1l11,0l12,-1l11,0l12,-1l11,-1l11,-1l11,-1l11,-1l12,-1l11,-1l11,-2l10,-1l11,-2l11,-1l11,-2l10,-2l11,-1l11,-2l10,-2l10,-2l11,-2l10,-2l10,-3l10,-2l10,-2l10,-3l10,-2l10,-3l9,-2l10,-3l9,-3l10,-3l9,-2l9,-3l9,-3l9,-3l9,-4l9,-3l9,-3l8,-3l9,-4l8,-3l9,-4l8,-3l8,-4l8,-3l8,-4l8,-4l7,-3l8,-4l7,-4l8,-3l7,-4l8,-3l7,-4l7,-3l7,-4l11,-5l11,-5l10,-6l9,-7l10,-7l9,-7l8,-8l8,-7l7,-8l7,-9l7,-8l7,-8l6,-9l5,-9l6,-9l5,-9l4,-9l4,-9l4,-10l3,-9l2,-10l3,-9l1,-10l2,-10l0,-10l1,-10l-1,-9l-1,-10l-1,-10l-2,-10l-2,-9l-3,-10l-4,-9l-4,-10l-5,-8l-6,-9l-6,-8l-7,-8l-8,-7l-8,-7l-10,-6l-8,-5l-7,-4l-7,-5l-7,-4l-8,-4l-7,-4l-8,-4l-8,-5l-7,-4l-8,-4l-8,-4l-8,-4l-9,-4l-8,-4l-9,-3l-9,-4l-9,-3l-9,-3l-9,-3l-10,-3l-9,-3l-10,-3l-9,-3l-10,-2l-10,-2l-10,-3l-10,-2l-10,-2l-11,-1l-10,-2l-11,-2l-10,-1l-11,-1l-10,-1l-11,-1l-11,-1l-10,-1l-11,-1l-11,0l-11,0l-11,0l-11,0l-11,0l-11,0l-11,0l-10,1l-11,1l-11,1l-11,1l-11,1l-11,1l-11,2l-11,1l-10,2l-11,1l-11,2l-10,2l-11,2l-11,2l-11,1l-13,3l-13,3l-13,4l-13,3l-12,4l-12,4l-12,5l-12,4l-12,5l-11,4l-12,5l-11,4l-11,5l-11,5l-11,5l-11,5l-10,5l-10,5l-10,5l-10,5l-10,5l-9,5l-10,6l-9,5l-8,5l-9,6l-8,5l-9,6l-8,6l-7,5l-8,6l-7,6l-7,6l-7,6l-7,6l-6,6l-6,6l-6,6l-5,6l-6,7l-5,6l-4,6l-5,7l-4,7l-4,6l-3,7l-3,7l-3,7l-3,7l-2,7l-1,8l-2,7l-1,11l0,10l0,11l1,10l2,10l3,10l3,10l4,10l4,9l5,9l6,9l7,8l7,8l7,8l8,8l8,7l9,7l10,6l9,7l11,6l10,6l11,5l12,5l11,5l-11,-9l-6,-13l2,-15l9,-11l13,-6z"/><circle cx="440" cy="635" r="28"/><path d="M880,290 C840,250 780,230 720,250 C660,275 610,350 575,440 L520,580 L610,600 C640,510 690,400 750,340 C790,305 840,292 880,290Z"/><path d="M525,569l-4,9l-4,10l-4,9l-4,9l-4,9l-5,9l-4,10l-5,9l-4,10l-5,10l-5,9l-4,10l-5,9l-5,10l-5,10l-4,10l-5,9l-5,10l-5,10l-5,9l-5,10l-5,10l-5,9l-5,10l-4,9l-5,9l-5,10l-5,9l-5,9l-4,9l-5,9l-5,9l-4,8l-5,9l-4,8l-5,8l-4,9l-4,8l-5,7l-4,8l-4,8l-4,7l-4,7l-4,7l-3,7l13,-14l19,-6l19,5l14,13l6,19l-5,19l4,-6l4,-8l4,-7l4,-7l4,-8l4,-7l4,-8l5,-8l4,-9l5,-8l4,-8l5,-9l4,-9l5,-9l5,-9l5,-9l4,-9l5,-9l5,-10l5,-9l5,-10l5,-9l5,-10l5,-10l5,-9l5,-10l5,-10l5,-10l5,-9l4,-10l5,-10l5,-10l5,-10l5,-10l4,-9l5,-10l5,-10l4,-10l5,-9l4,-10l5,-9l4,-10l4,-9l5,-9l4,-9l-13,15l-18,7l-20,-3l-15,-13l-7,-18z"/><path d="M331,988l5,29l34,3l10,-4l9,-5l10,-4l9,-6l9,-5l10,-6l9,-6l9,-6l9,-7l8,-7l9,-7l8,-7l8,-7l8,-7l7,-7l7,-8l7,-7l7,-7l6,-8l6,-7l-8,6l-10,1l-9,-4l-6,-8l-1,-10l4,-9l-5,6l-6,7l-6,7l-7,7l-6,6l-7,7l-7,7l-8,6l-7,7l-8,6l-8,6l-8,6l-8,6l-8,5l-8,5l-9,4l-8,4l-9,4l7,18l-4,12l-10,8l-12,2l-12,-4l-8,-10z"/><path d="M484,667l5,8l5,7l5,8l6,8l5,8l6,8l5,8l6,8l6,8l5,9l6,8l6,8l6,8l6,9l7,8l6,8l6,8l7,9l6,8l6,8l7,8l7,9l6,8l7,8l7,9l7,8l6,8l7,8l7,8l7,8l7,8l8,9l7,8l7,7l7,8l7,8l7,8l8,8l7,7l7,8l8,8l7,7l8,8l7,7l8,7l7,7l8,8l7,7l8,6l7,7l8,7l7,7l8,6l7,7l8,6l7,6l8,6l8,6l7,6l8,6l7,5l8,6l7,5l8,6l8,5l7,5l8,4l9,6l10,6l10,5l10,5l10,5l10,5l11,5l10,4l10,4l10,3l11,4l10,3l11,3l10,3l11,2l10,3l11,2l10,2l10,1l11,1l10,1l10,1l11,1l10,0l10,0l10,0l10,0l10,-1l10,-1l9,-1l10,-2l9,-1l10,-2l9,-2l9,-3l9,-2l9,-3l9,-4l8,-3l8,-4l9,-4l7,-4l8,-5l8,-5l7,-5l7,-6l7,-6l6,-6l7,-6l5,-7l6,-7l5,-7l6,-9l6,-12l6,-12l4,-12l3,-12l3,-11l1,-12l1,-11l0,-11l-1,-11l-1,-9l-3,15l-10,13l-15,6l-15,-3l-13,-10l-6,-15l1,9l1,7l0,7l-1,8l-1,7l-1,7l-2,7l-3,8l-3,8l-5,9l-3,4l-3,5l-4,4l-4,5l-4,4l-5,4l-4,4l-5,4l-5,4l-6,3l-5,4l-6,3l-6,3l-7,3l-6,3l-7,2l-7,2l-7,3l-7,2l-8,1l-7,2l-8,1l-8,1l-8,1l-8,1l-8,1l-9,0l-8,0l-9,0l-9,0l-8,-1l-9,0l-9,-1l-9,-1l-9,-2l-9,-1l-9,-2l-10,-2l-9,-2l-9,-3l-9,-2l-9,-3l-9,-3l-9,-3l-9,-4l-9,-4l-9,-3l-9,-5l-9,-4l-9,-4l-8,-5l-9,-5l-9,-5l-6,-5l-7,-4l-7,-5l-7,-5l-7,-4l-7,-6l-7,-5l-7,-5l-7,-6l-7,-5l-7,-6l-8,-6l-7,-6l-7,-6l-7,-6l-7,-6l-7,-7l-8,-6l-7,-7l-7,-7l-7,-6l-7,-7l-7,-7l-8,-7l-7,-8l-7,-7l-7,-7l-7,-7l-7,-8l-7,-7l-7,-8l-7,-7l-7,-8l-7,-8l-7,-8l-7,-7l-7,-8l-7,-8l-6,-8l-7,-8l-7,-8l-6,-8l-7,-8l-7,-8l-6,-8l-6,-8l-7,-8l-6,-8l-6,-8l-7,-8l-6,-8l-6,-8l-6,-9l-6,-8l-6,-8l-5,-8l-6,-7l-6,-8l-5,-8l-6,-8l-5,-8l-6,-8l-5,-7l-5,-8l-5,-8l-5,-7l-5,-8l5,15l-3,16l-11,12l-15,5l-16,-3z"/></g>
<g id="k22"><path d="M1312,944l6,-6l7,-6l7,-6l6,-6l7,-6l7,-6l7,-6l6,-7l7,-6l7,-7l7,-6l6,-7l7,-7l7,-6l7,-7l7,-7l7,-7l7,-7l6,-7l7,-7l7,-7l7,-8l7,-7l7,-7l7,-8l7,-7l7,-8l7,-7l6,-8l7,-8l7,-7l7,-8l7,-8l7,-8l7,-8l7,-7l7,-8l6,-8l7,-8l7,-8l7,-8l7,-9l6,-8l7,-8l7,-8l7,-8l7,-8l6,-9l7,-8l7,-8l6,-8l7,-9l7,-8l6,-8l7,-9l6,-8l7,-8l6,-9l7,-8l6,-8l7,-9l6,-8l6,-8l7,-9l6,-8l6,-8l6,-9l6,-8l6,-8l8,-10l8,-10l7,-10l8,-10l7,-10l8,-9l8,-10l7,-9l8,-10l7,-9l8,-9l7,-9l8,-9l7,-8l8,-9l7,-8l7,-8l8,-8l7,-8l7,-8l7,-8l7,-7l7,-7l8,-7l7,-7l6,-7l7,-6l7,-6l7,-6l7,-6l6,-6l7,-5l7,-6l6,-4l6,-5l7,-5l6,-4l6,-4l6,-4l6,-3l6,-3l6,-3l6,-2l5,-2l6,-2l5,-2l5,1l5,1l4,2l3,1l5,3l3,4l2,4l1,3l0,4l1,4l0,5l0,5l-1,5l-1,7l-1,6l-2,7l-3,7l-2,8l-4,7l-4,8l-4,8l-5,8l-6,9l-5,8l-7,9l-6,8l-8,8l-5,6l-6,6l-6,6l-6,6l-6,6l-6,7l-7,6l-6,6l-7,6l-7,6l-7,7l-7,6l-8,6l-7,6l-8,7l-7,6l-8,6l-8,6l-8,7l-8,6l-8,6l-8,6l-8,7l-9,6l-8,6l-9,6l-8,6l-9,6l-8,7l-9,6l-9,6l-9,6l-8,6l-9,6l-9,6l-9,6l-9,6l-9,5l-9,6l-8,6l-9,6l-9,5l-9,6l-9,6l-9,5l-8,6l-9,5l-9,5l-9,6l-8,5l-9,5l-8,5l-9,6l13,-4l12,3l9,9l4,13l-3,12l-9,9l8,-5l9,-5l9,-5l8,-6l9,-5l9,-5l9,-6l9,-5l9,-6l9,-6l9,-5l9,-6l9,-6l9,-6l9,-6l9,-6l9,-6l9,-6l9,-6l9,-6l9,-6l9,-6l9,-6l8,-7l9,-6l9,-6l9,-6l8,-7l9,-6l9,-6l8,-7l8,-6l9,-7l8,-6l8,-6l8,-7l8,-6l8,-7l8,-6l8,-7l7,-6l8,-7l7,-6l7,-7l8,-6l7,-7l6,-6l7,-7l7,-6l6,-7l6,-6l7,-7l6,-6l8,-10l8,-10l7,-10l7,-9l6,-10l6,-10l5,-10l5,-9l5,-10l3,-10l4,-9l2,-9l2,-10l2,-9l1,-9l0,-9l0,-8l-1,-9l-2,-9l-3,-8l-4,-7l-5,-8l-6,-6l-7,-6l-8,-5l-8,-3l-9,-3l-9,-1l-9,-1l-12,1l-10,3l-6,3l-6,3l-7,4l-6,3l-7,4l-6,4l-7,4l-7,5l-6,4l-7,5l-7,5l-7,5l-7,5l-7,6l-7,5l-7,6l-7,6l-7,7l-7,6l-7,7l-8,7l-7,7l-7,7l-7,8l-8,7l-7,8l-8,8l-7,8l-8,8l-7,9l-8,8l-7,9l-8,9l-7,9l-8,9l-8,9l-7,9l-8,10l-8,9l-7,10l-8,10l-8,10l-7,10l-8,10l-8,10l-7,10l-7,9l-6,8l-6,8l-6,8l-6,9l-7,8l-6,8l-6,8l-7,9l-6,8l-6,8l-7,9l-6,8l-7,8l-6,8l-7,9l-6,8l-7,8l-6,8l-7,8l-7,9l-6,8l-7,8l-7,8l-7,8l-6,8l-7,8l-7,8l-6,8l-7,8l-7,8l-7,8l-7,8l-6,8l-7,7l-7,8l-7,8l-7,8l-7,7l-6,8l-7,7l-7,8l-7,7l-7,8l-7,7l-6,7l-7,7l-7,8l-7,7l-7,7l-6,7l-7,7l-7,7l-7,6l-6,7l-7,7l-7,6l-7,7l-6,6l-7,7l-6,6l-7,6l-7,6l-6,6l-7,6l-6,6l-7,6l-6,6l-7,5l9,-4l9,1l8,5l4,9l-1,9z"/><path d="M2013,69l-8,6l-7,6l-7,6l-8,6l-7,6l-7,6l-7,7l-7,6l-7,7l-7,6l-7,7l-7,7l-7,7l-6,8l-7,7l-7,7l-6,8l-7,7l-6,8l-6,8l-7,7l-6,8l-6,8l-6,8l-6,9l-6,8l-6,8l-6,9l-6,8l-6,9l-6,8l-6,9l-5,9l-6,9l-6,9l-5,9l-6,9l-5,9l-6,9l-5,9l-5,9l-6,10l-5,9l-5,10l-5,9l-5,10l-5,9l-5,10l-5,10l-5,10l-5,9l-5,10l-5,10l-5,10l-5,10l-4,10l-5,10l-5,10l-4,10l-5,11l-6,14l-5,12l-5,12l-5,13l-5,12l-6,12l-5,12l-5,12l-5,11l-5,12l-4,11l-5,11l-5,11l-5,11l-5,11l-4,10l-5,10l-4,10l-5,10l-4,10l-5,9l-4,9l-4,9l-4,8l-4,9l-4,8l-4,7l-4,8l-3,7l-4,7l-4,6l-3,6l-3,6l-3,6l-3,5l-3,4l-3,5l-3,4l-2,3l-3,4l19,-15l23,-4l21,8l15,19l4,23l-8,21l3,-4l3,-5l4,-5l3,-6l4,-6l3,-6l4,-6l4,-7l4,-7l3,-7l4,-8l4,-7l4,-8l4,-8l5,-9l4,-8l4,-9l5,-10l4,-9l4,-10l5,-9l5,-10l4,-11l5,-10l5,-11l4,-10l5,-11l5,-12l5,-11l5,-11l5,-12l5,-12l5,-12l5,-12l6,-12l5,-12l5,-13l5,-12l5,-13l5,-12l4,-9l5,-10l4,-10l5,-10l5,-9l4,-10l5,-9l4,-10l5,-9l5,-10l5,-9l4,-9l5,-10l5,-9l5,-9l5,-9l5,-9l5,-9l5,-9l5,-9l5,-9l5,-8l5,-9l6,-8l5,-9l5,-8l5,-8l6,-9l5,-8l6,-8l5,-8l5,-8l6,-8l6,-7l5,-8l6,-7l5,-8l6,-7l6,-7l6,-8l5,-7l6,-7l6,-6l6,-7l6,-7l6,-6l6,-7l6,-6l6,-6l6,-6l6,-6l6,-6l7,-6l6,-6l6,-5l6,-6l7,-5l6,-5l7,-5l6,-5l-21,9l-23,-3l-19,-15l-9,-21l3,-23z"/><path d="M1625,852l7,-8l7,-9l7,-8l7,-9l7,-8l7,-8l7,-9l8,-8l7,-8l8,-8l7,-9l8,-8l8,-8l8,-7l7,-8l8,-8l8,-7l8,-8l8,-7l8,-8l8,-7l8,-7l8,-6l8,-7l8,-7l8,-6l8,-6l8,-6l8,-6l7,-6l8,-5l8,-5l7,-5l8,-5l7,-5l8,-4l7,-4l7,-4l7,-4l7,-3l7,-3l7,-2l7,-2l6,-1l7,-1l6,0l6,0l5,0l-1,9l-7,4l-1,6l-1,5l-1,5l-2,6l-2,7l-3,7l-3,8l-4,9l-5,8l-4,9l-6,10l-5,9l-6,10l-7,10l-7,12l-8,13l-6,12l-7,11l-6,12l-6,12l-6,11l-6,11l-5,11l-5,11l-4,11l-5,11l-3,10l-4,11l-3,10l-2,10l-2,11l-2,10l0,10l0,11l0,10l2,11l4,11l4,10l8,13l13,13l17,9l17,4l17,0l15,-3l14,-5l12,-8l10,-8l9,-8l9,-8l8,-7l9,-7l10,-6l9,-6l9,-6l10,-6l9,-6l9,-7l9,-6l9,-6l8,-7l9,-6l8,-7l8,-6l8,-7l8,-6l7,-7l7,-6l7,-6l7,-7l7,-6l6,-6l6,-6l-8,5l-9,0l-7,-5l-5,-8l0,-9l5,-7l-6,6l-6,5l-6,6l-7,6l-6,6l-7,7l-8,6l-7,6l-8,6l-7,6l-8,7l-8,6l-9,6l-8,6l-9,6l-8,6l-9,6l-9,6l-9,5l-9,5l-10,5l-10,3l-10,3l-11,2l-10,2l-10,0l-8,0l-5,-1l-1,-5l0,-7l0,-4l1,-5l1,-6l1,-7l2,-7l3,-8l3,-8l3,-9l4,-9l4,-9l5,-10l5,-10l5,-10l6,-11l6,-11l6,-11l6,-11l6,-11l7,-10l7,-11l7,-11l6,-11l6,-11l6,-11l5,-11l5,-10l5,-11l4,-10l3,-10l3,-11l3,-10l1,-10l0,-11l0,-11l-2,-10l-3,-11l-5,-11l-7,-9l-9,-9l-10,-6l-10,-5l-5,0l-15,-5l-20,2l-7,3l-7,4l-7,3l-7,4l-7,4l-7,4l-7,4l-8,4l-8,3l-7,5l-8,4l-8,4l-8,5l-8,5l-8,5l-8,5l-8,6l-8,6l-8,6l-9,6l-8,6l-8,7l-8,6l-9,7l-8,7l-8,7l-8,7l-9,8l-8,7l-8,8l-8,7l-9,8l-8,8l-8,8l-8,8l-8,9l-8,8l-7,8l-8,9l-8,8l-8,9l-7,8l-8,9l-7,8l-7,9l-7,9l-7,8l-7,9l8,-6l10,-1l9,4l6,8l1,10z"/></g>
</defs>
<g fill="#17596F" stroke="none">
<use href="#k0" transform="translate(290,296) scale(0.050781) translate(0,0)"/>
<use href="#k1" transform="translate(290,296) scale(0.050781) translate(0,0)"/>
<use href="#k2" transform="translate(290,296) scale(0.050781) translate(0,0)"/>
<use href="#k4" transform="translate(400,296) scale(0.050781) translate(0,0)"/>
<use href="#k5" transform="translate(400,296) scale(0.050781) translate(0,0)"/>
<use href="#k6" transform="translate(400,296) scale(0.050781) translate(0,0)"/>
<use href="#k7" transform="translate(400,296) scale(0.050781) translate(0,0)"/>
<use href="#k9" transform="translate(400,296) scale(0.050781) translate(0,0)"/>
</g>
<g fill="#57C2BC" stroke="none">
<use href="#k0" transform="translate(1185,298) scale(0.050781) translate(-85,-30)"/>
<use href="#k1" transform="translate(1185,298) scale(0.050781) translate(-82,-33)"/>
<use href="#k10" transform="translate(1280,316) scale(0.050781) translate(0,0)"/>
<use href="#k11" transform="translate(1280,316) scale(0.050781) translate(0,0)"/>
<use href="#k12" transform="translate(1280,316) scale(0.050781) translate(0,0)"/>
<use href="#k5" transform="translate(1280,316) scale(0.050781) translate(1215,-383)"/>
<use href="#k2" transform="translate(1380,316) scale(0.050781) translate(-1463,-372)"/>
<use href="#k8" transform="translate(1380,316) scale(0.050781) translate(-768,-385)"/>
</g>
<g fill="#4199D4" stroke="none">
<use href="#k13" transform="translate(750,1085) scale(0.050781) translate(0,0)"/>
<use href="#k2" transform="translate(750,1085) scale(0.050781) translate(-315,-5)"/>
<use href="#k2" transform="translate(840,1085) scale(0.050781) translate(-1635,5)"/>
<use href="#k3" transform="translate(840,1085) scale(0.050781) translate(-1635,5)"/>
<use href="#k7" transform="translate(840,1085) scale(0.050781) translate(-940,-10)"/>
<use href="#k2" transform="translate(840,1085) scale(0.050781) translate(-710,5)"/>
<use href="#k2" transform="translate(840,1085) scale(0.050781) translate(-255,5)"/>
<use href="#k3" transform="translate(840,1085) scale(0.050781) translate(-255,5)"/>
</g>
<g fill="#BFDA73" stroke="none">
<use href="#k14" transform="translate(2080,296) scale(0.050781) translate(0,0)"/>
<use href="#k7" transform="translate(2080,296) scale(0.050781) translate(-560,25)"/>
<use href="#k15" transform="translate(2080,296) scale(0.050781) translate(0,0)"/>
<use href="#k7" transform="translate(2080,296) scale(0.050781) translate(280,25)"/>
<use href="#k16" transform="translate(2200,296) scale(0.050781) translate(0,0)"/>
<use href="#k9" transform="translate(2200,296) scale(0.050781) translate(-1492,30)"/>
<use href="#k10" transform="translate(2200,296) scale(0.050781) translate(1170,400)"/>
<use href="#k17" transform="translate(2200,296) scale(0.050781) translate(0,0)"/>
<use href="#k8" transform="translate(2200,296) scale(0.050781) translate(490,20)"/>
</g>
<g fill="#72BE44" stroke="none">
<use href="#k18" transform="translate(1430,1092) scale(0.050781) translate(0,0)"/>
<use href="#k7" transform="translate(1430,1092) scale(0.050781) translate(320,-60)"/>
<use href="#k19" transform="translate(1530,1092) scale(0.050781) translate(0,0)"/>
<use href="#k1" transform="translate(1530,1092) scale(0.050781) translate(-515,-60)"/>
<use href="#k4" transform="translate(1530,1092) scale(0.050781) translate(1205,-55)"/>
<use href="#k10" transform="translate(1530,1092) scale(0.050781) translate(1915,328)"/>
<use href="#k17" transform="translate(1650,1092) scale(0.050781) translate(-1620,-95)"/>
<use href="#k8" transform="translate(1650,1092) scale(0.050781) translate(-1130,-70)"/>
<use href="#k20" transform="translate(1650,1092) scale(0.050781) translate(0,0)"/>
<use href="#k21" transform="translate(1770,1092) scale(0.050781) translate(0,0)"/>
<use href="#k7" transform="translate(1770,1092) scale(0.050781) translate(-490,-70)"/>
<use href="#k22" transform="translate(1770,1092) scale(0.050781) translate(0,0)"/>
<use href="#k10" transform="translate(1880,1092) scale(0.050781) translate(225,318)"/>
<use href="#k16" transform="translate(1880,1092) scale(0.050781) translate(815,-90)"/>
<use href="#k1" transform="translate(1880,1092) scale(0.050781) translate(-100,-62)"/>
<use href="#k15" transform="translate(1880,1092) scale(0.050781) translate(220,-90)"/>
<use href="#k1" transform="translate(1880,1092) scale(0.050781) translate(585,-62)"/>
<use href="#k17" transform="translate(1980,1092) scale(0.050781) translate(-1295,-95)"/>
<use href="#k10" transform="translate(1980,1092) scale(0.050781) translate(905,312)"/>
<use href="#k17" transform="translate(1980,1092) scale(0.050781) translate(-265,-95)"/>
<use href="#k8" transform="translate(1980,1092) scale(0.050781) translate(225,-70)"/>
</g>

</svg>
</body></html>
